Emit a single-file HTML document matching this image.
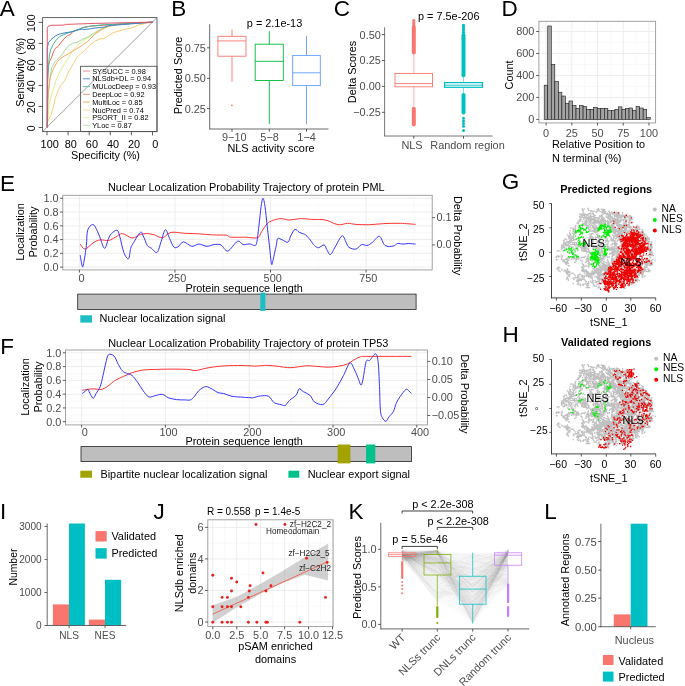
<!DOCTYPE html>
<html><head><meta charset="utf-8"><style>
html,body{margin:0;padding:0;background:#fff;overflow:hidden}
svg{display:block;will-change:transform}
text{font-family:"Liberation Sans",sans-serif}
</style></head><body>
<svg width="685" height="686" viewBox="0 0 685 686">
<rect width="685" height="686" fill="#fff"/>
<text x="-0.20" y="15.70" font-size="22.5">A</text>
<line x1="42.60" y1="131.60" x2="157.00" y2="17.60" stroke="#777" stroke-width="0.7"/>
<path d="M47.25 127.50 L47.25 122.50 L50.80 115.50 L53.40 106.80 L55.10 98.90 L56.90 93.60 L60.40 85.80 L64.80 80.50 L66.50 77.00 L68.30 71.80 L70.00 69.50 L73.50 63.40 L77.00 57.30 L80.50 53.80 L84.00 51.20 L87.50 47.60 L91.00 44.10 L94.50 41.50 L98.90 39.30 L104.20 38.20 L113.40 32.60 L122.60 29.90 L131.80 28.00 L139.20 24.80 L145.60 23.40 L153.00 22.10" fill="none" stroke="#FDCB78" stroke-width="1.0" stroke-linejoin="round"/>
<path d="M47.25 127.50 L49.00 105.00 L52.50 91.90 L56.00 80.50 L57.50 77.00 L59.50 72.60 L62.10 67.80 L66.50 60.80 L70.90 53.80 L75.30 47.60 L78.80 44.10 L83.20 40.60 L87.50 38.00 L94.50 33.60 L102.00 29.30 L108.80 26.20 L118.00 24.40 L131.80 23.40 L153.00 22.10" fill="none" stroke="#DCEE88" stroke-width="1.0" stroke-linejoin="round"/>
<path d="M47.25 127.50 L47.25 118.20 L48.10 96.30 L49.90 78.80 L51.60 67.80 L55.10 61.70 L59.50 57.30 L62.10 54.70 L64.80 50.30 L68.30 45.90 L72.60 43.30 L77.00 42.40 L81.40 39.80 L87.50 37.10 L94.50 32.80 L102.00 28.40 L108.80 26.20 L118.00 24.40 L131.80 23.40 L153.00 22.10" fill="none" stroke="#A8DAA0" stroke-width="1.0" stroke-linejoin="round"/>
<path d="M47.25 127.50 L47.60 105.00 L48.50 90.00 L49.50 82.00 L50.30 77.00 L53.40 68.70 L56.90 62.50 L59.50 59.00 L63.00 56.80 L68.30 53.80 L72.60 51.20 L77.00 48.50 L81.40 45.90 L87.50 41.50 L91.00 38.00 L94.50 34.50 L102.00 29.30 L108.80 26.20 L118.00 24.40 L131.80 23.40 L153.00 22.10" fill="none" stroke="#FBA75E" stroke-width="1.0" stroke-linejoin="round"/>
<path d="M47.25 127.50 L47.40 90.00 L48.10 66.00 L49.90 60.80 L51.60 57.30 L53.40 52.00 L55.10 48.50 L57.80 46.80 L60.40 43.30 L63.90 38.90 L67.40 35.80 L70.90 34.10 L71.80 32.30 L77.00 30.10 L83.20 27.50 L90.20 26.20 L102.00 25.30 L153.00 22.10" fill="none" stroke="#F26B45" stroke-width="1.0" stroke-linejoin="round"/>
<path d="M47.25 127.50 L47.60 80.00 L48.60 66.00 L49.40 54.70 L50.80 49.40 L53.40 44.10 L56.00 40.20 L59.50 36.70 L63.90 34.50 L70.90 31.90 L77.00 30.10 L83.20 27.50 L90.20 26.20 L102.00 24.90 L153.00 22.10" fill="none" stroke="#45B59A" stroke-width="1.0" stroke-linejoin="round"/>
<path d="M47.25 127.50 L47.25 47.60 L48.60 42.40 L50.80 39.80 L53.40 37.60 L56.00 35.60 L59.50 34.10 L63.90 33.00 L68.30 32.30 L71.80 31.90 L77.00 30.10 L81.40 29.30 L85.80 29.40 L90.20 28.80 L95.00 28.00 L104.20 27.10 L108.80 25.70 L153.00 22.10" fill="none" stroke="#3A87C8" stroke-width="1.0" stroke-linejoin="round"/>
<path d="M47.25 127.50 L47.25 28.40 L48.00 26.40 L50.80 25.30 L63.90 25.10 L65.60 24.40 L77.00 24.00 L95.00 23.40 L153.00 22.10" fill="none" stroke="#E4566C" stroke-width="1.0" stroke-linejoin="round"/>
<rect x="42.60" y="17.60" width="114.40" height="114.00" fill="none" stroke="#555" stroke-width="0.9"/>
<line x1="38.60" y1="127.50" x2="42.60" y2="127.50" stroke="#333" stroke-width="0.8"/>
<text transform="translate(30.90 128.30) rotate(-90)" x="0" y="3.79" font-size="10.6" text-anchor="middle" fill="#000">0</text>
<line x1="38.60" y1="106.48" x2="42.60" y2="106.48" stroke="#333" stroke-width="0.8"/>
<text transform="translate(30.90 107.28) rotate(-90)" x="0" y="3.79" font-size="10.6" text-anchor="middle" fill="#000">20</text>
<line x1="38.60" y1="85.46" x2="42.60" y2="85.46" stroke="#333" stroke-width="0.8"/>
<text transform="translate(30.90 86.26) rotate(-90)" x="0" y="3.79" font-size="10.6" text-anchor="middle" fill="#000">40</text>
<line x1="38.60" y1="64.44" x2="42.60" y2="64.44" stroke="#333" stroke-width="0.8"/>
<text transform="translate(30.90 65.24) rotate(-90)" x="0" y="3.79" font-size="10.6" text-anchor="middle" fill="#000">60</text>
<line x1="38.60" y1="43.42" x2="42.60" y2="43.42" stroke="#333" stroke-width="0.8"/>
<text transform="translate(30.90 44.22) rotate(-90)" x="0" y="3.79" font-size="10.6" text-anchor="middle" fill="#000">80</text>
<line x1="38.60" y1="22.40" x2="42.60" y2="22.40" stroke="#333" stroke-width="0.8"/>
<text transform="translate(30.90 23.20) rotate(-90)" x="0" y="3.79" font-size="10.6" text-anchor="middle" fill="#000">100</text>
<line x1="47.00" y1="131.60" x2="47.00" y2="135.30" stroke="#333" stroke-width="0.8"/>
<text x="49.70" y="148.10" font-size="10.9" text-anchor="middle">100</text>
<line x1="68.10" y1="131.60" x2="68.10" y2="135.30" stroke="#333" stroke-width="0.8"/>
<text x="70.80" y="148.10" font-size="10.9" text-anchor="middle">80</text>
<line x1="89.20" y1="131.60" x2="89.20" y2="135.30" stroke="#333" stroke-width="0.8"/>
<text x="91.90" y="148.10" font-size="10.9" text-anchor="middle">60</text>
<line x1="110.30" y1="131.60" x2="110.30" y2="135.30" stroke="#333" stroke-width="0.8"/>
<text x="113.00" y="148.10" font-size="10.9" text-anchor="middle">40</text>
<line x1="131.40" y1="131.60" x2="131.40" y2="135.30" stroke="#333" stroke-width="0.8"/>
<text x="134.10" y="148.10" font-size="10.9" text-anchor="middle">20</text>
<line x1="152.50" y1="131.60" x2="152.50" y2="135.30" stroke="#333" stroke-width="0.8"/>
<text x="155.20" y="148.10" font-size="10.9" text-anchor="middle">0</text>
<text x="105.50" y="159.40" font-size="10.9" text-anchor="middle">Specificity (%)</text>
<text transform="translate(19.80 72.30) rotate(-90)" x="0" y="3.90" font-size="10.9" text-anchor="middle" fill="#000">Sensitivity (%)</text>
<rect x="80.60" y="66.30" width="76.40" height="65.30" fill="none" stroke="#555" stroke-width="0.9"/>
<line x1="82.90" y1="71.00" x2="89.90" y2="71.00" stroke="#EE9AAA" stroke-width="1.2"/>
<text x="92.20" y="73.65" font-size="7.4">SYSUCC = 0.98</text>
<line x1="82.90" y1="78.77" x2="89.90" y2="78.77" stroke="#70A8D8" stroke-width="1.2"/>
<text x="92.20" y="81.42" font-size="7.4">NLSdb+DL = 0.94</text>
<line x1="82.90" y1="86.54" x2="89.90" y2="86.54" stroke="#70C8AE" stroke-width="1.2"/>
<text x="92.20" y="89.19" font-size="7.4">MULocDeep = 0.93</text>
<line x1="82.90" y1="94.31" x2="89.90" y2="94.31" stroke="#F6A898" stroke-width="1.2"/>
<text x="92.20" y="96.96" font-size="7.4">DeepLoc = 0.92</text>
<line x1="82.90" y1="102.08" x2="89.90" y2="102.08" stroke="#FDBA80" stroke-width="1.2"/>
<text x="92.20" y="104.73" font-size="7.4">MultiLoc = 0.85</text>
<line x1="82.90" y1="109.85" x2="89.90" y2="109.85" stroke="#FEE2A8" stroke-width="1.2"/>
<text x="92.20" y="112.50" font-size="7.4">NucPred = 0.74</text>
<line x1="82.90" y1="117.62" x2="89.90" y2="117.62" stroke="#EEF5B0" stroke-width="1.2"/>
<text x="92.20" y="120.27" font-size="7.4">PSORT_II = 0.82</text>
<line x1="82.90" y1="125.39" x2="89.90" y2="125.39" stroke="#C4E6C0" stroke-width="1.2"/>
<text x="92.20" y="128.04" font-size="7.4">YLoc = 0.87</text>
<text x="171.20" y="15.70" font-size="22.5">B</text>
<line x1="209.70" y1="24.30" x2="209.70" y2="129.30" stroke="#444" stroke-width="0.8"/>
<line x1="209.40" y1="129.00" x2="328.50" y2="129.00" stroke="#444" stroke-width="0.8"/>
<line x1="207.00" y1="47.80" x2="209.70" y2="47.80" stroke="#333" stroke-width="0.8"/>
<text x="205.90" y="51.70" font-size="10.9" text-anchor="end" fill="#4D4D4D">0.75</text>
<line x1="207.00" y1="78.40" x2="209.70" y2="78.40" stroke="#333" stroke-width="0.8"/>
<text x="205.90" y="82.30" font-size="10.9" text-anchor="end" fill="#4D4D4D">0.50</text>
<line x1="207.00" y1="108.60" x2="209.70" y2="108.60" stroke="#333" stroke-width="0.8"/>
<text x="205.90" y="112.50" font-size="10.9" text-anchor="end" fill="#4D4D4D">0.25</text>
<line x1="232.00" y1="129.00" x2="232.00" y2="131.70" stroke="#333" stroke-width="0.8"/>
<text x="234.30" y="141.40" font-size="10.9" text-anchor="middle" fill="#4D4D4D">9−10</text>
<line x1="269.30" y1="129.00" x2="269.30" y2="131.70" stroke="#333" stroke-width="0.8"/>
<text x="269.60" y="141.40" font-size="10.9" text-anchor="middle" fill="#4D4D4D">5−8</text>
<line x1="306.50" y1="129.00" x2="306.50" y2="131.70" stroke="#333" stroke-width="0.8"/>
<text x="306.60" y="141.40" font-size="10.9" text-anchor="middle" fill="#4D4D4D">1−4</text>
<text x="271.00" y="152.40" font-size="10.9" text-anchor="middle">NLS activity score</text>
<text transform="translate(178.30 75.40) rotate(-90)" x="0" y="3.90" font-size="10.9" text-anchor="middle" fill="#000">Predicted Score</text>
<text x="246.80" y="27.40" font-size="10.9">p = 2.1e-13</text>
<line x1="232.00" y1="36.30" x2="232.00" y2="29.40" stroke="#F8766D" stroke-width="0.9"/>
<line x1="232.00" y1="56.20" x2="232.00" y2="81.80" stroke="#F8766D" stroke-width="0.9"/>
<rect x="217.90" y="36.30" width="28.10" height="19.90" fill="none" stroke="#F8766D" stroke-width="0.9"/>
<line x1="217.90" y1="40.90" x2="246.00" y2="40.90" stroke="#F8766D" stroke-width="0.9"/>
<circle cx="231.9" cy="105.3" r="0.9" fill="#F8766D"/>
<line x1="269.30" y1="44.20" x2="269.30" y2="31.20" stroke="#00BA38" stroke-width="0.9"/>
<line x1="269.30" y1="80.50" x2="269.30" y2="123.90" stroke="#00BA38" stroke-width="0.9"/>
<rect x="255.20" y="44.20" width="28.10" height="36.30" fill="none" stroke="#00BA38" stroke-width="0.9"/>
<line x1="255.20" y1="61.30" x2="283.30" y2="61.30" stroke="#00BA38" stroke-width="0.9"/>
<line x1="306.50" y1="55.40" x2="306.50" y2="35.80" stroke="#619CFF" stroke-width="0.9"/>
<line x1="306.50" y1="85.60" x2="306.50" y2="124.40" stroke="#619CFF" stroke-width="0.9"/>
<rect x="292.70" y="55.40" width="27.60" height="30.20" fill="none" stroke="#619CFF" stroke-width="0.9"/>
<line x1="292.70" y1="72.80" x2="320.30" y2="72.80" stroke="#619CFF" stroke-width="0.9"/>
<text x="333.70" y="15.70" font-size="22.5">C</text>
<line x1="384.60" y1="27.30" x2="384.60" y2="136.30" stroke="#555" stroke-width="0.8"/>
<line x1="384.30" y1="136.00" x2="492.50" y2="136.00" stroke="#555" stroke-width="0.8"/>
<line x1="381.90" y1="34.60" x2="384.60" y2="34.60" stroke="#333" stroke-width="0.8"/>
<text x="380.80" y="38.50" font-size="10.9" text-anchor="end" fill="#4D4D4D">0.50</text>
<line x1="381.90" y1="60.50" x2="384.60" y2="60.50" stroke="#333" stroke-width="0.8"/>
<text x="380.80" y="64.40" font-size="10.9" text-anchor="end" fill="#4D4D4D">0.25</text>
<line x1="381.90" y1="86.40" x2="384.60" y2="86.40" stroke="#333" stroke-width="0.8"/>
<text x="380.80" y="90.30" font-size="10.9" text-anchor="end" fill="#4D4D4D">0.00</text>
<line x1="381.90" y1="112.30" x2="384.60" y2="112.30" stroke="#333" stroke-width="0.8"/>
<text x="380.80" y="116.20" font-size="10.9" text-anchor="end" fill="#4D4D4D">−0.25</text>
<line x1="413.80" y1="136.00" x2="413.80" y2="138.70" stroke="#333" stroke-width="0.8"/>
<line x1="463.50" y1="136.00" x2="463.50" y2="138.70" stroke="#333" stroke-width="0.8"/>
<text x="412.00" y="148.90" font-size="10.9" text-anchor="middle" fill="#4D4D4D">NLS</text>
<text x="467.50" y="148.90" font-size="10.9" text-anchor="middle" fill="#4D4D4D">Random region</text>
<text transform="translate(352.30 72.00) rotate(-90)" x="0" y="3.90" font-size="10.9" text-anchor="middle" fill="#000">Delta Scores</text>
<text x="418.00" y="20.00" font-size="10.9">p = 7.5e-206</text>
<line x1="413.80" y1="73.40" x2="413.80" y2="53.30" stroke="#FBB4AE" stroke-width="1"/>
<line x1="413.80" y1="86.80" x2="413.80" y2="106.70" stroke="#FBB4AE" stroke-width="1"/>
<rect x="395.00" y="73.40" width="37.50" height="13.40" fill="none" stroke="#F8766D" stroke-width="0.9"/>
<line x1="395.00" y1="83.60" x2="432.50" y2="83.60" stroke="#F8766D" stroke-width="0.9"/>
<circle cx="413.8" cy="20.60" r="1.6" fill="#F8766D"/>
<circle cx="413.8" cy="22.90" r="1.6" fill="#F8766D"/>
<circle cx="413.8" cy="25.20" r="1.6" fill="#F8766D"/>
<rect x="411.80" y="25.50" width="4.00" height="29.00" fill="#F8766D" rx="2"/>
<rect x="411.80" y="106.80" width="4.00" height="19.60" fill="#F8766D" rx="2"/>
<line x1="463.50" y1="82.60" x2="463.50" y2="74.40" stroke="#7FDFE1" stroke-width="1"/>
<line x1="463.50" y1="87.30" x2="463.50" y2="93.00" stroke="#7FDFE1" stroke-width="1"/>
<rect x="444.60" y="82.60" width="37.80" height="4.70" fill="none" stroke="#00BFC4" stroke-width="1.2"/>
<line x1="444.60" y1="85.20" x2="482.40" y2="85.20" stroke="#00BFC4" stroke-width="0.9"/>
<circle cx="463.5" cy="25.40" r="1.6" fill="#00BFC4"/>
<circle cx="463.5" cy="27.70" r="1.6" fill="#00BFC4"/>
<circle cx="463.5" cy="30.00" r="1.6" fill="#00BFC4"/>
<circle cx="463.5" cy="32.30" r="1.6" fill="#00BFC4"/>
<rect x="461.50" y="33.00" width="4.00" height="44.20" fill="#00BFC4" rx="2"/>
<rect x="461.50" y="93.00" width="4.00" height="21.50" fill="#00BFC4" rx="2"/>
<circle cx="463.5" cy="118.3" r="1.5" fill="#00BFC4"/>
<circle cx="463.5" cy="121.0" r="1.5" fill="#00BFC4"/>
<circle cx="463.5" cy="123.6" r="1.5" fill="#00BFC4"/>
<circle cx="463.5" cy="126.2" r="1.5" fill="#00BFC4"/>
<circle cx="463.5" cy="130.6" r="1.5" fill="#00BFC4"/>
<text x="501.50" y="15.70" font-size="22.5">D</text>
<rect x="538.90" y="21.30" width="116.70" height="101.60" fill="#fff"/>
<line x1="538.90" y1="108.41" x2="655.60" y2="108.41" stroke="#F2F2F2" stroke-width="0.5"/>
<line x1="538.90" y1="86.44" x2="655.60" y2="86.44" stroke="#F2F2F2" stroke-width="0.5"/>
<line x1="538.90" y1="64.47" x2="655.60" y2="64.47" stroke="#F2F2F2" stroke-width="0.5"/>
<line x1="538.90" y1="42.49" x2="655.60" y2="42.49" stroke="#F2F2F2" stroke-width="0.5"/>
<line x1="558.96" y1="21.30" x2="558.96" y2="122.90" stroke="#F2F2F2" stroke-width="0.5"/>
<line x1="584.67" y1="21.30" x2="584.67" y2="122.90" stroke="#F2F2F2" stroke-width="0.5"/>
<line x1="610.38" y1="21.30" x2="610.38" y2="122.90" stroke="#F2F2F2" stroke-width="0.5"/>
<line x1="636.09" y1="21.30" x2="636.09" y2="122.90" stroke="#F2F2F2" stroke-width="0.5"/>
<line x1="538.90" y1="119.40" x2="655.60" y2="119.40" stroke="#EBEBEB" stroke-width="0.9"/>
<line x1="538.90" y1="97.43" x2="655.60" y2="97.43" stroke="#EBEBEB" stroke-width="0.9"/>
<line x1="538.90" y1="75.45" x2="655.60" y2="75.45" stroke="#EBEBEB" stroke-width="0.9"/>
<line x1="538.90" y1="53.48" x2="655.60" y2="53.48" stroke="#EBEBEB" stroke-width="0.9"/>
<line x1="538.90" y1="31.50" x2="655.60" y2="31.50" stroke="#EBEBEB" stroke-width="0.9"/>
<line x1="546.10" y1="21.30" x2="546.10" y2="122.90" stroke="#EBEBEB" stroke-width="0.9"/>
<line x1="571.81" y1="21.30" x2="571.81" y2="122.90" stroke="#EBEBEB" stroke-width="0.9"/>
<line x1="597.52" y1="21.30" x2="597.52" y2="122.90" stroke="#EBEBEB" stroke-width="0.9"/>
<line x1="623.24" y1="21.30" x2="623.24" y2="122.90" stroke="#EBEBEB" stroke-width="0.9"/>
<line x1="648.95" y1="21.30" x2="648.95" y2="122.90" stroke="#EBEBEB" stroke-width="0.9"/>
<rect x="544.20" y="85.22" width="3.54" height="34.18" fill="#A3A3A3" stroke="#1a1a1a" stroke-width="0.6"/>
<rect x="547.74" y="26.01" width="3.54" height="93.39" fill="#A3A3A3" stroke="#1a1a1a" stroke-width="0.6"/>
<rect x="551.27" y="64.35" width="3.54" height="55.05" fill="#A3A3A3" stroke="#1a1a1a" stroke-width="0.6"/>
<rect x="554.81" y="81.43" width="3.54" height="37.97" fill="#A3A3A3" stroke="#1a1a1a" stroke-width="0.6"/>
<rect x="558.34" y="92.24" width="3.54" height="27.16" fill="#A3A3A3" stroke="#1a1a1a" stroke-width="0.6"/>
<rect x="561.88" y="96.04" width="3.54" height="23.36" fill="#A3A3A3" stroke="#1a1a1a" stroke-width="0.6"/>
<rect x="565.41" y="103.25" width="3.54" height="16.15" fill="#A3A3A3" stroke="#1a1a1a" stroke-width="0.6"/>
<rect x="568.95" y="100.97" width="3.54" height="18.43" fill="#A3A3A3" stroke="#1a1a1a" stroke-width="0.6"/>
<rect x="572.48" y="105.53" width="3.54" height="13.87" fill="#A3A3A3" stroke="#1a1a1a" stroke-width="0.6"/>
<rect x="576.02" y="108.38" width="3.54" height="11.02" fill="#A3A3A3" stroke="#1a1a1a" stroke-width="0.6"/>
<rect x="579.55" y="105.53" width="3.54" height="13.87" fill="#A3A3A3" stroke="#1a1a1a" stroke-width="0.6"/>
<rect x="583.09" y="106.48" width="3.54" height="12.92" fill="#A3A3A3" stroke="#1a1a1a" stroke-width="0.6"/>
<rect x="586.62" y="109.33" width="3.54" height="10.07" fill="#A3A3A3" stroke="#1a1a1a" stroke-width="0.6"/>
<rect x="590.16" y="109.33" width="3.54" height="10.07" fill="#A3A3A3" stroke="#1a1a1a" stroke-width="0.6"/>
<rect x="593.69" y="107.43" width="3.54" height="11.97" fill="#A3A3A3" stroke="#1a1a1a" stroke-width="0.6"/>
<rect x="597.23" y="108.38" width="3.54" height="11.02" fill="#A3A3A3" stroke="#1a1a1a" stroke-width="0.6"/>
<rect x="600.76" y="108.38" width="3.54" height="11.02" fill="#A3A3A3" stroke="#1a1a1a" stroke-width="0.6"/>
<rect x="604.30" y="108.38" width="3.54" height="11.02" fill="#A3A3A3" stroke="#1a1a1a" stroke-width="0.6"/>
<rect x="607.83" y="110.46" width="3.54" height="8.94" fill="#A3A3A3" stroke="#1a1a1a" stroke-width="0.6"/>
<rect x="611.37" y="110.46" width="3.54" height="8.94" fill="#A3A3A3" stroke="#1a1a1a" stroke-width="0.6"/>
<rect x="614.90" y="109.33" width="3.54" height="10.07" fill="#A3A3A3" stroke="#1a1a1a" stroke-width="0.6"/>
<rect x="618.44" y="106.86" width="3.54" height="12.54" fill="#A3A3A3" stroke="#1a1a1a" stroke-width="0.6"/>
<rect x="621.97" y="109.33" width="3.54" height="10.07" fill="#A3A3A3" stroke="#1a1a1a" stroke-width="0.6"/>
<rect x="625.51" y="108.38" width="3.54" height="11.02" fill="#A3A3A3" stroke="#1a1a1a" stroke-width="0.6"/>
<rect x="629.04" y="108.00" width="3.54" height="11.40" fill="#A3A3A3" stroke="#1a1a1a" stroke-width="0.6"/>
<rect x="632.58" y="110.27" width="3.54" height="9.13" fill="#A3A3A3" stroke="#1a1a1a" stroke-width="0.6"/>
<rect x="636.11" y="106.48" width="3.54" height="12.92" fill="#A3A3A3" stroke="#1a1a1a" stroke-width="0.6"/>
<rect x="639.65" y="108.00" width="3.54" height="11.40" fill="#A3A3A3" stroke="#1a1a1a" stroke-width="0.6"/>
<rect x="643.18" y="109.33" width="3.54" height="10.07" fill="#A3A3A3" stroke="#1a1a1a" stroke-width="0.6"/>
<rect x="646.72" y="117.49" width="3.54" height="1.91" fill="#A3A3A3" stroke="#1a1a1a" stroke-width="0.6"/>
<rect x="538.90" y="21.30" width="116.70" height="101.60" fill="none" stroke="#999" stroke-width="0.9"/>
<line x1="536.20" y1="119.40" x2="538.90" y2="119.40" stroke="#333" stroke-width="0.8"/>
<text x="534.30" y="123.30" font-size="10.9" text-anchor="end" fill="#4D4D4D">0</text>
<line x1="536.20" y1="97.43" x2="538.90" y2="97.43" stroke="#333" stroke-width="0.8"/>
<text x="534.30" y="101.33" font-size="10.9" text-anchor="end" fill="#4D4D4D">200</text>
<line x1="536.20" y1="75.45" x2="538.90" y2="75.45" stroke="#333" stroke-width="0.8"/>
<text x="534.30" y="79.35" font-size="10.9" text-anchor="end" fill="#4D4D4D">400</text>
<line x1="536.20" y1="53.48" x2="538.90" y2="53.48" stroke="#333" stroke-width="0.8"/>
<text x="534.30" y="57.38" font-size="10.9" text-anchor="end" fill="#4D4D4D">600</text>
<line x1="536.20" y1="31.50" x2="538.90" y2="31.50" stroke="#333" stroke-width="0.8"/>
<text x="534.30" y="35.41" font-size="10.9" text-anchor="end" fill="#4D4D4D">800</text>
<line x1="546.10" y1="122.90" x2="546.10" y2="125.60" stroke="#333" stroke-width="0.8"/>
<text x="546.10" y="136.50" font-size="10.9" text-anchor="middle" fill="#4D4D4D">0</text>
<line x1="571.81" y1="122.90" x2="571.81" y2="125.60" stroke="#333" stroke-width="0.8"/>
<text x="571.81" y="136.50" font-size="10.9" text-anchor="middle" fill="#4D4D4D">25</text>
<line x1="597.52" y1="122.90" x2="597.52" y2="125.60" stroke="#333" stroke-width="0.8"/>
<text x="597.52" y="136.50" font-size="10.9" text-anchor="middle" fill="#4D4D4D">50</text>
<line x1="623.24" y1="122.90" x2="623.24" y2="125.60" stroke="#333" stroke-width="0.8"/>
<text x="623.24" y="136.50" font-size="10.9" text-anchor="middle" fill="#4D4D4D">75</text>
<line x1="648.95" y1="122.90" x2="648.95" y2="125.60" stroke="#333" stroke-width="0.8"/>
<text x="648.95" y="136.50" font-size="10.9" text-anchor="middle" fill="#4D4D4D">100</text>
<text x="551.90" y="148.10" font-size="10.9">Relative Position to</text>
<text x="551.90" y="161.50" font-size="10.9">N terminal (%)</text>
<text transform="translate(509.40 74.90) rotate(-90)" x="0" y="3.90" font-size="10.9" text-anchor="middle" fill="#000">Count</text>
<text x="0.00" y="190.80" font-size="22.5">E</text>
<rect x="62.80" y="195.30" width="369.40" height="74.60" fill="#fff"/>
<line x1="62.80" y1="260.22" x2="432.20" y2="260.22" stroke="#F2F2F2" stroke-width="0.5"/>
<line x1="62.80" y1="246.46" x2="432.20" y2="246.46" stroke="#F2F2F2" stroke-width="0.5"/>
<line x1="62.80" y1="232.70" x2="432.20" y2="232.70" stroke="#F2F2F2" stroke-width="0.5"/>
<line x1="62.80" y1="218.94" x2="432.20" y2="218.94" stroke="#F2F2F2" stroke-width="0.5"/>
<line x1="62.80" y1="205.18" x2="432.20" y2="205.18" stroke="#F2F2F2" stroke-width="0.5"/>
<line x1="127.18" y1="195.30" x2="127.18" y2="269.90" stroke="#F2F2F2" stroke-width="0.5"/>
<line x1="222.72" y1="195.30" x2="222.72" y2="269.90" stroke="#F2F2F2" stroke-width="0.5"/>
<line x1="318.27" y1="195.30" x2="318.27" y2="269.90" stroke="#F2F2F2" stroke-width="0.5"/>
<line x1="413.83" y1="195.30" x2="413.83" y2="269.90" stroke="#F2F2F2" stroke-width="0.5"/>
<line x1="62.80" y1="267.10" x2="432.20" y2="267.10" stroke="#EBEBEB" stroke-width="0.9"/>
<line x1="62.80" y1="253.34" x2="432.20" y2="253.34" stroke="#EBEBEB" stroke-width="0.9"/>
<line x1="62.80" y1="239.58" x2="432.20" y2="239.58" stroke="#EBEBEB" stroke-width="0.9"/>
<line x1="62.80" y1="225.82" x2="432.20" y2="225.82" stroke="#EBEBEB" stroke-width="0.9"/>
<line x1="62.80" y1="212.06" x2="432.20" y2="212.06" stroke="#EBEBEB" stroke-width="0.9"/>
<line x1="62.80" y1="198.30" x2="432.20" y2="198.30" stroke="#EBEBEB" stroke-width="0.9"/>
<line x1="79.40" y1="195.30" x2="79.40" y2="269.90" stroke="#EBEBEB" stroke-width="0.9"/>
<line x1="174.95" y1="195.30" x2="174.95" y2="269.90" stroke="#EBEBEB" stroke-width="0.9"/>
<line x1="270.50" y1="195.30" x2="270.50" y2="269.90" stroke="#EBEBEB" stroke-width="0.9"/>
<line x1="366.05" y1="195.30" x2="366.05" y2="269.90" stroke="#EBEBEB" stroke-width="0.9"/>
<path d="M80.20 244.10 C81.00 244.93 82.82 249.33 85.00 249.10 C87.18 248.87 90.77 244.23 93.30 242.70 C95.83 241.17 97.67 240.27 100.20 239.90 C102.73 239.53 105.95 240.95 108.50 240.50 C111.05 240.05 113.18 238.35 115.50 237.20 C117.82 236.05 119.63 233.47 122.40 233.60 C125.17 233.73 129.10 237.87 132.10 238.00 C135.10 238.13 137.85 235.13 140.40 234.40 C142.95 233.67 145.08 233.52 147.40 233.60 C149.72 233.68 151.77 234.22 154.30 234.90 C156.83 235.58 159.82 238.12 162.60 237.70 C165.38 237.28 167.30 233.13 171.00 232.40 C174.70 231.67 180.18 233.07 184.80 233.30 C189.42 233.53 194.07 233.53 198.70 233.80 C203.33 234.07 207.98 234.67 212.60 234.90 C217.22 235.13 223.40 234.82 226.40 235.20 C229.40 235.58 227.50 236.87 230.60 237.20 C233.70 237.53 240.52 237.12 245.00 237.20 C249.48 237.28 254.73 238.63 257.50 237.70 C260.27 236.77 259.98 233.92 261.60 231.60 C263.22 229.28 265.35 225.65 267.20 223.80 C269.05 221.95 270.38 221.37 272.70 220.50 C275.02 219.63 278.32 218.68 281.10 218.60 C283.88 218.52 286.17 220.00 289.40 220.00 C292.63 220.00 296.80 218.70 300.50 218.60 C304.20 218.50 307.45 219.17 311.60 219.40 C315.75 219.63 321.02 219.12 325.40 220.00 C329.78 220.88 334.20 224.15 337.90 224.70 C341.60 225.25 344.58 223.35 347.60 223.30 C350.62 223.25 352.30 224.17 356.00 224.40 C359.70 224.63 365.18 224.83 369.80 224.70 C374.42 224.57 378.62 223.83 383.70 223.60 C388.78 223.37 394.98 223.17 400.30 223.30 C405.62 223.43 413.05 224.22 415.60 224.40" fill="none" stroke="#FF2A2A" stroke-width="0.95" stroke-linejoin="round"/>
<path d="M80.20 255.20 C80.53 257.05 81.63 264.92 82.20 266.30 C82.77 267.68 82.90 266.97 83.60 263.50 C84.30 260.03 85.72 251.05 86.40 245.50 C87.08 239.95 86.55 233.67 87.70 230.20 C88.85 226.73 91.45 224.00 93.30 224.70 C95.15 225.40 96.95 230.47 98.80 234.40 C100.65 238.33 102.78 247.62 104.40 248.30 C106.02 248.98 107.35 240.92 108.50 238.50 C109.65 236.08 109.90 235.18 111.30 233.80 C112.70 232.42 115.52 229.87 116.90 230.20 C118.28 230.53 118.45 232.10 119.60 235.80 C120.75 239.50 122.32 248.57 123.80 252.40 C125.28 256.23 127.35 259.48 128.50 258.80 C129.65 258.12 129.87 250.98 130.70 248.30 C131.53 245.62 131.88 245.35 133.50 242.70 C135.12 240.05 138.78 233.55 140.40 232.40 C142.02 231.25 142.03 233.62 143.20 235.80 C144.37 237.98 146.02 243.42 147.40 245.50 C148.78 247.58 149.88 247.15 151.50 248.30 C153.12 249.45 155.48 253.57 157.10 252.40 C158.72 251.23 159.82 245.08 161.20 241.30 C162.58 237.52 164.00 230.17 165.40 229.70 C166.80 229.23 168.22 235.63 169.60 238.50 C170.98 241.37 172.32 245.50 173.70 246.90 C175.08 248.30 176.28 247.73 177.90 246.90 C179.52 246.07 181.08 242.00 183.40 241.90 C185.72 241.80 189.25 245.93 191.80 246.30 C194.35 246.67 196.17 244.10 198.70 244.10 C201.23 244.10 204.45 246.22 207.00 246.30 C209.55 246.38 211.68 244.83 214.00 244.60 C216.32 244.37 218.60 243.83 220.90 244.90 C223.20 245.97 225.03 251.60 227.80 251.00 C230.57 250.40 234.95 242.37 237.50 241.30 C240.05 240.23 241.38 244.13 243.10 244.60 C244.82 245.07 246.57 244.18 247.80 244.10 C249.03 244.02 249.35 243.87 250.50 244.10 C251.65 244.33 253.67 245.73 254.70 245.50 C255.73 245.27 256.00 245.93 256.70 242.70 C257.40 239.47 258.17 232.12 258.90 226.10 C259.63 220.08 260.42 211.23 261.10 206.60 C261.78 201.97 262.35 198.30 263.00 198.30 C263.65 198.30 264.30 201.97 265.00 206.60 C265.70 211.23 266.47 219.62 267.20 226.10 C267.93 232.58 268.70 239.27 269.40 245.50 C270.10 251.73 270.85 260.82 271.40 263.50 C271.95 266.18 272.10 263.68 272.70 261.60 C273.30 259.52 274.40 253.68 275.00 251.00 C275.60 248.32 275.85 247.58 276.30 245.50 C276.75 243.42 276.68 239.43 277.70 238.50 C278.72 237.57 280.68 239.28 282.40 239.90 C284.12 240.52 286.60 242.88 288.00 242.20 C289.40 241.52 289.65 237.93 290.80 235.80 C291.95 233.67 293.52 230.00 294.90 229.40 C296.28 228.80 297.70 231.47 299.10 232.20 C300.50 232.93 302.15 233.30 303.30 233.80 C304.45 234.30 304.85 234.18 306.00 235.20 C307.15 236.22 308.80 238.18 310.20 239.90 C311.60 241.62 313.02 244.20 314.40 245.50 C315.78 246.80 316.88 247.80 318.50 247.70 C320.12 247.60 322.72 244.58 324.10 244.90 C325.48 245.22 325.75 247.98 326.80 249.60 C327.85 251.22 329.00 255.05 330.40 254.60 C331.80 254.15 333.25 250.03 335.20 246.90 C337.15 243.77 340.27 236.50 342.10 235.80 C343.93 235.10 345.05 240.77 346.20 242.70 C347.35 244.63 347.37 246.33 349.00 247.40 C350.63 248.47 353.92 249.57 356.00 249.10 C358.08 248.63 359.65 245.20 361.50 244.60 C363.35 244.00 365.25 245.90 367.10 245.50 C368.95 245.10 370.53 243.73 372.60 242.20 C374.67 240.67 377.42 235.75 379.50 236.30 C381.58 236.85 382.78 243.88 385.10 245.50 C387.42 247.12 391.32 246.33 393.40 246.00 C395.48 245.67 395.98 243.82 397.60 243.50 C399.22 243.18 401.25 244.10 403.10 244.10 C404.95 244.10 406.62 243.50 408.70 243.50 C410.78 243.50 414.45 244.00 415.60 244.10" fill="none" stroke="#2A2AFF" stroke-width="0.95" stroke-linejoin="round"/>
<rect x="62.80" y="195.30" width="369.40" height="74.60" fill="none" stroke="#999" stroke-width="0.9"/>
<line x1="60.10" y1="267.10" x2="62.80" y2="267.10" stroke="#333" stroke-width="0.8"/>
<text x="58.60" y="271.00" font-size="10.9" text-anchor="end" fill="#4D4D4D">0.0</text>
<line x1="60.10" y1="253.34" x2="62.80" y2="253.34" stroke="#333" stroke-width="0.8"/>
<text x="58.60" y="257.24" font-size="10.9" text-anchor="end" fill="#4D4D4D">0.2</text>
<line x1="60.10" y1="239.58" x2="62.80" y2="239.58" stroke="#333" stroke-width="0.8"/>
<text x="58.60" y="243.48" font-size="10.9" text-anchor="end" fill="#4D4D4D">0.4</text>
<line x1="60.10" y1="225.82" x2="62.80" y2="225.82" stroke="#333" stroke-width="0.8"/>
<text x="58.60" y="229.72" font-size="10.9" text-anchor="end" fill="#4D4D4D">0.6</text>
<line x1="60.10" y1="212.06" x2="62.80" y2="212.06" stroke="#333" stroke-width="0.8"/>
<text x="58.60" y="215.96" font-size="10.9" text-anchor="end" fill="#4D4D4D">0.8</text>
<line x1="60.10" y1="198.30" x2="62.80" y2="198.30" stroke="#333" stroke-width="0.8"/>
<text x="58.60" y="202.20" font-size="10.9" text-anchor="end" fill="#4D4D4D">1.0</text>
<line x1="79.40" y1="269.90" x2="79.40" y2="272.60" stroke="#333" stroke-width="0.8"/>
<text x="81.60" y="281.80" font-size="10.9" text-anchor="middle" fill="#4D4D4D">0</text>
<line x1="174.95" y1="269.90" x2="174.95" y2="272.60" stroke="#333" stroke-width="0.8"/>
<text x="177.15" y="281.80" font-size="10.9" text-anchor="middle" fill="#4D4D4D">250</text>
<line x1="270.50" y1="269.90" x2="270.50" y2="272.60" stroke="#333" stroke-width="0.8"/>
<text x="272.70" y="281.80" font-size="10.9" text-anchor="middle" fill="#4D4D4D">500</text>
<line x1="366.05" y1="269.90" x2="366.05" y2="272.60" stroke="#333" stroke-width="0.8"/>
<text x="368.25" y="281.80" font-size="10.9" text-anchor="middle" fill="#4D4D4D">750</text>
<line x1="432.20" y1="217.70" x2="434.90" y2="217.70" stroke="#333" stroke-width="0.8"/>
<text x="436.40" y="220.60" font-size="10.9" fill="#4D4D4D">0.1</text>
<line x1="432.20" y1="244.90" x2="434.90" y2="244.90" stroke="#333" stroke-width="0.8"/>
<text x="436.40" y="247.80" font-size="10.9" fill="#4D4D4D">0.0</text>
<text x="246.30" y="191.10" font-size="10.9" text-anchor="middle">Nuclear Localization Probability Trajectory of protein PML</text>
<text x="185.40" y="292.00" font-size="10.9">Protein sequence length</text>
<text transform="translate(20.30 232.00) rotate(-90)" x="0" y="3.90" font-size="10.9" text-anchor="middle" fill="#000">Localization</text>
<text transform="translate(33.00 232.00) rotate(-90)" x="0" y="3.90" font-size="10.9" text-anchor="middle" fill="#000">Probability</text>
<text transform="translate(457.50 235.60) rotate(90)" x="0" y="3.90" font-size="10.9" text-anchor="middle" fill="#000">Delta Probability</text>
<rect x="77.70" y="294.10" width="338.40" height="15.30" fill="#BEBEBE" stroke="#222" stroke-width="0.8"/>
<rect x="260.30" y="292.60" width="5.10" height="18.30" fill="#1CBDC5"/>
<rect x="80.30" y="315.30" width="11.70" height="7.30" fill="#1CBDC5"/>
<text x="99.60" y="321.70" font-size="10.9">Nuclear localization signal</text>
<text x="0.20" y="353.90" font-size="22.5">F</text>
<rect x="65.50" y="350.00" width="362.00" height="74.90" fill="#fff"/>
<line x1="65.50" y1="414.81" x2="427.50" y2="414.81" stroke="#F2F2F2" stroke-width="0.5"/>
<line x1="65.50" y1="401.03" x2="427.50" y2="401.03" stroke="#F2F2F2" stroke-width="0.5"/>
<line x1="65.50" y1="387.25" x2="427.50" y2="387.25" stroke="#F2F2F2" stroke-width="0.5"/>
<line x1="65.50" y1="373.47" x2="427.50" y2="373.47" stroke="#F2F2F2" stroke-width="0.5"/>
<line x1="65.50" y1="359.69" x2="427.50" y2="359.69" stroke="#F2F2F2" stroke-width="0.5"/>
<line x1="123.50" y1="350.00" x2="123.50" y2="424.90" stroke="#F2F2F2" stroke-width="0.5"/>
<line x1="207.30" y1="350.00" x2="207.30" y2="424.90" stroke="#F2F2F2" stroke-width="0.5"/>
<line x1="291.10" y1="350.00" x2="291.10" y2="424.90" stroke="#F2F2F2" stroke-width="0.5"/>
<line x1="374.90" y1="350.00" x2="374.90" y2="424.90" stroke="#F2F2F2" stroke-width="0.5"/>
<line x1="65.50" y1="421.70" x2="427.50" y2="421.70" stroke="#EBEBEB" stroke-width="0.9"/>
<line x1="65.50" y1="407.92" x2="427.50" y2="407.92" stroke="#EBEBEB" stroke-width="0.9"/>
<line x1="65.50" y1="394.14" x2="427.50" y2="394.14" stroke="#EBEBEB" stroke-width="0.9"/>
<line x1="65.50" y1="380.36" x2="427.50" y2="380.36" stroke="#EBEBEB" stroke-width="0.9"/>
<line x1="65.50" y1="366.58" x2="427.50" y2="366.58" stroke="#EBEBEB" stroke-width="0.9"/>
<line x1="65.50" y1="352.80" x2="427.50" y2="352.80" stroke="#EBEBEB" stroke-width="0.9"/>
<line x1="81.60" y1="350.00" x2="81.60" y2="424.90" stroke="#EBEBEB" stroke-width="0.9"/>
<line x1="165.40" y1="350.00" x2="165.40" y2="424.90" stroke="#EBEBEB" stroke-width="0.9"/>
<line x1="249.20" y1="350.00" x2="249.20" y2="424.90" stroke="#EBEBEB" stroke-width="0.9"/>
<line x1="333.00" y1="350.00" x2="333.00" y2="424.90" stroke="#EBEBEB" stroke-width="0.9"/>
<line x1="416.80" y1="350.00" x2="416.80" y2="424.90" stroke="#EBEBEB" stroke-width="0.9"/>
<path d="M82.20 390.20 C83.12 390.07 85.85 389.63 87.70 389.40 C89.55 389.17 91.07 388.80 93.30 388.80 C95.53 388.80 98.78 389.77 101.10 389.40 C103.42 389.03 104.80 388.13 107.20 386.60 C109.60 385.07 112.73 381.92 115.50 380.20 C118.27 378.48 121.03 377.55 123.80 376.30 C126.57 375.05 128.87 373.75 132.10 372.70 C135.33 371.65 139.03 370.55 143.20 370.00 C147.37 369.45 152.47 369.55 157.10 369.40 C161.73 369.25 165.92 369.10 171.00 369.10 C176.08 369.10 183.45 369.17 187.60 369.40 C191.75 369.63 192.67 370.73 195.90 370.50 C199.13 370.27 202.83 368.73 207.00 368.00 C211.17 367.27 215.82 366.52 220.90 366.10 C225.98 365.68 232.65 365.55 237.50 365.50 C242.35 365.45 246.90 365.70 250.00 365.80 C253.10 365.90 253.23 366.18 256.10 366.10 C258.97 366.02 263.50 365.25 267.20 365.30 C270.90 365.35 274.37 366.00 278.30 366.40 C282.23 366.80 286.18 367.80 290.80 367.70 C295.42 367.60 301.62 366.02 306.00 365.80 C310.38 365.58 313.40 366.17 317.10 366.40 C320.80 366.63 324.50 367.25 328.20 367.20 C331.90 367.15 336.07 366.65 339.30 366.10 C342.53 365.55 345.28 364.87 347.60 363.90 C349.92 362.93 351.12 361.47 353.20 360.30 C355.28 359.13 357.78 357.55 360.10 356.90 C362.42 356.25 358.55 356.48 367.10 356.40 C375.65 356.32 404.02 356.40 411.40 356.40" fill="none" stroke="#FF2A2A" stroke-width="0.95" stroke-linejoin="round"/>
<path d="M82.20 393.50 C82.67 393.18 84.08 392.28 85.00 391.60 C85.92 390.92 86.78 388.93 87.70 389.40 C88.62 389.87 89.57 392.92 90.50 394.40 C91.43 395.88 92.37 398.45 93.30 398.30 C94.23 398.15 94.95 395.45 96.10 393.50 C97.25 391.55 99.05 389.60 100.20 386.60 C101.35 383.60 102.07 379.43 103.00 375.50 C103.93 371.57 104.88 366.47 105.80 363.00 C106.72 359.53 107.12 355.85 108.50 354.70 C109.88 353.55 112.47 354.48 114.10 356.10 C115.73 357.72 116.92 361.95 118.30 364.40 C119.68 366.85 121.02 369.32 122.40 370.80 C123.78 372.28 124.98 372.52 126.60 373.30 C128.22 374.08 130.25 373.98 132.10 375.50 C133.95 377.02 135.85 379.85 137.70 382.40 C139.55 384.95 141.35 388.38 143.20 390.80 C145.05 393.22 146.72 396.12 148.80 396.90 C150.88 397.68 153.40 395.92 155.70 395.50 C158.00 395.08 160.52 394.03 162.60 394.40 C164.68 394.77 165.88 396.83 168.20 397.70 C170.52 398.57 173.73 399.23 176.50 399.60 C179.27 399.97 182.48 399.85 184.80 399.90 C187.12 399.95 188.78 400.50 190.40 399.90 C192.02 399.30 193.12 397.82 194.50 396.30 C195.88 394.78 196.85 392.42 198.70 390.80 C200.55 389.18 203.28 386.83 205.60 386.60 C207.92 386.37 210.52 388.38 212.60 389.40 C214.68 390.42 216.25 392.02 218.10 392.70 C219.95 393.38 221.38 392.90 223.70 393.50 C226.02 394.10 228.77 395.68 232.00 396.30 C235.23 396.92 240.10 396.97 243.10 397.20 C246.10 397.43 248.30 397.62 250.00 397.70 C251.70 397.78 251.58 397.98 253.30 397.70 C255.02 397.42 257.75 396.23 260.30 396.00 C262.85 395.77 266.30 395.18 268.60 396.30 C270.90 397.42 272.02 401.32 274.10 402.70 C276.18 404.08 279.25 404.13 281.10 404.60 C282.95 405.07 283.82 406.18 285.20 405.50 C286.58 404.82 287.55 402.27 289.40 400.50 C291.25 398.73 294.68 396.85 296.30 394.90 C297.92 392.95 297.93 389.35 299.10 388.80 C300.27 388.25 301.45 390.48 303.30 391.60 C305.15 392.72 308.35 393.78 310.20 395.50 C312.05 397.22 312.32 400.38 314.40 401.90 C316.48 403.42 320.40 405.07 322.70 404.60 C325.00 404.13 325.90 401.87 328.20 399.10 C330.50 396.33 333.95 391.93 336.50 388.00 C339.05 384.07 341.27 379.67 343.50 375.50 C345.73 371.33 348.05 363.92 349.90 363.00 C351.75 362.08 353.13 367.22 354.60 370.00 C356.07 372.78 357.63 377.17 358.70 379.70 C359.77 382.23 360.30 385.20 361.00 385.20 C361.70 385.20 362.03 383.63 362.90 379.70 C363.77 375.77 365.05 364.83 366.20 361.60 C367.35 358.37 368.27 361.58 369.80 360.30 C371.33 359.02 374.02 353.68 375.40 353.90 C376.78 354.12 377.42 356.15 378.10 361.60 C378.78 367.05 379.12 378.50 379.50 386.60 C379.88 394.70 379.93 405.02 380.40 410.20 C380.87 415.38 381.38 415.85 382.30 417.70 C383.22 419.55 384.75 421.48 385.90 421.30 C387.05 421.12 387.95 418.22 389.20 416.60 C390.45 414.98 392.23 413.82 393.40 411.60 C394.57 409.38 395.05 405.85 396.20 403.30 C397.35 400.75 398.68 398.62 400.30 396.30 C401.92 393.98 404.50 390.32 405.90 389.40 C407.30 388.48 407.78 390.12 408.70 390.80 C409.62 391.48 410.95 393.05 411.40 393.50" fill="none" stroke="#2A2AFF" stroke-width="0.95" stroke-linejoin="round"/>
<rect x="65.50" y="350.00" width="362.00" height="74.90" fill="none" stroke="#999" stroke-width="0.9"/>
<line x1="62.80" y1="421.70" x2="65.50" y2="421.70" stroke="#333" stroke-width="0.8"/>
<text x="61.30" y="425.60" font-size="10.9" text-anchor="end" fill="#4D4D4D">0.0</text>
<line x1="62.80" y1="407.92" x2="65.50" y2="407.92" stroke="#333" stroke-width="0.8"/>
<text x="61.30" y="411.82" font-size="10.9" text-anchor="end" fill="#4D4D4D">0.2</text>
<line x1="62.80" y1="394.14" x2="65.50" y2="394.14" stroke="#333" stroke-width="0.8"/>
<text x="61.30" y="398.04" font-size="10.9" text-anchor="end" fill="#4D4D4D">0.4</text>
<line x1="62.80" y1="380.36" x2="65.50" y2="380.36" stroke="#333" stroke-width="0.8"/>
<text x="61.30" y="384.26" font-size="10.9" text-anchor="end" fill="#4D4D4D">0.6</text>
<line x1="62.80" y1="366.58" x2="65.50" y2="366.58" stroke="#333" stroke-width="0.8"/>
<text x="61.30" y="370.48" font-size="10.9" text-anchor="end" fill="#4D4D4D">0.8</text>
<line x1="62.80" y1="352.80" x2="65.50" y2="352.80" stroke="#333" stroke-width="0.8"/>
<text x="61.30" y="356.70" font-size="10.9" text-anchor="end" fill="#4D4D4D">1.0</text>
<line x1="81.60" y1="424.90" x2="81.60" y2="427.60" stroke="#333" stroke-width="0.8"/>
<text x="84.80" y="436.10" font-size="10.9" text-anchor="middle" fill="#4D4D4D">0</text>
<line x1="165.40" y1="424.90" x2="165.40" y2="427.60" stroke="#333" stroke-width="0.8"/>
<text x="168.60" y="436.10" font-size="10.9" text-anchor="middle" fill="#4D4D4D">100</text>
<line x1="249.20" y1="424.90" x2="249.20" y2="427.60" stroke="#333" stroke-width="0.8"/>
<text x="252.40" y="436.10" font-size="10.9" text-anchor="middle" fill="#4D4D4D">200</text>
<line x1="333.00" y1="424.90" x2="333.00" y2="427.60" stroke="#333" stroke-width="0.8"/>
<text x="336.20" y="436.10" font-size="10.9" text-anchor="middle" fill="#4D4D4D">300</text>
<line x1="416.80" y1="424.90" x2="416.80" y2="427.60" stroke="#333" stroke-width="0.8"/>
<text x="420.00" y="436.10" font-size="10.9" text-anchor="middle" fill="#4D4D4D">400</text>
<line x1="427.50" y1="361.40" x2="430.20" y2="361.40" stroke="#333" stroke-width="0.8"/>
<text x="431.70" y="365.30" font-size="10.9" fill="#4D4D4D">0.10</text>
<line x1="427.50" y1="379.50" x2="430.20" y2="379.50" stroke="#333" stroke-width="0.8"/>
<text x="431.70" y="383.40" font-size="10.9" fill="#4D4D4D">0.05</text>
<line x1="427.50" y1="397.50" x2="430.20" y2="397.50" stroke="#333" stroke-width="0.8"/>
<text x="431.70" y="401.40" font-size="10.9" fill="#4D4D4D">0.00</text>
<line x1="427.50" y1="415.50" x2="430.20" y2="415.50" stroke="#333" stroke-width="0.8"/>
<text x="431.70" y="419.40" font-size="10.9" fill="#4D4D4D">−0.05</text>
<text x="248.30" y="346.50" font-size="10.9" text-anchor="middle">Nuclear Localization Probability Trajectory of protein TP53</text>
<text x="185.40" y="445.30" font-size="10.9">Protein sequence length</text>
<text transform="translate(25.50 387.00) rotate(-90)" x="0" y="3.90" font-size="10.9" text-anchor="middle" fill="#000">Localization</text>
<text transform="translate(38.20 387.00) rotate(-90)" x="0" y="3.90" font-size="10.9" text-anchor="middle" fill="#000">Probability</text>
<text transform="translate(465.00 393.90) rotate(90)" x="0" y="3.90" font-size="10.9" text-anchor="middle" fill="#000">Delta Probability</text>
<rect x="81.00" y="446.60" width="330.40" height="15.00" fill="#BEBEBE" stroke="#222" stroke-width="0.8"/>
<rect x="337.70" y="444.50" width="12.70" height="18.90" fill="#A3A300"/>
<rect x="366.10" y="444.50" width="9.20" height="18.90" fill="#00C08B"/>
<rect x="80.30" y="470.70" width="11.70" height="7.00" fill="#A3A300"/>
<text x="100.40" y="478.10" font-size="10.9">Bipartite nuclear localization signal</text>
<rect x="288.40" y="470.70" width="10.90" height="7.00" fill="#00C08B"/>
<text x="307.70" y="478.10" font-size="10.9">Nuclear export signal</text>
<path transform="translate(0 0.00)" stroke="#BFBFBF" stroke-width="1.3" stroke-linecap="square" fill="none" d="M591.8 225.0h0M591.8 224.8h0M592.2 223.2h0M593.2 223.5h0M594.0 223.1h0M595.3 222.4h0M595.5 222.6h0M597.0 221.7h0M597.9 220.4h0M597.7 220.1h0M630.2 268.8h0M631.9 268.8h0M629.4 215.7h0M629.4 215.7h0M630.6 216.0h0M630.6 216.7h0M634.3 265.4h0M644.4 236.2h0M643.0 234.2h0M643.0 233.9h0M636.8 235.1h0M637.3 236.3h0M637.0 237.7h0M636.9 243.3h0M618.7 266.8h0M565.0 261.4h0M564.2 261.0h0M564.3 259.9h0M565.7 259.3h0M566.2 258.6h0M566.2 258.6h0M567.7 259.7h0M567.2 260.2h0M568.8 260.4h0M606.4 270.9h0M606.2 271.0h0M605.9 272.5h0M608.7 271.6h0M608.9 270.0h0M608.7 268.0h0M607.1 267.7h0M606.9 266.8h0M607.5 265.5h0M608.9 265.8h0M608.4 264.5h0M608.5 263.5h0M607.2 263.0h0M608.5 261.8h0M607.8 260.8h0M607.3 260.0h0M614.6 265.8h0M610.9 266.0h0M611.7 268.6h0M611.4 269.5h0M609.5 273.4h0M596.3 260.1h0M595.3 259.5h0M599.2 257.9h0M599.9 258.0h0M600.7 257.9h0M602.0 258.5h0M602.7 259.3h0M602.0 260.3h0M600.7 260.1h0M610.9 237.2h0M611.1 237.9h0M611.6 238.8h0M612.1 239.4h0M613.7 240.0h0M614.0 240.7h0M614.8 242.1h0M615.9 242.2h0M587.7 226.0h0M588.6 225.8h0M588.6 225.7h0M589.7 224.1h0M590.1 223.5h0M590.0 222.2h0M588.3 223.2h0M587.8 221.9h0M586.7 221.3h0M586.1 221.6h0M584.9 223.3h0M585.0 224.0h0M583.4 223.3h0M584.4 223.9h0M586.1 224.1h0M618.2 258.1h0M621.1 258.2h0M618.0 256.0h0M569.2 253.4h0M573.0 253.5h0M574.1 254.7h0M573.9 255.6h0M576.7 258.1h0M611.1 270.4h0M611.1 269.0h0M612.2 269.0h0M613.5 266.9h0M615.0 265.4h0M614.9 263.5h0M614.9 263.4h0M629.2 267.0h0M631.5 266.0h0M617.8 233.1h0M618.6 232.6h0M619.1 233.1h0M620.9 231.2h0M620.8 230.4h0M620.4 229.0h0M618.9 230.0h0M617.2 230.4h0M616.2 229.6h0M614.4 228.5h0M615.3 228.0h0M614.6 227.6h0M613.1 227.3h0M611.6 227.1h0M612.1 228.6h0M612.3 229.5h0M612.2 230.4h0M611.6 231.4h0M609.1 232.9h0M607.2 277.3h0M610.0 276.9h0M610.3 278.8h0M609.2 282.6h0M607.0 283.3h0M604.9 283.1h0M604.5 282.2h0M602.4 282.4h0M601.7 281.8h0M601.9 280.5h0M601.4 278.5h0M599.9 278.0h0M600.9 278.7h0M592.6 258.0h0M592.8 260.6h0M591.9 260.9h0M589.1 259.4h0M587.8 259.6h0M587.0 258.6h0M587.4 257.5h0M587.6 256.8h0M588.2 256.0h0M588.4 254.6h0M588.2 252.1h0M626.5 238.7h0M622.8 244.6h0M620.1 245.7h0M570.7 244.3h0M572.0 244.6h0M572.9 244.4h0M574.4 243.5h0M574.6 242.5h0M576.1 242.7h0M576.4 243.1h0M577.4 244.3h0M578.6 245.5h0M578.2 245.0h0M578.2 246.9h0M582.4 267.9h0M582.5 266.6h0M583.9 266.1h0M583.3 265.3h0M583.6 264.6h0M582.7 264.1h0M582.1 263.1h0M582.2 261.1h0M581.4 260.6h0M580.6 259.9h0M581.2 258.2h0M581.9 257.3h0M583.2 257.4h0M584.6 257.5h0M584.0 257.1h0M585.4 256.1h0M607.8 218.5h0M608.8 217.6h0M608.3 216.4h0M608.3 215.3h0M608.5 214.3h0M607.7 213.9h0M609.6 212.7h0M609.0 211.0h0M609.0 211.5h0M602.2 223.6h0M601.2 223.4h0M605.0 226.5h0M606.2 225.1h0M608.5 224.1h0M608.6 223.3h0M608.7 222.1h0M608.1 221.4h0M609.1 221.3h0M610.0 222.9h0M611.3 222.2h0M611.1 221.4h0M612.9 221.7h0M613.9 221.1h0M614.3 222.7h0M613.3 223.6h0M613.2 224.5h0M613.7 225.6h0M561.8 255.5h0M559.9 256.4h0M558.6 257.2h0M558.0 256.3h0M558.4 255.8h0M556.9 256.1h0M556.4 256.6h0M556.3 257.3h0M557.1 259.6h0M556.5 259.7h0M556.5 259.9h0M616.2 263.2h0M615.8 265.7h0M613.7 263.5h0M615.1 263.0h0M615.3 262.2h0M615.8 261.8h0M616.1 260.8h0M605.4 265.9h0M606.6 266.5h0M606.8 266.8h0M606.0 267.2h0M605.2 267.5h0M604.4 268.2h0M602.7 268.0h0M601.6 268.5h0M601.4 268.1h0M600.3 267.5h0M600.8 266.7h0M601.8 266.3h0M602.2 265.8h0M602.8 264.6h0M602.4 263.3h0M602.9 264.0h0M604.1 264.0h0M605.9 262.7h0M604.6 261.7h0M603.6 261.8h0M602.7 260.6h0M601.0 261.6h0M601.7 262.9h0M634.5 270.6h0M637.0 271.0h0M637.4 272.5h0M636.7 274.2h0M636.4 273.8h0M608.7 291.5h0M598.3 257.6h0M599.0 260.7h0M600.2 262.3h0M599.4 260.7h0M595.0 261.3h0M591.5 255.4h0M590.6 253.8h0M573.3 283.7h0M644.0 246.8h0M646.3 248.6h0M649.9 249.0h0M650.2 248.0h0M650.5 247.4h0M651.2 246.4h0M651.6 244.5h0M651.6 244.2h0M621.1 261.2h0M626.0 261.5h0M570.8 246.3h0M570.2 246.4h0M569.1 247.7h0M566.7 248.5h0M564.4 249.2h0M563.2 250.3h0M563.3 250.9h0M565.3 248.8h0M593.2 274.1h0M593.2 275.0h0M590.8 274.9h0M590.6 275.6h0M590.7 277.5h0M590.5 278.1h0M592.2 278.6h0M592.3 279.6h0M593.4 280.6h0M592.3 281.1h0M592.5 282.8h0M593.4 283.1h0M593.8 284.7h0M594.2 286.1h0M594.7 285.9h0M595.0 286.1h0M596.4 286.4h0M597.8 287.8h0M598.7 287.1h0M599.1 285.9h0M599.7 287.8h0M600.3 288.6h0M606.2 276.6h0M605.7 275.9h0M606.6 273.4h0M607.5 274.0h0M606.2 272.8h0M604.8 273.9h0M604.8 274.3h0M603.8 275.2h0M602.5 275.0h0M602.1 275.0h0M600.3 274.1h0M599.8 273.6h0M599.7 272.6h0M599.0 272.0h0M597.8 271.1h0M597.3 270.4h0M596.8 269.1h0M596.5 268.8h0M596.4 268.4h0M595.8 267.6h0M590.4 210.6h0M588.8 210.7h0M588.3 209.3h0M587.8 208.4h0M602.3 223.6h0M601.7 224.0h0M600.3 223.8h0M600.0 222.5h0M601.4 221.9h0M601.4 221.7h0M603.3 222.0h0M603.5 222.4h0M604.5 223.5h0M604.5 225.7h0M638.5 234.0h0M639.8 232.8h0M638.9 232.3h0M641.1 231.8h0M640.9 233.0h0M642.7 233.7h0M643.4 234.1h0M643.5 233.3h0M630.3 229.8h0M631.1 230.7h0M629.5 232.2h0M629.3 230.8h0M627.9 230.4h0M627.7 232.9h0M626.7 232.1h0M625.3 232.4h0M623.5 232.3h0M624.7 231.5h0M623.3 230.7h0M624.6 229.5h0M623.8 227.6h0M633.7 282.7h0M633.1 283.7h0M641.8 229.6h0M642.9 230.7h0M643.3 232.5h0M644.7 234.1h0M624.1 215.9h0M622.6 217.1h0M624.1 218.7h0M624.4 219.2h0M625.5 217.8h0M626.0 215.7h0M626.7 216.4h0M627.3 216.7h0M627.8 217.6h0M630.4 218.2h0M629.6 217.1h0M582.7 221.3h0M583.8 219.7h0M583.4 218.2h0M583.1 217.4h0M581.3 217.3h0M581.1 215.9h0M581.5 215.6h0M581.2 214.3h0M581.8 214.8h0M591.2 239.5h0M592.6 238.3h0M593.3 238.0h0M591.5 237.2h0M590.2 236.4h0M590.2 235.8h0M589.6 234.1h0M591.1 234.3h0M591.3 233.6h0M592.8 233.4h0M592.6 233.3h0M593.0 230.5h0M594.3 230.9h0M593.7 229.4h0M619.3 248.9h0M618.8 249.3h0M617.9 249.0h0M617.2 248.4h0M615.7 247.9h0M616.9 249.2h0M615.4 251.1h0M614.1 250.7h0M614.4 251.8h0M613.4 253.6h0M615.2 253.5h0M614.5 254.9h0M616.2 255.8h0M577.9 281.7h0M578.5 282.2h0M578.6 280.5h0M578.6 280.3h0M578.6 280.2h0M579.4 279.2h0M580.6 280.1h0M581.4 280.3h0M582.1 278.9h0M582.5 278.8h0M584.0 278.5h0M584.2 276.8h0M584.5 276.0h0M586.2 275.9h0M586.7 276.3h0M631.9 282.3h0M632.9 278.7h0M631.0 283.4h0M631.2 282.8h0M632.8 283.4h0M631.4 282.4h0M630.0 282.5h0M629.7 284.6h0M617.0 251.8h0M617.2 252.5h0M617.9 251.7h0M619.1 251.9h0M621.4 251.7h0M624.3 255.7h0M630.1 256.4h0M630.8 255.8h0M613.3 264.8h0M613.1 262.8h0M613.7 260.0h0M611.6 259.2h0M612.3 259.4h0M611.7 259.0h0M639.4 240.7h0M644.5 239.5h0M644.7 240.6h0M646.9 239.7h0M647.2 241.6h0M648.8 242.0h0M649.4 241.7h0M648.5 245.1h0M648.3 246.2h0M646.4 247.1h0M643.1 246.2h0M626.7 247.7h0M630.1 247.5h0M631.9 240.8h0M603.9 245.7h0M603.4 245.0h0M603.5 246.8h0M600.6 247.2h0M601.1 247.0h0M600.7 246.4h0M600.0 247.7h0M599.1 248.6h0M598.6 249.1h0M598.2 250.0h0M597.5 250.4h0M595.1 251.7h0M599.2 254.6h0M601.6 217.2h0M601.8 218.7h0M602.8 218.9h0M602.3 219.6h0M604.5 220.6h0M603.4 219.4h0M603.8 217.8h0M603.1 217.7h0M602.1 214.9h0M601.5 215.6h0M601.4 215.6h0M567.5 269.0h0M567.3 270.2h0M566.3 270.5h0M565.8 270.3h0M564.6 270.1h0M564.1 271.0h0M562.3 269.9h0M561.8 269.4h0M559.8 268.2h0M619.7 225.0h0M621.2 224.9h0M621.7 225.9h0M622.1 225.6h0M624.0 224.7h0M622.9 227.1h0M622.4 226.2h0M621.9 227.8h0M620.6 228.7h0M619.9 227.9h0M617.7 228.6h0M624.7 232.2h0M622.2 232.0h0M622.5 231.1h0M621.6 229.9h0M620.8 228.3h0M618.9 227.7h0M619.4 228.2h0M619.0 227.9h0M617.8 226.7h0M617.0 225.1h0M637.8 251.8h0M585.4 262.2h0M586.1 262.1h0M587.0 261.1h0M585.9 260.2h0M587.7 260.6h0M589.1 259.9h0M588.3 258.1h0M593.1 259.7h0M591.9 256.1h0M592.6 254.6h0M637.6 263.8h0M640.0 268.1h0M640.8 269.8h0M640.2 271.6h0M638.8 269.5h0M640.8 269.1h0M640.8 268.0h0M642.7 268.3h0M642.0 270.3h0M573.1 252.5h0M574.8 250.3h0M575.6 249.6h0M575.6 248.3h0M577.3 248.9h0M599.1 210.2h0M598.8 209.1h0M607.4 284.2h0M605.0 277.7h0M605.3 275.9h0M605.5 275.5h0M604.0 273.1h0M604.7 272.2h0M602.8 268.3h0M605.0 268.0h0M605.2 266.3h0M604.5 265.5h0M603.9 265.9h0M602.3 265.2h0M602.2 266.3h0M603.1 265.7h0M604.5 267.0h0M605.6 268.4h0M606.3 268.8h0M607.5 269.8h0M608.0 270.8h0M608.0 271.2h0M608.9 270.4h0M598.9 227.4h0M599.6 225.6h0M600.6 224.7h0M601.1 223.3h0M601.7 223.4h0M602.4 221.5h0M602.9 221.0h0M601.5 221.2h0M601.7 220.0h0M600.4 219.9h0M598.7 219.9h0M599.1 218.5h0M598.4 265.5h0M600.3 264.4h0M600.0 262.4h0M600.3 261.6h0M602.3 259.4h0M600.3 259.3h0M600.9 259.0h0M600.4 257.9h0M600.3 256.5h0M601.0 257.5h0M601.9 258.1h0M603.6 257.4h0M603.1 258.5h0M604.9 258.2h0M603.9 259.2h0M603.0 258.2h0M583.7 228.7h0M588.7 229.2h0M588.3 228.1h0M588.3 227.4h0M590.1 227.3h0M590.8 227.4h0M591.2 228.8h0M590.2 229.5h0M589.9 230.0h0M589.3 230.9h0M648.6 250.3h0M649.4 250.5h0M650.0 252.6h0M650.7 252.4h0M650.4 254.1h0M651.6 254.5h0M651.8 255.5h0M653.5 255.7h0M599.6 277.1h0M599.8 279.0h0M598.9 278.6h0M597.9 278.8h0M597.2 278.3h0M597.5 278.2h0M598.3 278.6h0M597.7 276.2h0M597.9 276.4h0M596.2 276.1h0M594.7 277.0h0M597.4 277.2h0M597.1 277.7h0M599.0 276.2h0M599.1 276.1h0M599.8 276.7h0M601.5 275.0h0M601.9 274.9h0M603.4 275.6h0M603.6 276.4h0M621.9 240.2h0M620.7 242.1h0M620.5 242.5h0M620.4 241.0h0M620.4 238.7h0M620.3 237.7h0M618.5 236.4h0M617.5 237.6h0M616.9 237.0h0M615.2 236.5h0M635.1 254.2h0M635.9 253.4h0M637.0 250.4h0M638.3 250.8h0M616.1 274.3h0M627.8 264.1h0M628.6 266.6h0M628.6 267.4h0M629.2 268.5h0M628.5 270.2h0M583.7 230.7h0M578.9 231.8h0M577.4 231.0h0M577.2 231.1h0M575.4 230.3h0M604.7 254.8h0M604.0 255.7h0M579.1 225.6h0M580.5 230.3h0M577.7 232.1h0M575.5 230.3h0M574.6 231.7h0M573.3 230.8h0M574.0 229.2h0M575.3 229.6h0M575.6 228.1h0M612.1 229.8h0M638.1 229.1h0M638.7 227.6h0M639.3 227.2h0M620.2 263.8h0M620.7 265.5h0M620.4 266.1h0M597.1 226.8h0M595.9 227.9h0M597.2 228.3h0M597.7 228.1h0M599.3 228.5h0M600.4 228.2h0M596.7 228.7h0M595.8 228.7h0M595.6 228.2h0M594.2 227.3h0M594.5 226.9h0M593.1 226.2h0M592.0 242.4h0M593.1 242.2h0M592.9 241.0h0M593.0 238.4h0M595.5 238.5h0M595.6 237.2h0M595.6 237.8h0M596.8 237.3h0M598.6 237.2h0M598.8 237.0h0M600.3 238.0h0M600.5 240.7h0M599.9 240.6h0M599.0 241.4h0M597.5 241.0h0M597.3 241.1h0M596.8 241.8h0M616.5 229.4h0M615.3 228.2h0M613.6 227.2h0M613.4 227.1h0M612.0 227.6h0M611.3 227.7h0M611.2 229.5h0M596.8 272.4h0M595.3 272.3h0M594.2 272.5h0M593.3 272.2h0M594.7 271.4h0M595.2 271.9h0M594.8 270.3h0M596.3 270.3h0M589.7 245.6h0M587.4 245.5h0M587.6 245.8h0M586.2 245.9h0M584.8 245.6h0M584.2 246.9h0M585.3 248.1h0M584.0 248.3h0M583.3 248.2h0M582.3 247.4h0M581.6 249.1h0M580.3 247.5h0M621.5 235.2h0M622.6 235.2h0M625.6 237.0h0M626.7 240.3h0M627.3 240.4h0M629.0 243.0h0M630.5 243.0h0M603.2 220.0h0M604.6 219.2h0M605.5 220.8h0M606.5 221.5h0M607.6 220.6h0M608.4 218.5h0M609.4 219.3h0M608.6 217.1h0M608.4 216.5h0M607.4 217.1h0M606.7 217.3h0M605.8 216.1h0M606.4 214.7h0M607.1 213.7h0M608.0 214.5h0M610.3 214.6h0M610.4 215.4h0M611.6 216.9h0M610.4 216.8h0M618.8 232.2h0M618.5 231.0h0M618.2 231.1h0M618.9 230.0h0M617.3 228.3h0M616.2 230.2h0M615.5 229.9h0M615.1 230.1h0M613.7 231.4h0M612.9 231.1h0M611.3 230.6h0M611.8 226.6h0M611.5 225.0h0M610.9 225.9h0M610.2 225.9h0M607.0 244.4h0M606.3 244.3h0M604.4 246.2h0M604.1 246.3h0M602.9 247.1h0M601.6 248.2h0M604.6 248.2h0M604.2 250.2h0M602.1 251.2h0M602.1 250.8h0M601.5 250.8h0M601.2 249.9h0M601.1 247.7h0M600.5 247.6h0M607.0 288.5h0M607.3 288.3h0M608.1 285.5h0M616.3 276.4h0M616.0 267.1h0M613.3 265.0h0M612.9 261.2h0M612.8 261.3h0M614.2 260.1h0M615.3 260.9h0M615.7 259.7h0M617.1 258.3h0M607.4 224.1h0M607.7 223.4h0M607.9 222.8h0M607.5 222.4h0M605.3 220.4h0M605.4 220.6h0M604.4 220.0h0M603.9 219.7h0M602.5 219.5h0M602.0 219.0h0M601.3 218.8h0M600.7 220.6h0M600.3 221.0h0M599.9 221.4h0M599.6 222.8h0M599.1 225.2h0M638.4 232.0h0M637.3 233.6h0M635.1 233.8h0M633.6 232.6h0M633.4 233.7h0M629.3 234.6h0M617.2 241.0h0M617.9 240.2h0M618.7 239.6h0M619.1 239.3h0M619.6 240.7h0M620.6 240.7h0M622.6 242.2h0M647.6 259.7h0M645.9 260.6h0M645.8 262.9h0M645.3 262.8h0M644.8 263.5h0M644.9 264.2h0M641.7 265.1h0M642.3 264.5h0M641.8 264.6h0M640.4 266.5h0M640.1 266.9h0M640.0 268.4h0M611.8 217.9h0M613.5 219.1h0M614.1 218.6h0M615.3 218.7h0M615.9 219.4h0M616.6 219.9h0M618.0 217.6h0M618.8 217.2h0M620.6 218.1h0M621.3 217.8h0M622.6 216.2h0M622.1 215.1h0M622.5 214.2h0M622.6 212.7h0M620.9 276.7h0M620.3 281.2h0M620.7 283.9h0M623.5 285.5h0M649.5 251.1h0M648.9 249.6h0M649.1 249.2h0M646.1 249.2h0M644.9 248.5h0M642.5 248.6h0M640.4 250.2h0M641.7 264.2h0M642.1 262.7h0M639.7 265.9h0M637.6 265.9h0M634.3 266.6h0M633.9 266.7h0M597.4 269.8h0M597.8 268.9h0M597.0 268.5h0M589.8 264.4h0M589.4 263.8h0M589.9 263.3h0M589.0 263.1h0M588.8 261.7h0M588.4 260.1h0M589.0 259.1h0M589.0 258.6h0M592.0 257.8h0M593.1 257.2h0M633.7 232.6h0M633.8 233.6h0M637.3 232.7h0M636.7 232.1h0M637.2 229.9h0M637.5 228.7h0M636.6 228.4h0M636.1 228.7h0M635.0 228.6h0M587.6 248.9h0M586.3 247.8h0M586.5 247.5h0M585.4 247.0h0M584.1 247.4h0M584.4 248.1h0M582.1 248.3h0M581.7 248.1h0M581.9 246.6h0M582.2 246.6h0M582.8 243.6h0M579.4 243.6h0M560.1 271.5h0M558.9 270.9h0M558.5 270.2h0M558.4 269.1h0M558.4 269.1h0M558.8 267.2h0M557.7 267.7h0M556.9 268.9h0M594.4 251.2h0M593.0 248.7h0M593.9 247.4h0M595.4 247.6h0M595.6 247.2h0M597.5 246.6h0M597.4 245.5h0M598.5 245.1h0M598.3 245.1h0M598.6 243.9h0M598.4 244.0h0M597.2 242.1h0M598.0 242.3h0M598.6 241.4h0M598.5 240.3h0M599.2 238.1h0M597.8 237.8h0M597.8 236.3h0M597.6 236.0h0M596.9 234.7h0M613.0 268.0h0M610.8 268.6h0M609.9 269.4h0M609.2 269.0h0M608.4 268.9h0M606.8 269.6h0M607.3 270.5h0M606.7 272.2h0M605.0 272.2h0M604.6 272.1h0M605.6 270.8h0M604.8 269.9h0M603.2 269.3h0M604.4 269.2h0M605.4 268.0h0M604.4 266.4h0M605.9 265.8h0M606.7 264.9h0M607.8 265.5h0M616.6 222.9h0M615.7 222.9h0M614.6 224.0h0M613.2 224.4h0M612.9 224.2h0M611.7 224.3h0M612.4 223.9h0M610.6 222.4h0M601.7 279.3h0M602.6 279.4h0M603.5 279.8h0M603.2 282.2h0M599.8 282.4h0M599.2 282.0h0M598.1 281.6h0M597.5 281.3h0M596.1 281.6h0M595.2 280.3h0M595.1 282.1h0M596.1 282.1h0M629.0 264.9h0M595.1 217.6h0M594.2 219.1h0M593.0 219.3h0M592.4 219.5h0M591.5 220.0h0M590.7 219.9h0M589.9 221.6h0M588.6 220.5h0M588.7 219.9h0M589.1 219.2h0M590.8 219.5h0M591.1 219.0h0M591.2 218.2h0M590.9 216.8h0M592.0 216.5h0M590.5 215.9h0M590.3 217.7h0M591.7 218.6h0M592.6 219.1h0M591.9 220.5h0M575.0 230.1h0M574.9 231.8h0M574.9 233.0h0M574.4 234.4h0M573.6 235.9h0M652.3 255.3h0M651.2 255.1h0M649.9 254.5h0M651.7 253.3h0M651.8 251.1h0M650.6 251.5h0M650.8 249.9h0M650.8 248.8h0M651.1 247.8h0M652.1 247.6h0M652.3 246.7h0M651.8 244.8h0M649.9 244.3h0M650.6 264.4h0M651.1 263.1h0M652.1 263.1h0M652.6 264.6h0M624.9 248.5h0M631.0 254.4h0M584.5 215.1h0M584.7 216.0h0M583.3 215.4h0M582.8 217.1h0M584.4 217.3h0M584.7 218.2h0M584.9 217.8h0M586.1 218.9h0M587.5 219.0h0M586.3 220.3h0M587.3 221.4h0M586.4 220.8h0M585.6 222.1h0M585.3 223.5h0M586.0 223.9h0M586.4 223.1h0M586.4 223.8h0M586.7 224.8h0M588.0 225.3h0M589.1 225.3h0M590.8 225.3h0M588.9 225.9h0M590.1 227.0h0M623.0 255.2h0M622.6 256.2h0M619.5 257.8h0M617.5 261.2h0M616.9 263.6h0M617.1 262.5h0M616.6 261.6h0M615.4 260.5h0M561.7 246.8h0M561.6 247.4h0M561.5 249.1h0M562.6 247.8h0M562.9 247.6h0M563.4 245.1h0M563.9 245.1h0M563.5 244.8h0M564.5 243.3h0M565.0 242.8h0M566.4 245.1h0M566.7 244.8h0M567.9 245.1h0M568.8 244.1h0M569.6 243.2h0M570.5 242.3h0M569.2 241.6h0M568.6 242.5h0M568.3 242.8h0M566.2 242.2h0M565.4 243.3h0M565.8 245.4h0M567.5 245.0h0M619.2 215.3h0M619.1 214.8h0M618.4 213.8h0M617.5 214.3h0M616.7 214.5h0M617.0 213.2h0M615.7 213.8h0M615.5 215.8h0M615.7 215.3h0M616.5 216.3h0M617.7 215.9h0M583.2 223.6h0M584.2 224.5h0M582.6 225.8h0M581.6 225.6h0M580.7 225.8h0M580.6 227.2h0M582.8 225.3h0M582.7 227.0h0M581.0 228.3h0M581.0 231.4h0M618.6 214.3h0M619.6 214.3h0M621.1 215.6h0M620.5 216.0h0M622.0 216.4h0M623.8 216.5h0M624.9 216.7h0M626.1 217.4h0M627.0 214.1h0M604.5 245.1h0M606.6 246.1h0M607.7 246.9h0M607.4 247.5h0M608.7 248.3h0M610.1 249.0h0M610.0 248.4h0M612.2 248.2h0M612.3 248.2h0M613.5 249.0h0M613.8 250.4h0M613.7 251.9h0M613.6 252.5h0M615.6 253.0h0M616.2 253.6h0M619.9 245.9h0M619.9 246.5h0M617.4 247.0h0M616.2 245.8h0M615.2 245.4h0M614.6 245.9h0M615.1 244.3h0M614.7 244.2h0M616.1 243.5h0M617.1 244.0h0M616.3 244.7h0M615.3 244.5h0M614.9 243.7h0M614.1 243.5h0M612.2 244.5h0M627.8 285.3h0M629.0 286.1h0M596.3 270.1h0M596.5 269.8h0M597.9 270.9h0M598.9 270.0h0M599.1 270.1h0M600.8 270.0h0M602.2 269.8h0M602.6 269.4h0M602.3 267.8h0M601.7 268.3h0M600.6 267.9h0M599.6 268.0h0M598.5 268.2h0M625.6 246.5h0M570.9 256.4h0M573.4 258.1h0M573.6 258.8h0M571.8 259.3h0M571.4 259.4h0M569.4 258.5h0M568.9 258.1h0M567.4 262.9h0M568.2 263.3h0M567.7 262.3h0M567.1 262.3h0M566.5 262.1h0M565.1 262.3h0M564.3 261.6h0M563.3 261.6h0M563.1 261.0h0M562.7 259.8h0M561.5 259.4h0M561.4 258.1h0M562.2 257.0h0M562.2 256.2h0M626.5 220.0h0M626.0 222.0h0M625.6 223.0h0M625.9 222.9h0M624.3 224.5h0M624.6 225.0h0M623.6 226.4h0M625.5 227.3h0M607.5 278.6h0M638.6 267.2h0M638.9 270.7h0M577.3 280.0h0M577.0 281.3h0M576.8 281.0h0M578.7 281.7h0M578.4 282.4h0M577.9 284.1h0M561.5 247.6h0M562.0 248.5h0M563.4 247.3h0M563.6 246.2h0M564.1 244.3h0M565.7 245.6h0M564.7 247.1h0M563.1 247.3h0M562.5 247.6h0M562.1 247.9h0M615.1 250.6h0M614.2 250.0h0M613.1 251.7h0M612.6 253.5h0M613.3 253.3h0M613.2 255.2h0M612.5 256.1h0M611.8 256.7h0M612.9 258.4h0M611.5 258.3h0M612.3 260.0h0M611.6 260.7h0M612.4 261.6h0M611.0 262.1h0M612.2 263.2h0M612.4 264.8h0M612.3 265.8h0M611.3 266.0h0M610.0 266.3h0M608.7 267.4h0M608.3 266.1h0M623.5 250.3h0M623.0 251.2h0M619.4 251.4h0M619.9 251.6h0M618.6 250.4h0M620.4 257.7h0M618.6 258.5h0M618.2 258.6h0M619.0 262.2h0M647.4 262.2h0M648.9 262.5h0M649.4 263.3h0M650.0 265.3h0M650.7 265.6h0M650.8 265.6h0M651.8 264.7h0M649.7 262.6h0M648.7 262.2h0M649.3 261.5h0M648.3 261.0h0M647.5 261.1h0M646.2 262.5h0M645.0 261.9h0M645.9 263.8h0M647.0 264.3h0M647.4 263.9h0M648.8 262.6h0M649.8 263.4h0M649.4 264.9h0M571.0 237.8h0M570.0 237.5h0M569.3 236.9h0M570.1 234.6h0M570.9 235.5h0M570.5 233.9h0M572.4 233.2h0M573.3 233.1h0M573.6 231.4h0M574.4 231.6h0M575.2 231.1h0M574.0 229.6h0M573.3 230.3h0M573.1 230.0h0M572.1 228.0h0M570.5 228.1h0M638.6 270.1h0M638.8 272.4h0M639.3 272.5h0M642.6 272.9h0M642.6 272.9h0M643.3 272.0h0M643.4 270.4h0M644.6 269.8h0M644.9 267.9h0M644.9 267.5h0M645.8 267.2h0M646.9 266.3h0M646.9 267.3h0M648.0 265.1h0M647.7 264.4h0M646.5 263.6h0M647.2 261.9h0M645.9 261.6h0M646.4 259.5h0M648.9 260.6h0M558.9 251.0h0M558.6 250.7h0M557.1 251.2h0M635.5 281.5h0M637.0 282.0h0M637.1 280.0h0M635.6 278.7h0M637.0 278.4h0M638.1 279.5h0M639.2 280.7h0M636.9 225.1h0M637.9 225.9h0M582.5 268.9h0M581.7 267.4h0M582.8 267.8h0M584.0 266.8h0M584.6 266.8h0M585.9 265.9h0M586.5 265.6h0M588.2 266.3h0M588.8 265.7h0M588.7 266.8h0M588.1 266.7h0M608.4 275.3h0M607.7 273.1h0M604.8 271.5h0M605.4 270.7h0M605.9 268.9h0M606.5 268.7h0M607.1 267.9h0M608.8 268.6h0M608.9 268.6h0M610.0 269.1h0M611.1 273.8h0M610.8 275.7h0M627.1 267.5h0M623.3 267.3h0M619.0 270.3h0M604.8 272.9h0M604.1 274.3h0M604.1 274.6h0M602.4 273.7h0M600.9 273.8h0M600.9 272.8h0M598.6 273.0h0M599.8 274.4h0M600.1 275.4h0M600.5 275.7h0M601.7 276.2h0M602.8 278.2h0M601.4 278.2h0M600.4 278.9h0M599.9 280.1h0M598.3 279.7h0M597.8 278.6h0M597.8 278.0h0M599.6 277.3h0M599.3 275.3h0M598.3 276.3h0M597.5 274.3h0M635.3 240.8h0M636.3 247.6h0M620.5 230.1h0M621.4 229.2h0M622.5 231.4h0M622.8 231.1h0M624.0 231.9h0M624.9 231.3h0M624.6 230.5h0M625.2 229.2h0M625.0 227.8h0M623.8 227.0h0M623.4 227.7h0M622.7 227.5h0M620.9 227.6h0M620.2 226.4h0M621.9 227.3h0M621.6 228.2h0M620.6 229.4h0M621.5 229.5h0M620.0 231.3h0M619.6 231.6h0M619.4 232.4h0M618.2 232.9h0M614.2 213.0h0M616.5 212.2h0M617.0 212.2h0M596.3 260.3h0M593.3 257.9h0M598.4 209.6h0M598.0 210.1h0M597.1 210.0h0M597.0 210.5h0M596.8 212.0h0M596.0 212.2h0M594.2 211.3h0M593.2 211.6h0M591.8 211.0h0M652.7 254.0h0M651.9 252.6h0M650.7 252.1h0M650.0 252.1h0M649.4 251.8h0M649.8 250.1h0M650.7 250.3h0M650.7 248.4h0M651.6 249.1h0M651.2 248.2h0M650.2 248.0h0M648.7 247.1h0M650.0 247.1h0M650.5 245.7h0M650.4 243.6h0M650.8 243.6h0M651.2 242.3h0M651.7 241.8h0M593.4 225.3h0M593.3 227.5h0M595.2 227.4h0M594.9 228.4h0M596.1 229.0h0M596.5 228.9h0M597.0 230.8h0M595.8 232.5h0M594.7 231.7h0M593.9 231.6h0M594.2 231.2h0M594.5 231.6h0M596.3 231.2h0M596.4 230.9h0M598.0 230.6h0M593.0 265.7h0M598.1 258.2h0M597.5 257.3h0M595.5 257.1h0M594.7 256.5h0M604.5 245.0h0M603.3 244.1h0M602.1 243.2h0M601.7 244.4h0M601.1 244.6h0M600.0 245.0h0M600.6 246.8h0M601.1 247.7h0M602.3 253.3h0M602.3 252.2h0M600.4 252.8h0M599.5 253.3h0M595.9 253.6h0M596.2 253.3h0M596.8 248.4h0M597.6 247.6h0M596.9 246.8h0M597.8 245.4h0M592.3 237.0h0M592.1 237.4h0M590.5 236.6h0M589.1 237.9h0M589.8 238.8h0M590.9 238.4h0M592.3 238.1h0M593.0 237.7h0M593.6 237.9h0M592.0 214.2h0M592.4 213.4h0M591.5 211.3h0M593.3 211.4h0M593.2 211.8h0M593.3 213.7h0M593.8 214.6h0M594.1 215.6h0M594.2 216.4h0M594.1 216.5h0M594.4 218.7h0M594.2 219.7h0M617.5 216.6h0M619.1 215.5h0M620.0 217.1h0M620.3 216.7h0M622.4 215.9h0M622.5 215.3h0M623.6 215.5h0M624.4 215.6h0M625.5 215.0h0M609.5 263.4h0M609.8 265.6h0M608.2 265.3h0M608.2 266.6h0M607.2 267.4h0M608.1 269.0h0M609.7 268.4h0M612.6 267.4h0M612.2 271.0h0M616.2 273.9h0M598.7 274.7h0M598.5 274.7h0M598.8 276.5h0M597.3 277.6h0M598.6 277.5h0M600.0 279.0h0M599.2 280.0h0M598.7 281.5h0M598.8 280.8h0M596.9 282.6h0M596.9 284.5h0M597.2 284.4h0M598.6 283.9h0M599.4 283.3h0M612.3 217.6h0M613.6 218.5h0M612.6 219.7h0M613.1 220.4h0M613.2 221.5h0M614.3 223.4h0M615.7 222.8h0M616.4 223.5h0M617.8 224.3h0M617.8 224.3h0M620.0 224.4h0M618.7 226.0h0M620.1 227.8h0M619.7 228.6h0M620.4 229.2h0M621.2 230.4h0M622.2 229.7h0M583.2 244.8h0M583.0 241.1h0M583.3 246.3h0M582.4 247.6h0M582.7 247.4h0M582.0 248.8h0M581.7 250.5h0M582.4 250.3h0M583.4 251.1h0M584.6 249.7h0M585.4 250.8h0M586.4 251.4h0M587.7 251.8h0M586.6 252.8h0M617.2 255.1h0M616.9 253.9h0M617.6 252.2h0M617.2 251.7h0M616.5 250.8h0M614.4 251.3h0M613.8 250.4h0M612.6 249.7h0M611.7 249.3h0M610.9 249.9h0M610.3 249.8h0M609.7 248.4h0M609.0 246.8h0M607.8 247.4h0M574.1 257.7h0M576.5 257.5h0M576.8 257.2h0M578.7 257.3h0M578.3 257.2h0M578.6 258.5h0M576.9 257.5h0M576.4 258.8h0M576.1 260.0h0M576.0 261.7h0M574.8 262.5h0M607.4 268.4h0M605.7 267.9h0M605.3 268.2h0M603.5 267.4h0M602.8 267.6h0M601.8 268.4h0M600.3 267.5h0M600.5 266.9h0M599.5 266.4h0M599.5 265.7h0M600.4 264.6h0M597.8 260.6h0M596.1 255.5h0M619.4 281.3h0M615.7 281.5h0M593.1 268.9h0M594.1 269.1h0M594.1 270.1h0M594.3 270.1h0M594.0 268.6h0M594.6 267.8h0M596.0 267.5h0M602.8 213.2h0M603.6 214.0h0M605.5 212.4h0M603.8 212.1h0M602.4 211.5h0M602.6 211.1h0M603.6 210.7h0M604.0 210.8h0M602.2 212.0h0M601.7 212.3h0M600.3 211.6h0M598.9 210.8h0M598.7 209.8h0M598.1 208.6h0M608.0 289.3h0M608.2 291.5h0M565.8 272.0h0M566.9 273.8h0M568.3 272.0h0M569.0 272.4h0M570.2 272.2h0M569.0 272.1h0M568.8 271.1h0M568.4 271.0h0M566.7 272.0h0M566.7 273.1h0M567.9 274.2h0M569.5 274.7h0M569.7 276.2h0M569.3 274.9h0M568.0 274.9h0M567.4 273.6h0M567.8 273.0h0M567.2 271.7h0M573.3 234.8h0M573.4 236.8h0M574.0 237.4h0M573.4 237.7h0M573.4 238.7h0M572.4 240.6h0M571.9 240.0h0M571.1 239.7h0M570.3 239.1h0M569.0 238.9h0M568.5 237.2h0M568.6 236.6h0M569.0 235.9h0M570.4 235.6h0M572.1 236.7h0M572.3 238.2h0M571.2 238.7h0M586.3 214.5h0M585.8 214.7h0M587.0 215.6h0M588.7 217.0h0M588.3 217.7h0M589.4 218.4h0M589.7 219.3h0M591.7 219.7h0M590.2 220.5h0M588.6 220.3h0M588.0 219.4h0M587.0 218.4h0M586.1 219.9h0M651.2 263.3h0M652.6 262.5h0M651.5 260.3h0M651.5 260.3h0M652.9 259.6h0M655.1 260.5h0M637.1 262.9h0M607.5 257.6h0M607.8 257.0h0M609.4 257.0h0M606.5 255.8h0M606.1 255.5h0M602.7 255.8h0M602.0 255.2h0M600.4 255.6h0M647.6 259.3h0M647.0 260.0h0M646.9 257.9h0M646.1 259.3h0M645.6 259.7h0M646.7 262.3h0M646.9 262.6h0M646.1 264.2h0M646.9 265.3h0M646.4 266.1h0M646.5 267.0h0M577.5 245.0h0M576.0 244.7h0M574.8 244.8h0M574.0 244.6h0M572.7 242.7h0M573.0 242.8h0M571.3 242.2h0M570.8 241.8h0M570.9 240.9h0M571.3 239.4h0M570.4 238.3h0M569.3 237.9h0M569.4 236.2h0M569.1 236.0h0M570.0 234.7h0M569.6 233.0h0M567.3 234.8h0M567.6 234.9h0M626.8 271.7h0M642.3 237.6h0M642.6 236.1h0M643.4 236.2h0M644.4 236.6h0M644.7 236.7h0M645.6 237.8h0M646.3 237.8h0M647.7 239.0h0M648.9 238.0h0M587.5 285.2h0M588.3 285.7h0M588.9 287.7h0M589.5 287.4h0M589.4 287.7h0M588.4 287.4h0M587.3 287.5h0M605.7 242.1h0M603.3 241.5h0M602.9 242.5h0M601.6 243.0h0M601.2 242.5h0M598.8 242.3h0M598.5 243.5h0M598.6 244.0h0M598.1 245.3h0M598.0 246.1h0M596.8 245.6h0M595.1 245.5h0M593.6 245.7h0M593.6 245.5h0M592.4 245.3h0M592.0 244.1h0M591.3 245.7h0M590.4 245.9h0M632.7 280.6h0M630.6 283.5h0M631.5 284.7h0M632.3 282.1h0M597.8 249.3h0M598.4 248.2h0M597.5 246.4h0M596.7 246.5h0M597.0 247.7h0M597.7 248.9h0M598.5 249.4h0M599.4 249.6h0M599.8 250.9h0M641.3 236.6h0M637.3 234.8h0M633.0 233.4h0M633.2 232.1h0M631.4 231.7h0M632.8 229.6h0M632.2 228.5h0M631.0 227.4h0M629.7 227.7h0M628.9 227.9h0M627.8 226.6h0M628.3 225.1h0M640.9 260.4h0M642.9 262.0h0M645.9 262.7h0M647.0 263.4h0M646.5 264.1h0M646.1 262.8h0M646.4 261.7h0M646.8 260.8h0M647.1 259.8h0M647.7 259.5h0M649.2 259.4h0M592.5 282.4h0M591.3 282.3h0M590.3 281.2h0M588.5 281.9h0M588.4 282.4h0M587.5 284.0h0M586.0 282.8h0M585.7 283.8h0M584.2 284.0h0M582.9 284.4h0M583.1 285.3h0M604.9 209.8h0M602.7 209.4h0M602.8 209.7h0M601.6 209.1h0M585.9 249.7h0M586.1 250.2h0M586.6 250.7h0M584.6 250.3h0M585.7 249.3h0M586.0 247.9h0M586.9 248.0h0M588.0 248.4h0M588.5 249.3h0M589.0 249.9h0M588.8 250.8h0M588.6 252.2h0M589.2 252.0h0M592.1 253.9h0M593.3 254.6h0M595.7 254.8h0M596.7 257.6h0M598.9 253.4h0M600.4 254.5h0M600.2 255.2h0M600.8 255.8h0M601.2 258.0h0M603.3 257.1h0M603.4 256.0h0M604.7 256.3h0M605.7 254.0h0M574.0 279.6h0M573.3 278.5h0M574.5 277.9h0M575.8 278.0h0M577.0 277.7h0M577.6 277.6h0M577.8 276.6h0M577.8 275.2h0M575.6 275.8h0M574.2 274.5h0M574.4 274.6h0M573.0 273.1h0M572.3 273.2h0M571.8 273.4h0M570.1 274.1h0M569.4 275.3h0M568.7 275.2h0M568.8 276.7h0M567.3 277.0h0M566.9 277.8h0M566.8 279.2h0M568.1 278.9h0M568.4 280.4h0M614.5 240.6h0M615.0 241.0h0M615.4 242.3h0M614.4 242.5h0M612.8 243.6h0M612.5 243.6h0M612.3 244.4h0M611.0 244.8h0M611.3 246.9h0M611.7 248.2h0M613.0 247.0h0M614.0 247.1h0M614.9 245.9h0M614.9 248.4h0M616.0 248.9h0M617.2 248.6h0M618.5 248.7h0M619.0 247.1h0M617.3 246.9h0M585.1 270.2h0M583.4 268.9h0M583.3 270.3h0M582.9 271.6h0M581.9 270.9h0M582.1 269.8h0M581.7 270.3h0M583.2 269.2h0M584.4 270.2h0M584.7 271.0h0M586.3 271.7h0M607.4 288.6h0M608.3 286.3h0M609.7 285.1h0M613.2 286.0h0M613.1 286.8h0M578.8 276.5h0M579.5 274.7h0M579.1 274.7h0M579.8 274.2h0M580.6 274.1h0M581.4 275.7h0M581.5 276.5h0M582.7 275.3h0M582.9 276.2h0M585.2 273.8h0M586.3 275.6h0M586.3 275.8h0M588.0 275.2h0M588.6 275.9h0M590.0 275.0h0M589.9 276.7h0M592.2 277.3h0M591.9 276.4h0M591.4 273.7h0M592.1 273.6h0M612.8 285.2h0M619.9 230.9h0M618.3 231.7h0M618.5 232.3h0M620.1 233.6h0M618.9 234.1h0M620.1 235.4h0M621.5 236.6h0M621.6 237.4h0M620.7 237.5h0M619.1 238.2h0M617.8 236.6h0M616.4 235.5h0M616.3 236.0h0M616.0 234.3h0M630.9 247.0h0M631.3 244.5h0M632.5 245.0h0M632.8 246.5h0M639.2 252.1h0M633.5 250.5h0M632.3 248.3h0M634.3 247.3h0M633.9 251.3h0M634.3 254.0h0M602.3 250.1h0M601.0 249.7h0M601.7 248.5h0M602.8 248.4h0M608.4 248.5h0M579.2 239.2h0M578.0 241.5h0M580.5 243.5h0M579.5 246.3h0M577.3 245.6h0M599.5 228.0h0M602.1 227.9h0M602.0 226.6h0M598.6 227.4h0M597.9 230.7h0M597.0 232.4h0M596.0 231.8h0M596.7 230.8h0M595.6 228.4h0M596.6 228.2h0M597.7 229.5h0M626.3 232.8h0M624.0 232.6h0M624.5 234.5h0M625.5 239.5h0M625.5 241.5h0M628.7 244.0h0M608.7 249.5h0M609.7 250.0h0M610.7 250.0h0M611.1 249.9h0M611.4 250.0h0M612.7 249.6h0M611.0 247.7h0M611.0 247.6h0M611.3 247.3h0M648.6 269.1h0M648.4 270.1h0M650.1 270.5h0M647.9 269.1h0M648.7 271.6h0M648.0 271.7h0M649.3 271.7h0M570.1 230.7h0M624.0 222.6h0M623.0 220.5h0M622.2 220.0h0M623.7 220.8h0M623.7 219.9h0M625.8 220.1h0M626.9 220.0h0M615.0 227.1h0M615.1 228.2h0M614.8 229.1h0M614.5 230.1h0M614.3 231.2h0M613.3 231.1h0M612.7 231.0h0M611.3 229.8h0M607.5 231.4h0M607.4 230.5h0M605.9 230.4h0M605.9 232.0h0M606.4 231.7h0M625.1 288.4h0M609.8 265.0h0M609.1 264.4h0M607.6 265.6h0M607.1 266.2h0M606.9 268.1h0M606.7 268.2h0M607.9 268.3h0M608.6 269.5h0M608.9 270.3h0M609.6 269.1h0M609.6 267.4h0M611.2 267.7h0M608.9 265.1h0M608.8 268.1h0M644.7 248.1h0M643.2 251.0h0M634.0 250.9h0M633.0 252.2h0M585.0 221.2h0M585.1 222.0h0M585.3 222.8h0M585.1 223.3h0M584.4 224.0h0M585.5 225.0h0M586.3 225.5h0M586.9 226.2h0M622.1 248.7h0M624.0 249.9h0M628.8 253.8h0M632.6 251.3h0M629.5 253.2h0M630.3 254.1h0M635.1 255.5h0M634.1 255.8h0M632.4 257.9h0M631.7 257.0h0M612.2 256.3h0M613.7 255.3h0M612.4 255.0h0M611.8 253.8h0M609.6 254.3h0M609.7 254.2h0M610.2 253.1h0M611.0 252.6h0M612.5 252.5h0M612.6 249.4h0M612.8 249.5h0M614.4 249.6h0M614.0 247.6h0M614.5 248.9h0M614.4 250.2h0M612.0 249.5h0M612.1 250.6h0M612.4 251.9h0M612.8 253.6h0M618.4 270.9h0M639.3 273.0h0M641.0 271.9h0M641.7 271.7h0M642.7 271.3h0M644.1 270.2h0M642.9 270.0h0M641.9 269.3h0M640.8 269.3h0M640.5 270.8h0M639.8 271.4h0M641.8 273.0h0M641.9 272.9h0M643.2 272.1h0M642.2 270.9h0M579.0 258.6h0M578.0 259.3h0M577.8 258.9h0M575.0 258.5h0M574.0 256.3h0M575.3 255.6h0M596.3 273.2h0M598.2 273.2h0M597.9 273.7h0M596.9 272.9h0M596.4 271.8h0M594.9 271.7h0M594.8 272.3h0M592.3 270.9h0M591.9 271.0h0M592.5 271.9h0M593.0 272.8h0M593.4 274.2h0M594.5 274.0h0M594.4 273.2h0M595.5 272.7h0M596.2 271.2h0M595.7 271.4h0M595.0 270.0h0M615.8 286.4h0M589.1 230.9h0M590.7 230.9h0M591.4 231.1h0M592.8 230.9h0M593.3 231.3h0M592.9 233.5h0M591.9 233.7h0M591.1 235.0h0M590.7 235.9h0M590.1 237.5h0M590.9 236.8h0M592.0 238.1h0M591.8 240.1h0M590.9 239.7h0M593.1 272.1h0M592.2 274.2h0M591.2 274.8h0M590.5 274.7h0M590.1 275.0h0M588.9 277.2h0M588.7 277.2h0M587.6 275.7h0M586.7 275.1h0M587.2 274.4h0M586.9 273.7h0M586.1 272.1h0M586.1 271.2h0M584.1 271.3h0M586.3 270.1h0M586.3 270.5h0M587.5 271.4h0M587.4 271.8h0M588.3 273.3h0M588.8 273.5h0M588.3 274.9h0M589.7 275.6h0M590.9 275.4h0M587.7 283.3h0M588.8 283.7h0M588.1 284.1h0M586.5 285.1h0M587.4 286.8h0M586.3 287.5h0M595.7 229.2h0M595.2 230.5h0M595.1 232.3h0M595.9 232.1h0M598.0 233.9h0M597.5 234.8h0M597.6 235.1h0M599.3 235.7h0M594.2 220.2h0M592.4 219.7h0M591.6 220.4h0M590.9 220.4h0M589.6 221.3h0M590.2 222.9h0M590.7 221.5h0M591.6 222.9h0M593.2 222.2h0M593.4 221.9h0M594.2 223.1h0M595.5 222.6h0M596.7 222.6h0M598.3 223.0h0M619.3 279.4h0M620.4 283.7h0M590.1 213.6h0M590.4 212.8h0M589.6 214.1h0M589.0 213.7h0M588.1 215.0h0M587.2 214.4h0M586.2 214.6h0M586.2 214.8h0M586.1 217.0h0M586.8 217.3h0M587.6 217.5h0M589.1 218.9h0M589.1 219.1h0M590.5 219.9h0M592.7 227.5h0M594.6 227.8h0M594.8 227.9h0M594.6 229.7h0M596.5 229.1h0M597.2 229.1h0M598.0 229.3h0M596.5 228.3h0M595.9 227.6h0M595.3 227.6h0M594.0 228.6h0M593.3 228.0h0M592.6 226.2h0M593.5 225.5h0M592.8 225.6h0M594.8 224.7h0M594.3 223.7h0M595.2 222.8h0M595.6 221.2h0M594.8 219.8h0M607.1 271.7h0M607.3 270.7h0M606.8 270.1h0M604.6 270.2h0M604.4 270.0h0M603.9 270.3h0M602.1 270.1h0M600.6 270.6h0M599.4 269.6h0M571.1 241.2h0M569.7 240.7h0M571.6 240.4h0M571.6 240.4h0M573.3 240.1h0M573.7 238.9h0M574.7 239.8h0M575.5 239.5h0M578.4 237.2h0M583.0 238.1h0M584.9 238.7h0M612.2 281.7h0M614.4 280.8h0M617.5 276.9h0M617.6 278.4h0M645.4 267.3h0M644.3 268.0h0M644.9 268.9h0M645.5 270.0h0M645.0 271.4h0M646.6 271.4h0M647.9 271.3h0M647.9 271.3h0M649.4 270.6h0M592.9 248.4h0M593.7 248.5h0M596.0 248.2h0M600.2 252.5h0M601.7 252.3h0M627.0 225.5h0M627.6 224.9h0M626.7 224.3h0M628.0 224.9h0M628.8 226.0h0M628.9 225.9h0M629.2 224.3h0M629.4 224.4h0M628.8 222.9h0M629.5 222.3h0M629.2 220.2h0M630.7 220.5h0M587.5 257.4h0M586.6 258.5h0M587.9 259.4h0M588.5 259.2h0M588.8 260.8h0M588.7 261.5h0M589.0 262.6h0M588.4 263.9h0M588.5 264.2h0M589.0 265.9h0M617.3 218.5h0M617.4 218.8h0M615.5 218.7h0M614.6 218.2h0M614.5 219.2h0M615.2 220.2h0M615.6 220.7h0M617.1 220.2h0M618.7 221.5h0M619.0 220.6h0M619.9 220.1h0M621.1 219.4h0M619.9 217.9h0M618.5 218.8h0M617.7 220.5h0M618.2 220.3h0M617.6 222.3h0M619.4 221.5h0M620.5 221.2h0M620.7 220.7h0M620.7 221.9h0M591.8 272.8h0M591.1 273.1h0M589.0 273.8h0M589.9 273.4h0M588.5 272.2h0M588.1 273.1h0M587.3 273.9h0M587.0 272.8h0M584.4 272.8h0M584.9 271.1h0M582.9 217.1h0M582.1 216.4h0M582.8 214.8h0M581.9 215.1h0M580.7 214.2h0M579.7 214.1h0M579.5 216.4h0M579.7 216.9h0M580.2 218.1h0M581.3 219.4h0M568.5 242.5h0M567.9 241.6h0M567.0 242.4h0M566.6 239.9h0M566.1 239.1h0M565.0 239.2h0M564.0 240.2h0M563.7 240.7h0M564.2 241.2h0M563.6 243.0h0M564.1 244.0h0M565.2 244.1h0M566.6 244.1h0M567.0 244.3h0M567.0 246.1h0M569.0 245.7h0M568.9 246.5h0M569.7 247.1h0M571.6 247.3h0M573.1 247.0h0M574.7 245.6h0M576.0 246.8h0M586.3 281.4h0M585.6 281.3h0M585.0 280.2h0M583.9 279.5h0M583.9 278.0h0M582.4 277.4h0M582.3 279.4h0M581.4 279.6h0M581.2 280.5h0M580.0 280.3h0M579.0 278.0h0M579.1 280.2h0M577.6 279.3h0M577.9 281.1h0M578.5 281.6h0M579.3 280.0h0M579.5 279.7h0M580.6 279.0h0M607.1 267.2h0M606.0 267.9h0M604.8 267.6h0M606.0 269.3h0M604.1 269.3h0M602.2 270.0h0M600.8 269.9h0M600.7 269.3h0M599.5 270.8h0M598.7 271.0h0M598.2 272.1h0M640.0 265.7h0M636.7 263.5h0M634.8 265.6h0M569.3 266.0h0M568.1 265.3h0M566.3 264.5h0M566.8 263.7h0M565.4 263.5h0M566.0 262.2h0M567.5 261.1h0M567.9 260.0h0M566.8 259.5h0M567.2 258.3h0M568.3 257.6h0M568.4 257.3h0M572.1 257.9h0M595.1 215.5h0M593.9 215.2h0M592.8 216.6h0M591.8 216.7h0M591.1 216.5h0M590.3 215.5h0M590.0 216.5h0M589.6 218.7h0M612.7 241.0h0M612.4 241.1h0M611.9 239.8h0M611.2 238.8h0M613.7 238.4h0M612.7 239.6h0M611.6 240.7h0M611.0 240.2h0M609.1 241.1h0M607.9 241.0h0M607.1 241.1h0M606.4 241.0h0M607.2 240.0h0M607.1 238.7h0M623.3 258.9h0M583.9 250.0h0M585.1 251.1h0M584.0 251.3h0M583.9 249.4h0M585.1 249.2h0M583.7 248.3h0M584.2 247.0h0M585.2 247.1h0M586.2 247.7h0M638.5 260.3h0M639.4 257.7h0M566.1 248.5h0M564.9 249.1h0M564.3 247.3h0M563.5 246.3h0M562.6 247.3h0M562.7 246.9h0M561.8 245.6h0M562.0 245.0h0M609.0 230.8h0M610.4 229.8h0M613.5 231.5h0M613.4 232.2h0M613.8 233.1h0M615.1 232.8h0M615.6 232.2h0M616.5 231.6h0M618.5 231.3h0M618.0 232.8h0M620.0 232.3h0M620.6 231.9h0M621.6 231.6h0M623.0 232.5h0M622.4 234.4h0M621.8 234.5h0M620.9 235.0h0M619.7 234.9h0M612.0 213.1h0M612.5 213.4h0M610.3 213.2h0M610.4 214.6h0M609.8 213.7h0M607.6 213.2h0M607.8 213.9h0M605.6 213.3h0M606.6 214.2h0M604.8 213.4h0M605.4 211.9h0M605.8 213.3h0M606.7 214.0h0M579.0 219.8h0M579.6 221.5h0M580.1 220.8h0M580.6 220.7h0M580.0 219.7h0M579.8 221.0h0M579.1 221.7h0M578.0 222.0h0M578.5 223.5h0M577.2 223.4h0M575.7 225.3h0M575.8 225.7h0M575.1 226.6h0M575.0 226.9h0M573.6 228.5h0M646.9 263.5h0M646.0 264.5h0M646.1 264.4h0M644.9 266.2h0M644.6 267.4h0M644.5 268.5h0M645.0 268.9h0M644.9 270.6h0M644.8 271.5h0M643.5 271.5h0M642.4 271.0h0M641.2 271.9h0M640.4 271.1h0M639.0 272.0h0M636.0 269.2h0M584.4 214.0h0M583.3 213.7h0M582.8 213.4h0M582.8 210.9h0M583.6 211.8h0M583.1 209.8h0M584.4 208.8h0M582.8 209.3h0M582.2 209.0h0M604.2 225.5h0M604.0 223.7h0M605.7 223.9h0M605.3 222.6h0M605.4 222.1h0M604.8 220.9h0M603.9 220.8h0M601.7 221.3h0M601.0 222.2h0M600.7 223.3h0M599.6 223.8h0M599.2 223.4h0M598.3 221.6h0M602.9 221.6h0M603.4 221.7h0M602.7 220.5h0M603.8 219.0h0M604.1 218.8h0M603.0 217.8h0M602.5 216.7h0M602.2 215.9h0M601.4 214.9h0M599.8 215.7h0M600.4 216.9h0M599.2 217.2h0M598.3 218.1h0M597.2 218.3h0M596.2 217.6h0M595.2 219.5h0M594.1 217.5h0M593.1 218.7h0M593.5 219.9h0M619.4 275.2h0M618.6 273.3h0M648.8 254.9h0M650.1 256.1h0M650.3 257.9h0M649.9 257.2h0M648.4 255.3h0M648.1 255.5h0M646.0 255.3h0M646.4 254.8h0M635.2 228.2h0M635.0 228.9h0M632.1 230.6h0M631.1 229.4h0M631.7 231.6h0M642.8 255.2h0M639.8 262.8h0M638.5 263.0h0M623.2 285.4h0M577.4 283.6h0M578.5 284.5h0M579.9 283.8h0M580.7 285.0h0M580.4 285.7h0M638.0 270.9h0M640.0 273.0h0M640.2 273.7h0M641.2 272.8h0M642.9 272.7h0M641.8 274.9h0M643.2 274.0h0M643.1 274.7h0M645.0 275.8h0M644.4 276.6h0M607.8 283.8h0M640.7 240.0h0M641.1 237.3h0M635.8 242.7h0M636.2 244.1h0M636.2 243.0h0M621.5 284.1h0M628.1 269.2h0M605.3 286.8h0M605.3 282.9h0M607.3 282.5h0M607.9 282.8h0M608.8 283.8h0M628.2 239.8h0M631.0 240.8h0M626.0 271.3h0M635.2 273.4h0M635.6 274.0h0M634.3 269.6h0M633.3 245.2h0M626.1 243.0h0M608.5 272.9h0M606.8 272.8h0M607.0 274.4h0M608.3 272.0h0M608.4 271.6h0M607.0 269.4h0M606.5 269.9h0M605.9 267.7h0M604.9 268.8h0M603.9 268.5h0M602.7 269.1h0M601.7 270.0h0M601.0 269.9h0M600.6 271.9h0M601.0 272.9h0M600.7 272.3h0M601.8 271.4h0M615.3 263.8h0M612.8 267.5h0M612.6 267.4h0M611.1 267.4h0M609.8 267.5h0M609.0 266.6h0M607.8 267.2h0M607.3 266.9h0M606.7 265.6h0M605.4 264.8h0M605.1 264.7h0M603.4 264.1h0M603.7 263.5h0M625.9 267.5h0M645.7 260.5h0M646.5 261.3h0M646.7 261.1h0M648.8 261.6h0M647.8 263.3h0M647.2 262.4h0M647.3 261.5h0M649.0 261.7h0M649.8 260.7h0M650.9 261.1h0M651.1 261.9h0M610.7 284.4h0M611.5 283.9h0M616.4 261.9h0M615.7 262.8h0M614.3 262.9h0M614.0 262.7h0M615.5 261.2h0M615.5 260.3h0M615.5 259.6h0M614.8 258.2h0M616.1 257.1h0M616.4 256.9h0M618.8 257.4h0M622.5 257.0h0M642.9 236.4h0M642.9 234.6h0M643.4 233.8h0M644.9 234.5h0M645.9 235.1h0M622.1 287.3h0M622.4 287.3h0M621.5 238.5h0M620.4 237.9h0M620.4 237.1h0M619.0 236.8h0M618.7 235.9h0M617.8 234.0h0M618.6 233.1h0M617.7 231.7h0M617.3 230.8h0M616.2 231.7h0M615.6 231.0h0M615.2 232.4h0M613.5 232.1h0M613.3 231.6h0M613.1 230.6h0M612.7 229.6h0M612.7 227.6h0M611.6 228.0h0M623.5 274.1h0M620.3 272.1h0M629.7 278.2h0M631.3 278.2h0M631.7 278.6h0M633.2 279.5h0M635.2 280.0h0M635.9 279.8h0M636.7 280.4h0M635.2 247.1h0M644.9 239.9h0M646.7 239.5h0M646.7 240.0h0M647.8 239.4h0M648.4 239.0h0M618.8 273.9h0M622.6 276.8h0M617.3 278.4h0M617.9 280.5h0M623.9 247.2h0M633.2 276.6h0M638.0 275.1h0M639.5 275.1h0M638.4 274.2h0M639.9 273.4h0M641.7 272.7h0M640.3 272.1h0M642.2 271.2h0M643.4 272.4h0M642.1 273.7h0M642.0 274.9h0M642.4 275.5h0M642.0 277.2h0M642.7 277.3h0M643.7 244.4h0M644.8 244.8h0M628.6 238.7h0M637.9 237.7h0M638.7 237.9h0M637.7 240.5h0M638.9 243.3h0M632.8 244.2h0M631.7 244.2h0M626.4 245.8h0M632.9 255.9h0M635.0 255.4h0M635.3 255.1h0M622.3 240.5h0M623.7 239.4h0M624.8 237.9h0M631.7 273.3h0M634.5 277.3h0M634.5 274.1h0M635.5 272.9h0M633.1 273.1h0M615.8 260.4h0M617.8 260.1h0M620.4 256.9h0M617.8 254.3h0M622.3 264.6h0M620.2 264.2h0M617.2 262.9h0M646.2 251.2h0M646.1 251.5h0M641.7 245.8h0M639.7 244.7h0M635.0 240.1h0M631.5 244.1h0M619.5 261.8h0M637.2 243.1h0M638.8 234.3h0M639.3 234.8h0M640.7 238.0h0M640.6 239.3h0M642.0 238.8h0M638.0 253.5h0M636.7 254.3h0M629.1 255.2h0M635.6 246.9h0M646.6 248.9h0M647.0 250.1h0M645.4 251.1h0M625.7 235.4h0M625.9 237.1h0M630.7 237.2h0M635.3 234.0h0M634.6 232.9h0M627.7 250.0h0M628.7 251.5h0M626.1 251.8h0M626.3 239.2h0M608.8 277.3h0M608.6 281.9h0M604.8 280.0h0M604.9 279.5h0M604.2 277.7h0M606.5 276.5h0M615.6 278.8h0M612.6 278.0h0M617.0 276.7h0M632.9 256.0h0M635.1 253.4h0M634.2 249.7h0M634.6 246.5h0M635.7 246.6h0M636.5 246.1h0M637.4 246.5h0M640.4 246.5h0M647.4 243.3h0M648.5 242.4h0M648.2 244.6h0M646.9 243.8h0M643.7 243.2h0M644.5 242.1h0M646.5 240.0h0M647.5 240.9h0M648.8 241.2h0M649.4 239.3h0M625.4 272.9h0M610.8 268.5h0M607.7 267.1h0M606.1 267.9h0M605.8 269.1h0M604.6 269.0h0M603.9 268.4h0M603.4 267.8h0M604.6 265.7h0M603.8 265.9h0M603.3 266.7h0M638.9 273.7h0M639.1 275.7h0M636.9 274.9h0M634.5 232.1h0M636.3 230.6h0M635.6 230.0h0M636.9 229.4h0M638.2 227.3h0M638.1 227.0h0M639.2 229.4h0M640.0 228.7h0M639.8 252.5h0M638.6 251.0h0M636.7 249.4h0M642.1 239.5h0M642.2 240.8h0M641.3 245.1h0M638.0 232.8h0M638.3 231.2h0M636.4 231.3h0M637.2 232.7h0M636.3 233.4h0M634.8 234.4h0M630.0 271.5h0M628.1 272.8h0M629.6 258.0h0M628.8 257.6h0M624.2 250.0h0M622.6 250.1h0M620.8 248.9h0M619.4 248.7h0M619.0 248.8h0M617.6 248.4h0M617.2 248.4h0M617.6 250.2h0M644.9 239.9h0M646.6 238.0h0M645.5 237.5h0M647.2 236.5h0M647.7 237.6h0M647.4 238.0h0M646.2 239.2h0M639.3 245.2h0M636.2 240.5h0M634.6 240.0h0M625.8 268.3h0M627.6 271.9h0M626.5 274.4h0M637.9 234.4h0M639.8 234.9h0M640.2 235.3h0M640.9 237.5h0M642.0 235.6h0M625.6 272.1h0M621.3 275.2h0M622.8 240.4h0M622.1 238.1h0M622.3 237.3h0M621.7 234.2h0M621.3 233.3h0M620.4 233.3h0M619.7 233.8h0M619.3 232.7h0M619.8 231.0h0M619.1 229.4h0M617.0 231.1h0M631.0 226.4h0M630.3 227.2h0M629.4 226.2h0M628.8 227.1h0M627.0 227.7h0M626.2 227.8h0M624.2 226.7h0M624.1 226.7h0M622.8 225.9h0M621.6 226.6h0M623.6 225.3h0M622.2 225.8h0M633.5 226.3h0M635.1 227.7h0M636.5 227.0h0M636.5 227.6h0M637.4 227.9h0M636.3 229.8h0M637.7 232.0h0M638.1 231.2h0M639.4 232.3h0M639.9 232.5h0M636.4 236.4h0M638.5 236.9h0M626.1 230.6h0M626.4 229.1h0M626.4 227.9h0M626.1 226.6h0M625.5 226.4h0M627.4 226.3h0M628.8 225.7h0M629.0 227.4h0M629.9 228.0h0M630.4 229.1h0M630.3 229.6h0M631.0 230.8h0M630.8 231.7h0M629.3 231.8h0M627.9 231.8h0M628.9 231.9h0M617.6 235.3h0M618.0 236.8h0M619.1 234.7h0M617.4 234.3h0M617.6 234.8h0M615.8 233.7h0M615.4 233.2h0M615.7 231.7h0M614.3 230.6h0M615.2 229.9h0M613.5 229.3h0M613.2 228.5h0M613.1 228.0h0M614.1 227.2h0M613.2 226.1h0M612.1 225.7h0M612.3 226.2h0M612.5 224.1h0M613.0 223.4h0M611.1 222.4h0M612.3 220.7h0M610.8 220.1h0M610.6 219.4h0M611.6 218.1h0M611.3 217.6h0M612.1 216.1h0M612.3 218.2h0M613.1 218.7h0M613.4 220.5h0M612.9 220.4h0M631.8 222.9h0M630.4 223.0h0M629.5 221.5h0M628.3 222.1h0M629.3 220.2h0M629.0 218.9h0M630.0 218.7h0M631.5 218.9h0M640.3 235.2h0M640.9 235.2h0M642.1 234.2h0M642.7 233.5h0M643.4 233.3h0M643.0 231.8h0M622.3 233.5h0M621.3 234.2h0M621.4 234.9h0M619.9 234.8h0M619.6 235.7h0M619.8 236.8h0M620.3 237.6h0M621.5 237.5h0M621.2 238.7h0M621.1 240.3h0M622.4 240.8h0M624.4 238.6h0M608.0 243.0h0M607.8 244.6h0M607.8 245.3h0M607.6 246.7h0M608.5 246.9h0M616.5 216.8h0M615.6 216.2h0M615.2 216.0h0M614.3 214.9h0M615.0 213.1h0M616.8 213.1h0M617.4 213.8h0M617.8 212.6h0M618.8 214.1h0M618.9 214.4h0M619.2 215.7h0M618.1 215.2h0M616.7 214.8h0M616.3 215.7h0M615.0 216.3h0M611.5 212.2h0M612.3 213.6h0M613.1 213.0h0M613.2 212.6h0M613.6 213.1h0M612.4 214.0h0M613.1 212.6h0M613.9 213.6h0M614.2 214.5h0M614.4 215.3h0M614.5 216.6h0M634.0 231.8h0M632.6 230.4h0M632.1 231.4h0M634.6 233.6h0M636.5 231.6h0M636.6 230.3h0M636.6 229.4h0M636.8 228.1h0M636.2 227.8h0M637.8 226.1h0M606.1 232.8h0M603.8 234.9h0M604.2 236.1h0M605.1 231.8h0M617.2 219.7h0M615.8 220.8h0M617.1 221.1h0M617.1 222.5h0M616.9 222.9h0M617.4 223.3h0M618.2 225.1h0M619.6 226.2h0M620.5 227.1h0M620.0 226.0h0M618.8 225.5h0M617.0 224.9h0M616.7 225.2h0M618.2 223.0h0M617.7 224.2h0M618.3 224.3h0M619.8 222.4h0M606.0 227.8h0M608.6 230.2h0M608.0 233.1h0M609.6 236.4h0M614.4 233.0h0M613.9 233.6h0M612.6 235.1h0M613.7 235.5h0M613.8 237.0h0M613.9 238.0h0M615.7 238.7h0M616.8 238.0h0M615.9 236.7h0M615.8 236.1h0M615.8 235.1h0M614.5 233.8h0M614.3 232.2h0M613.7 231.7h0M612.3 231.9h0M610.5 230.4h0M610.4 231.6h0M609.9 232.1h0M619.6 230.0h0M619.5 228.2h0M620.1 228.3h0M621.4 228.9h0M621.5 227.1h0M623.4 226.6h0M623.1 226.1h0M624.4 226.3h0M624.1 228.2h0M624.6 228.3h0M624.9 230.3h0M625.3 230.3h0M622.7 231.3h0M624.9 232.4h0M624.3 230.9h0M625.7 229.8h0M626.5 229.6h0M600.7 229.5h0M598.1 228.1h0M597.1 228.0h0M596.7 228.6h0M595.2 227.9h0M596.0 226.0h0M596.2 225.7h0M594.7 224.2h0M594.4 222.8h0M594.6 222.4h0M594.1 221.2h0M595.8 220.0h0M595.8 220.3h0M597.4 220.5h0M597.6 219.8h0M597.0 218.0h0M629.8 217.2h0M628.4 216.7h0M628.5 216.4h0M627.7 216.4h0M626.4 216.0h0M626.2 215.4h0M625.4 216.3h0M625.7 218.2h0M625.2 218.3h0M625.8 219.9h0M625.5 221.5h0M625.5 223.2h0M615.9 221.8h0M614.9 222.2h0M612.5 220.6h0M612.5 220.4h0M611.7 220.8h0M610.5 220.9h0M609.4 219.5h0M609.7 218.3h0M610.5 217.7h0M610.3 216.4h0M609.6 215.2h0M608.7 214.6h0M608.2 215.8h0M609.3 216.0h0M608.4 217.1h0M609.0 218.1h0M609.4 218.9h0M621.3 243.7h0M622.3 243.7h0M623.4 246.0h0M624.0 245.2h0M627.4 245.8h0M628.3 246.0h0M628.0 250.6h0M629.8 250.1h0M599.6 223.8h0M599.0 223.4h0M598.2 223.1h0M596.4 223.2h0M595.1 222.9h0M595.0 221.3h0M595.0 221.6h0M595.8 220.5h0M596.8 220.3h0M598.1 220.7h0M597.9 220.8h0M598.2 222.1h0M598.9 221.7h0M598.4 222.6h0M597.4 222.4h0M595.8 222.1h0M595.0 222.3h0M632.5 229.7h0M634.4 231.1h0M633.8 232.1h0M633.3 233.4h0M635.3 237.0h0M637.0 237.2h0M637.6 234.3h0M601.2 209.4h0M620.4 226.2h0M619.4 226.7h0M619.3 227.3h0M619.9 228.2h0M619.5 230.0h0M619.1 229.7h0M618.2 228.5h0M618.6 228.5h0M618.0 226.4h0M618.9 225.1h0M618.7 224.2h0M618.0 225.2h0M617.2 226.0h0M632.1 219.4h0M630.2 219.1h0M630.2 218.2h0M631.4 216.7h0M626.6 224.5h0M624.9 223.8h0M624.3 224.9h0M623.0 223.9h0M621.0 224.8h0M621.7 226.0h0M623.2 227.0h0M623.6 225.1h0M625.7 225.0h0M627.5 225.1h0M627.4 224.6h0M604.6 211.5h0M603.8 211.3h0M602.8 210.5h0M602.7 209.4h0M609.3 224.4h0M609.0 225.1h0M610.5 227.7h0M609.2 228.6h0M608.3 229.8h0M605.3 238.5h0M605.6 240.3h0M606.8 240.8h0M602.9 211.2h0M604.3 212.1h0M604.3 211.3h0M603.7 209.3h0"/>
<path transform="translate(0 0.00)" stroke="#00EE00" stroke-width="1.3" stroke-linecap="square" fill="none" d="M594.5 259.4h0M595.0 258.3h0M595.7 257.6h0M596.4 257.8h0M597.9 257.6h0M599.3 259.8h0M598.2 259.2h0M597.8 260.5h0M597.4 259.9h0M595.4 259.4h0M567.6 252.0h0M568.0 252.1h0M569.6 253.2h0M571.6 252.8h0M572.0 252.9h0M575.6 254.8h0M576.4 256.0h0M577.0 256.5h0M609.6 231.6h0M609.0 231.1h0M608.3 233.5h0M594.8 252.4h0M593.9 253.0h0M593.1 254.6h0M592.3 255.5h0M592.0 256.4h0M591.5 257.0h0M593.0 258.1h0M591.0 259.5h0M590.6 259.9h0M590.1 252.9h0M578.8 244.1h0M577.4 248.1h0M577.9 250.2h0M601.7 225.0h0M603.8 225.4h0M604.4 227.0h0M605.5 224.9h0M597.6 259.1h0M598.3 260.8h0M598.3 262.4h0M597.3 262.9h0M597.1 261.7h0M596.1 260.9h0M594.7 260.2h0M594.1 259.9h0M594.0 258.6h0M593.1 256.9h0M591.2 256.9h0M592.1 254.9h0M592.6 254.2h0M592.0 252.4h0M594.2 253.2h0M594.7 254.2h0M569.9 248.7h0M568.5 248.1h0M566.9 249.4h0M564.1 250.7h0M564.8 250.4h0M604.5 224.2h0M603.5 226.4h0M595.6 252.3h0M595.8 252.1h0M596.0 254.5h0M595.5 255.7h0M596.7 255.6h0M597.7 254.6h0M590.2 257.4h0M591.3 257.7h0M592.5 258.0h0M592.5 258.9h0M591.1 258.3h0M591.6 257.7h0M591.1 256.6h0M592.9 253.8h0M592.7 252.9h0M593.2 252.4h0M594.8 252.2h0M572.7 254.4h0M573.2 253.9h0M572.8 253.6h0M575.0 251.8h0M572.1 252.4h0M571.4 251.8h0M571.7 251.3h0M568.8 250.2h0M570.3 250.1h0M571.2 249.1h0M572.2 250.4h0M573.9 249.2h0M576.8 248.3h0M600.1 229.0h0M601.1 228.8h0M599.5 229.8h0M599.8 229.1h0M598.4 228.9h0M599.6 226.7h0M598.3 264.2h0M599.0 263.1h0M583.9 229.5h0M584.9 229.6h0M585.7 230.3h0M586.2 228.6h0M586.7 228.3h0M588.7 231.9h0M587.3 232.3h0M586.4 232.3h0M586.4 231.7h0M582.6 228.6h0M583.8 229.8h0M582.5 232.3h0M582.4 233.6h0M580.8 232.4h0M580.1 231.8h0M577.3 230.4h0M578.4 230.8h0M578.6 229.8h0M578.7 227.9h0M606.7 253.6h0M606.4 254.2h0M605.4 254.8h0M605.7 255.7h0M605.9 255.4h0M606.6 253.6h0M605.4 253.0h0M605.2 253.3h0M604.4 252.8h0M579.9 226.9h0M579.7 227.2h0M580.9 228.2h0M580.9 229.6h0M579.3 231.2h0M577.9 231.6h0M575.9 232.9h0M575.5 232.5h0M575.6 231.1h0M611.0 232.0h0M609.6 230.8h0M609.0 232.1h0M607.7 232.1h0M606.8 232.3h0M605.6 232.7h0M604.8 231.9h0M604.4 232.9h0M603.2 232.5h0M601.1 227.9h0M600.1 227.3h0M600.4 228.7h0M598.9 229.7h0M598.2 229.2h0M610.5 228.1h0M611.0 231.0h0M609.6 231.8h0M609.3 232.2h0M608.8 233.8h0M585.4 244.3h0M610.3 229.6h0M610.0 230.3h0M610.3 227.8h0M610.0 227.4h0M610.1 227.2h0M610.0 227.9h0M605.3 246.5h0M604.5 249.6h0M604.7 250.0h0M604.1 251.7h0M607.0 227.1h0M607.8 226.3h0M607.8 225.6h0M594.8 266.9h0M595.0 267.4h0M594.2 266.3h0M593.4 265.1h0M593.4 264.2h0M591.2 264.5h0M590.9 257.9h0M592.4 257.5h0M594.2 257.6h0M594.5 257.0h0M582.8 245.6h0M581.1 244.5h0M581.7 243.4h0M580.0 241.3h0M579.8 242.5h0M579.0 244.7h0M580.5 245.1h0M580.3 245.6h0M596.9 251.4h0M593.5 249.6h0M576.3 231.8h0M576.1 232.7h0M575.6 236.1h0M582.6 224.4h0M582.6 224.5h0M579.5 225.7h0M581.4 225.1h0M582.6 225.4h0M582.0 228.4h0M580.4 229.1h0M579.9 230.5h0M581.0 232.6h0M580.7 233.8h0M579.7 234.9h0M604.8 246.8h0M572.5 257.4h0M572.9 256.5h0M568.6 256.7h0M596.8 259.4h0M596.1 258.1h0M594.6 257.2h0M594.5 257.1h0M593.5 258.8h0M593.1 259.3h0M598.5 230.4h0M592.5 266.6h0M592.0 264.0h0M593.6 263.2h0M594.0 262.9h0M595.3 262.1h0M597.1 263.0h0M597.0 262.4h0M597.3 260.5h0M597.3 259.6h0M598.1 259.0h0M596.2 257.6h0M594.9 255.6h0M596.2 254.1h0M596.3 255.1h0M605.0 252.6h0M604.3 252.7h0M598.6 253.0h0M598.2 252.7h0M597.4 254.2h0M596.4 255.0h0M594.9 254.9h0M596.7 251.7h0M596.0 251.9h0M595.7 249.2h0M582.8 243.8h0M582.8 243.1h0M584.3 242.5h0M585.1 242.5h0M585.6 243.4h0M585.0 244.0h0M584.6 244.6h0M576.8 255.8h0M578.2 256.5h0M598.6 264.1h0M598.6 262.2h0M597.3 262.8h0M597.5 259.8h0M598.0 258.6h0M598.5 257.3h0M597.4 256.9h0M596.7 254.9h0M594.6 255.3h0M594.1 255.5h0M596.2 266.0h0M596.6 264.5h0M604.3 254.5h0M604.2 254.0h0M603.7 254.4h0M599.8 255.3h0M591.4 254.0h0M591.8 253.6h0M593.9 254.0h0M595.0 253.6h0M596.4 255.8h0M596.2 256.3h0M597.6 253.0h0M598.1 254.1h0M605.1 254.7h0M606.9 253.1h0M603.6 248.4h0M604.1 248.4h0M604.5 249.9h0M606.0 250.9h0M607.5 249.7h0M607.7 250.1h0M579.8 238.1h0M578.9 240.3h0M579.0 242.7h0M579.4 243.3h0M579.6 244.7h0M600.4 228.0h0M600.7 226.1h0M601.6 226.4h0M602.1 225.2h0M603.2 225.4h0M603.0 225.9h0M604.5 227.3h0M601.2 227.1h0M600.0 228.0h0M599.1 229.8h0M597.9 231.0h0M609.4 230.2h0M608.1 230.6h0M606.9 232.9h0M607.9 231.9h0M608.9 231.0h0M610.2 231.5h0M610.8 232.4h0M586.9 227.3h0M577.0 257.0h0M574.0 257.1h0M588.4 231.3h0M599.3 236.1h0M601.8 236.3h0M601.7 237.6h0M576.3 239.0h0M578.0 238.6h0M578.5 237.7h0M580.7 237.4h0M580.8 237.4h0M581.6 237.0h0M583.5 237.3h0M595.2 249.4h0M595.7 250.1h0M596.1 251.0h0M597.9 251.1h0M598.4 251.4h0M571.7 247.8h0M569.7 257.1h0M571.0 256.7h0M566.6 249.8h0M609.9 230.2h0M611.3 231.2h0M604.4 230.6h0M604.4 228.9h0M603.3 228.2h0M603.6 225.8h0M605.2 224.4h0M607.5 249.1h0M606.0 248.8h0M605.6 249.8h0M605.0 251.0h0M605.2 251.7h0M605.0 253.0h0M605.1 234.2h0M603.1 235.3h0M603.8 236.2h0M604.7 236.7h0M606.4 236.8h0M607.0 235.3h0M608.5 235.1h0M608.9 235.4h0M608.6 233.2h0M608.0 232.4h0M606.7 233.0h0M606.8 232.8h0M605.2 230.6h0M604.7 230.1h0M605.5 226.6h0M606.3 228.5h0M606.3 229.2h0M607.4 230.3h0M609.6 231.5h0M609.4 232.1h0M608.5 231.6h0M607.5 234.4h0M609.2 235.7h0M601.9 229.2h0M599.5 229.4h0M598.8 228.2h0M600.9 226.0h0M600.7 225.4h0M608.8 226.5h0M609.7 230.4h0M608.0 231.8h0M607.2 232.0h0M607.0 233.9h0M607.1 233.7h0M606.7 234.6h0M606.2 236.7h0M605.3 237.1h0M605.6 237.3h0"/>
<path transform="translate(0 0.00)" stroke="#EE0000" stroke-width="1.3" stroke-linecap="square" fill="none" d="M630.7 271.4h0M629.4 270.2h0M628.8 269.8h0M630.7 268.8h0M631.5 267.6h0M632.8 267.9h0M632.6 257.9h0M632.5 257.7h0M632.7 258.4h0M633.4 260.6h0M633.2 261.1h0M633.0 262.8h0M633.4 263.3h0M633.6 266.4h0M643.4 237.5h0M642.6 235.4h0M640.3 234.4h0M640.3 234.6h0M638.8 234.8h0M637.6 235.2h0M635.3 237.4h0M635.8 239.9h0M635.7 240.8h0M637.8 242.1h0M637.0 243.7h0M636.5 244.1h0M635.2 244.3h0M619.5 259.5h0M618.2 260.4h0M619.4 260.9h0M619.3 262.2h0M620.2 264.2h0M620.4 263.6h0M619.2 264.9h0M619.2 265.9h0M618.8 267.1h0M618.8 267.5h0M617.1 268.7h0M616.4 268.3h0M615.5 268.0h0M615.2 267.4h0M615.9 267.3h0M617.7 267.5h0M608.5 272.0h0M615.4 266.8h0M613.3 265.8h0M611.5 267.7h0M610.7 270.1h0M610.0 271.0h0M609.8 272.0h0M611.0 272.9h0M610.8 274.1h0M619.2 257.0h0M618.6 258.1h0M619.9 258.0h0M622.3 258.0h0M623.6 257.4h0M624.6 257.2h0M623.6 256.9h0M623.4 255.8h0M622.3 256.2h0M619.8 256.1h0M619.9 256.8h0M619.3 255.7h0M612.2 268.8h0M613.8 266.2h0M614.9 263.3h0M616.9 264.0h0M616.9 264.1h0M618.9 263.3h0M619.3 265.1h0M618.5 265.6h0M618.1 266.9h0M617.3 267.1h0M630.7 269.7h0M629.5 269.7h0M629.8 267.7h0M630.8 266.2h0M631.7 264.8h0M632.2 265.1h0M632.4 262.5h0M605.4 278.8h0M607.0 278.3h0M608.2 277.7h0M608.8 277.0h0M611.3 277.4h0M611.0 281.3h0M609.7 281.6h0M608.0 282.2h0M605.7 283.8h0M602.4 279.8h0M627.3 254.1h0M626.4 252.6h0M625.2 252.4h0M626.6 250.7h0M627.7 250.8h0M628.6 252.4h0M629.4 252.1h0M630.2 250.9h0M630.1 250.5h0M631.2 251.1h0M630.8 252.7h0M630.1 252.1h0M630.1 252.4h0M628.3 253.8h0M628.5 254.3h0M628.7 256.6h0M628.0 257.1h0M628.0 257.6h0M627.6 239.4h0M627.9 240.3h0M626.9 240.4h0M625.5 241.5h0M624.8 241.6h0M623.8 242.5h0M623.6 243.5h0M624.0 244.7h0M622.0 245.0h0M624.6 262.6h0M624.5 263.0h0M623.4 263.9h0M622.7 264.3h0M622.2 264.4h0M620.1 265.4h0M619.3 263.7h0M619.1 263.0h0M618.0 262.8h0M615.8 264.6h0M614.0 264.5h0M614.3 263.0h0M617.6 260.5h0M634.0 269.4h0M635.0 270.1h0M637.5 272.4h0M643.6 249.5h0M643.9 250.0h0M643.5 249.0h0M645.6 246.8h0M647.7 248.0h0M648.1 249.0h0M622.1 262.9h0M621.3 260.0h0M622.6 259.6h0M623.8 259.8h0M624.3 260.6h0M626.3 260.7h0M625.9 262.0h0M625.7 264.6h0M627.1 264.0h0M627.3 264.1h0M629.3 264.1h0M630.7 265.1h0M600.6 289.4h0M607.5 274.3h0M635.6 234.5h0M637.2 233.6h0M630.5 232.9h0M642.4 232.2h0M632.9 281.0h0M630.9 280.2h0M632.1 279.4h0M631.7 277.2h0M632.2 277.1h0M631.3 277.8h0M631.1 278.4h0M630.2 279.8h0M629.7 281.3h0M630.0 281.5h0M633.9 282.6h0M632.8 281.7h0M629.3 283.5h0M629.0 285.0h0M620.5 252.0h0M622.0 252.0h0M622.3 253.6h0M622.5 254.3h0M623.1 254.5h0M624.6 256.3h0M625.1 257.2h0M625.1 258.3h0M626.7 258.5h0M627.7 257.9h0M628.8 258.1h0M630.1 257.9h0M630.0 256.3h0M631.5 254.6h0M631.7 253.9h0M612.7 266.8h0M613.5 266.5h0M613.7 265.9h0M612.8 263.8h0M615.1 261.6h0M614.0 261.4h0M640.7 240.9h0M641.8 242.6h0M643.6 241.2h0M642.8 240.9h0M645.7 240.1h0M648.0 243.6h0M647.5 247.1h0M646.9 248.0h0M645.1 247.4h0M643.1 246.4h0M644.4 245.0h0M642.7 244.6h0M626.8 249.9h0M626.9 249.5h0M626.2 246.5h0M627.2 245.6h0M627.6 244.8h0M627.6 244.4h0M629.6 245.4h0M630.0 246.1h0M630.7 246.3h0M631.7 244.6h0M631.2 244.2h0M633.0 243.4h0M633.0 242.6h0M633.4 241.4h0M635.1 242.1h0M634.5 240.6h0M634.7 238.9h0M634.1 239.9h0M633.0 240.3h0M631.5 240.7h0M619.3 228.6h0M633.4 247.2h0M633.6 248.3h0M634.4 249.1h0M634.6 250.2h0M635.5 251.6h0M635.6 252.8h0M637.4 251.6h0M635.8 252.0h0M636.3 252.7h0M636.5 253.9h0M637.9 254.1h0M638.6 254.1h0M640.0 254.5h0M640.0 256.3h0M635.3 263.4h0M635.9 263.7h0M637.0 264.0h0M639.6 264.3h0M639.7 264.9h0M639.9 265.8h0M639.9 267.3h0M639.7 269.5h0M639.9 270.4h0M640.9 267.9h0M642.9 269.3h0M642.0 269.7h0M607.6 283.8h0M606.5 281.7h0M604.7 281.7h0M605.8 280.3h0M605.4 278.9h0M605.6 277.0h0M604.4 274.4h0M605.2 273.1h0M609.4 270.9h0M610.5 270.5h0M650.4 250.0h0M604.6 277.9h0M604.5 278.3h0M622.2 241.2h0M621.2 241.3h0M620.2 239.5h0M619.3 236.4h0M635.1 254.5h0M634.5 251.5h0M636.0 251.0h0M637.1 250.3h0M639.2 248.8h0M639.0 248.3h0M638.9 249.6h0M638.4 250.9h0M639.4 251.2h0M638.9 253.1h0M641.2 251.9h0M641.9 251.3h0M640.7 250.7h0M642.2 249.4h0M643.0 250.1h0M644.6 249.4h0M644.6 251.0h0M620.4 281.8h0M621.1 279.4h0M621.4 279.8h0M622.1 277.9h0M621.4 278.0h0M621.2 276.2h0M620.7 275.7h0M619.5 275.6h0M617.7 274.8h0M617.7 274.4h0M625.9 265.0h0M627.3 262.6h0M628.2 263.9h0M628.1 265.4h0M627.2 266.3h0M627.6 267.0h0M627.2 268.3h0M626.9 270.4h0M627.5 268.5h0M627.9 267.7h0M628.8 267.8h0M629.8 270.3h0M630.4 271.6h0M628.9 270.8h0M627.5 270.8h0M626.4 270.1h0M617.1 263.8h0M618.0 261.8h0M617.6 261.4h0M619.2 261.6h0M620.4 262.6h0M621.7 264.2h0M620.4 266.5h0M621.7 268.2h0M615.1 227.4h0M622.9 235.7h0M625.4 236.9h0M624.9 238.2h0M626.5 239.8h0M626.8 240.6h0M628.9 240.8h0M629.3 241.6h0M629.8 241.0h0M629.6 244.4h0M630.6 245.5h0M631.5 246.6h0M605.4 288.0h0M608.3 287.1h0M607.8 284.4h0M607.4 282.6h0M607.6 283.1h0M617.5 274.4h0M617.0 273.8h0M617.7 273.0h0M617.0 271.8h0M617.4 271.1h0M618.0 269.0h0M616.9 269.5h0M616.7 267.8h0M615.9 267.7h0M615.2 265.6h0M613.6 265.9h0M613.1 264.3h0M612.4 263.3h0M638.6 233.2h0M637.0 233.3h0M634.4 233.5h0M632.7 234.6h0M633.3 236.0h0M633.5 236.6h0M632.8 236.9h0M630.7 236.6h0M629.4 237.3h0M629.3 237.1h0M628.6 237.2h0M629.1 233.6h0M621.5 241.7h0M623.7 243.0h0M646.7 258.9h0M640.9 266.8h0M621.4 275.2h0M620.4 275.4h0M620.4 276.1h0M620.6 278.6h0M621.1 279.4h0M619.6 280.5h0M621.0 282.7h0M621.9 284.1h0M622.9 285.1h0M622.4 286.0h0M623.0 286.7h0M624.8 286.2h0M625.4 285.0h0M624.4 283.9h0M624.0 283.1h0M646.9 249.5h0M645.1 248.4h0M642.7 248.3h0M641.3 249.1h0M639.4 249.4h0M640.1 247.9h0M642.6 263.7h0M640.4 264.0h0M639.8 263.8h0M639.5 265.8h0M637.2 265.7h0M635.1 265.9h0M633.6 264.0h0M634.2 233.6h0M635.8 233.2h0M605.6 273.2h0M603.6 280.5h0M604.7 281.2h0M603.6 281.4h0M600.9 283.6h0M600.0 283.5h0M628.6 265.2h0M627.2 265.3h0M627.4 265.2h0M627.9 264.1h0M628.9 263.7h0M628.7 262.8h0M628.6 260.8h0M628.7 261.4h0M628.8 259.5h0M627.8 258.7h0M629.6 257.7h0M629.6 258.9h0M649.9 254.3h0M650.9 244.8h0M621.7 246.8h0M622.8 247.0h0M623.2 248.0h0M624.0 248.7h0M625.8 248.5h0M626.7 250.0h0M627.3 249.0h0M628.4 250.2h0M629.2 251.4h0M630.6 251.4h0M630.4 252.4h0M630.9 253.6h0M631.7 255.8h0M631.8 257.1h0M632.1 257.7h0M631.9 257.7h0M630.0 258.5h0M629.7 256.7h0M629.0 256.7h0M628.6 256.9h0M628.6 258.5h0M623.9 255.0h0M621.1 257.6h0M618.6 258.3h0M619.2 258.7h0M618.5 260.3h0M617.6 262.5h0M616.8 264.2h0M617.5 263.2h0M618.7 212.8h0M624.7 217.1h0M626.4 215.4h0M618.3 247.1h0M626.7 283.3h0M628.9 284.9h0M628.8 284.9h0M627.2 248.6h0M626.9 245.6h0M626.5 246.9h0M623.6 246.4h0M623.7 245.1h0M625.2 244.4h0M626.6 243.8h0M627.0 243.2h0M606.6 278.4h0M608.2 280.7h0M607.8 281.7h0M607.2 282.5h0M605.4 282.9h0M604.6 283.4h0M604.0 283.0h0M603.9 282.3h0M604.1 281.2h0M605.7 280.7h0M629.2 259.6h0M628.2 262.4h0M629.3 263.2h0M630.0 263.3h0M631.5 264.0h0M630.1 264.9h0M631.2 265.7h0M632.1 265.8h0M633.7 266.7h0M634.0 265.4h0M634.9 265.4h0M636.7 267.3h0M637.3 267.2h0M638.9 267.7h0M638.3 268.5h0M621.1 250.1h0M621.4 248.7h0M623.8 250.4h0M620.5 252.4h0M621.3 252.5h0M620.9 255.3h0M620.3 256.4h0M619.0 260.4h0M618.4 260.9h0M618.1 262.2h0M617.8 264.4h0M617.5 263.0h0M616.8 262.2h0M616.7 260.4h0M616.6 259.2h0M618.1 259.3h0M648.7 260.9h0M651.2 263.6h0M637.9 270.7h0M638.5 271.3h0M640.7 272.9h0M635.8 280.3h0M634.5 277.7h0M635.5 277.1h0M635.5 274.5h0M634.3 275.3h0M634.2 273.7h0M633.3 272.8h0M632.5 271.3h0M631.8 271.3h0M630.4 270.5h0M630.1 271.6h0M629.0 273.1h0M629.5 274.0h0M630.0 275.0h0M628.7 275.7h0M630.1 276.0h0M631.0 274.3h0M630.9 274.3h0M631.1 272.6h0M632.1 273.1h0M631.9 271.5h0M632.7 270.3h0M633.2 270.5h0M610.1 276.0h0M609.4 275.8h0M607.8 273.9h0M607.2 273.3h0M606.0 272.4h0M610.7 270.7h0M610.5 271.4h0M610.4 272.7h0M611.6 274.6h0M609.4 276.3h0M609.6 274.9h0M629.7 268.3h0M629.0 268.1h0M628.6 266.7h0M626.1 267.4h0M624.4 266.5h0M624.7 268.0h0M622.7 269.2h0M622.4 269.8h0M621.6 269.9h0M620.4 268.9h0M618.8 269.3h0M617.9 269.9h0M616.4 270.0h0M615.5 271.4h0M604.0 273.9h0M636.1 237.7h0M635.0 238.7h0M634.9 239.4h0M635.7 242.5h0M635.4 243.3h0M635.0 243.1h0M634.9 245.1h0M634.0 244.8h0M634.7 246.6h0M636.6 248.3h0M638.6 247.8h0M638.0 248.5h0M639.9 248.9h0M640.2 250.0h0M641.3 249.7h0M642.8 250.6h0M641.5 251.0h0M622.9 227.7h0M614.5 212.4h0M611.8 279.5h0M611.2 279.0h0M612.5 278.3h0M612.5 277.8h0M614.8 277.5h0M614.9 276.8h0M615.9 276.4h0M615.5 274.9h0M613.6 274.5h0M612.9 273.8h0M608.8 267.6h0M611.1 267.8h0M611.2 267.3h0M614.0 268.1h0M613.7 269.6h0M612.4 269.7h0M612.9 272.5h0M612.4 272.8h0M614.3 273.6h0M615.0 273.1h0M616.8 274.1h0M613.6 223.4h0M619.3 282.3h0M619.1 281.0h0M617.3 280.6h0M616.0 279.9h0M615.9 280.1h0M614.7 279.7h0M615.4 278.4h0M617.0 278.8h0M616.7 279.3h0M616.1 280.5h0M615.4 283.1h0M615.2 283.9h0M616.6 284.9h0M615.6 285.4h0M616.0 286.9h0M615.4 287.4h0M616.4 289.3h0M609.4 287.7h0M608.0 288.5h0M607.8 289.3h0M607.2 289.6h0M608.8 290.5h0M608.7 291.9h0M651.4 263.3h0M636.6 260.0h0M637.8 259.4h0M638.5 260.8h0M639.5 260.6h0M638.7 260.7h0M636.9 262.7h0M636.3 264.2h0M647.4 258.6h0M647.0 261.4h0M629.0 270.7h0M627.9 269.7h0M626.0 269.4h0M626.1 270.7h0M625.3 273.0h0M626.1 274.2h0M627.4 275.2h0M627.8 276.2h0M627.2 275.7h0M629.1 276.7h0M630.7 276.3h0M643.3 239.8h0M642.2 237.8h0M636.7 255.0h0M636.5 255.0h0M636.0 257.1h0M634.6 258.2h0M634.2 258.1h0M633.1 258.7h0M631.9 259.2h0M631.8 259.4h0M630.9 260.2h0M632.6 278.7h0M632.1 279.3h0M630.9 279.1h0M629.3 279.5h0M628.8 280.2h0M628.8 281.0h0M629.9 281.4h0M629.8 281.9h0M632.0 282.7h0M632.8 281.3h0M633.3 280.1h0M641.9 235.0h0M640.0 236.3h0M638.9 236.2h0M638.4 235.2h0M636.5 233.8h0M636.4 233.5h0M634.8 233.8h0M631.7 233.5h0M631.0 231.6h0M631.7 230.1h0M641.7 261.2h0M644.4 261.7h0M645.0 262.3h0M619.1 248.3h0M608.1 290.1h0M608.8 287.9h0M609.5 288.1h0M609.1 286.6h0M609.1 286.0h0M611.8 284.9h0M612.0 284.3h0M613.4 285.3h0M613.5 287.5h0M614.0 287.5h0M615.1 286.9h0M615.2 286.6h0M616.7 285.6h0M607.6 284.1h0M608.8 283.2h0M609.2 283.0h0M610.0 284.2h0M612.0 284.3h0M612.1 286.3h0M610.5 287.0h0M621.5 235.5h0M630.7 246.0h0M633.1 245.6h0M633.5 246.7h0M633.9 247.4h0M635.5 249.0h0M635.3 249.9h0M636.4 249.5h0M636.5 250.1h0M638.1 250.8h0M639.5 251.0h0M640.7 253.4h0M633.1 251.2h0M632.1 249.2h0M632.2 247.2h0M633.0 247.9h0M634.0 247.3h0M634.0 249.0h0M634.8 249.9h0M633.4 251.9h0M634.1 252.7h0M634.2 254.6h0M627.1 234.6h0M626.6 233.8h0M624.5 232.6h0M626.5 235.3h0M626.6 235.5h0M625.8 237.8h0M627.0 236.9h0M625.8 237.6h0M625.8 238.8h0M626.2 240.7h0M624.9 243.2h0M628.2 243.2h0M627.2 244.2h0M628.9 245.9h0M630.5 245.9h0M630.8 245.1h0M626.2 221.2h0M617.4 287.6h0M620.1 287.6h0M620.9 287.4h0M621.6 287.6h0M622.9 286.7h0M623.2 287.0h0M610.3 268.1h0M611.8 269.2h0M611.6 269.9h0M611.0 270.0h0M610.2 269.5h0M610.5 267.5h0M610.0 266.6h0M640.9 246.8h0M642.1 245.5h0M643.1 245.2h0M643.4 246.4h0M643.8 246.9h0M644.7 248.5h0M645.1 250.5h0M643.2 249.5h0M641.9 252.5h0M640.4 251.7h0M640.0 251.4h0M638.9 253.4h0M638.5 253.9h0M637.7 252.8h0M637.5 252.1h0M636.4 252.6h0M635.5 252.0h0M634.7 251.2h0M622.8 245.5h0M622.6 245.9h0M622.6 247.0h0M621.7 249.1h0M623.5 249.3h0M624.4 248.8h0M625.7 248.7h0M628.0 249.1h0M627.8 249.3h0M629.2 249.6h0M629.3 250.2h0M628.7 251.5h0M629.1 253.0h0M627.5 254.7h0M631.6 249.8h0M632.5 249.8h0M631.1 251.2h0M630.2 251.9h0M629.1 252.3h0M629.1 253.0h0M632.2 255.1h0M632.6 254.6h0M633.0 257.1h0M630.7 257.7h0M624.1 272.6h0M623.5 271.8h0M622.2 272.1h0M621.6 272.0h0M620.9 271.4h0M619.5 270.5h0M617.7 268.8h0M616.4 269.0h0M616.0 268.9h0M615.0 269.6h0M614.2 269.6h0M614.9 270.8h0M613.9 271.7h0M614.1 272.4h0M640.6 268.4h0M613.9 288.5h0M614.6 288.2h0M613.8 289.2h0M618.9 280.3h0M617.2 280.4h0M616.0 280.8h0M616.9 281.3h0M616.6 283.0h0M618.5 284.1h0M619.1 284.0h0M621.5 284.8h0M623.1 284.9h0M609.1 270.8h0M612.8 282.0h0M612.5 279.3h0M612.9 278.1h0M614.6 277.5h0M616.0 278.0h0M616.3 277.5h0M617.1 279.5h0M641.6 268.0h0M638.5 266.5h0M639.0 266.7h0M639.7 266.3h0M638.7 264.6h0M638.2 266.0h0M636.6 264.6h0M636.1 263.3h0M634.8 263.8h0M634.5 264.5h0M619.2 255.8h0M619.4 256.5h0M621.2 256.9h0M622.1 257.9h0M622.8 257.8h0M624.7 257.4h0M624.9 258.6h0M626.0 257.6h0M623.8 256.2h0M626.0 256.2h0M627.7 256.7h0M628.2 256.1h0M628.8 255.2h0M628.2 253.6h0M628.6 253.4h0M626.5 253.9h0M625.6 252.9h0M623.8 253.2h0M632.4 254.0h0M631.7 255.1h0M632.5 256.6h0M632.2 256.5h0M633.2 257.4h0M635.2 257.9h0M635.7 258.1h0M636.7 258.9h0M637.1 259.5h0M638.2 259.5h0M638.3 260.4h0M638.6 259.7h0M640.0 260.0h0M639.1 261.2h0M639.2 259.2h0M639.5 258.7h0M640.3 256.1h0M638.8 271.6h0M637.4 271.4h0M637.2 271.9h0M634.7 271.8h0M635.2 270.9h0M634.7 269.6h0M620.6 274.9h0M619.8 275.7h0M619.4 273.6h0M621.7 273.4h0M621.0 275.0h0M619.8 274.9h0M619.3 275.8h0M620.1 277.0h0M646.5 253.7h0M636.3 227.2h0M633.7 229.9h0M631.4 232.6h0M633.2 232.9h0M634.1 233.7h0M633.9 234.8h0M643.8 252.8h0M643.6 255.2h0M641.7 256.1h0M642.2 257.1h0M642.0 259.0h0M643.5 259.9h0M643.4 259.8h0M642.1 261.9h0M642.2 262.0h0M640.7 263.0h0M637.7 262.4h0M637.4 261.8h0M637.2 260.7h0M622.1 286.1h0M622.8 286.5h0M623.8 287.6h0M629.5 270.3h0M630.8 271.3h0M631.8 272.1h0M632.8 271.4h0M633.3 271.5h0M634.3 271.2h0M635.9 270.1h0M637.4 271.6h0M638.3 269.8h0M638.9 270.9h0M640.8 270.9h0M608.7 282.4h0M607.6 282.2h0M607.0 283.5h0M607.7 285.2h0M606.7 286.9h0M606.5 284.6h0M606.0 284.5h0M606.5 281.8h0M607.1 283.2h0M637.6 241.8h0M638.8 241.1h0M639.7 240.7h0M641.0 238.5h0M639.5 237.2h0M638.9 237.6h0M637.4 237.2h0M637.0 237.6h0M637.6 238.4h0M630.2 237.7h0M630.8 238.7h0M631.4 238.9h0M630.8 241.2h0M632.1 241.3h0M631.4 240.0h0M631.9 238.7h0M633.3 240.2h0M634.3 239.8h0M634.8 241.5h0M634.6 242.3h0M637.5 243.6h0M626.5 277.8h0M624.8 278.6h0M625.6 279.6h0M623.5 279.1h0M624.1 281.3h0M623.9 282.0h0M624.0 283.0h0M622.8 283.1h0M622.5 283.6h0M620.4 285.5h0M621.7 285.6h0M621.9 284.5h0M633.1 272.5h0M631.3 274.3h0M632.1 271.8h0M633.0 270.9h0M631.5 270.3h0M631.9 270.9h0M629.5 269.5h0M629.0 269.6h0M629.2 268.0h0M630.4 268.6h0M608.0 288.9h0M607.5 288.9h0M606.2 289.7h0M607.0 290.6h0M605.4 290.2h0M604.7 289.4h0M604.0 288.7h0M605.8 287.9h0M605.2 286.2h0M604.6 284.3h0M604.0 283.0h0M609.2 284.7h0M610.6 283.2h0M611.4 283.6h0M612.9 283.2h0M612.7 284.1h0M612.0 284.4h0M629.3 240.5h0M630.6 240.6h0M632.1 241.2h0M632.6 240.6h0M632.3 238.9h0M631.9 238.1h0M631.6 236.5h0M630.3 236.2h0M630.9 238.2h0M631.9 239.4h0M631.0 240.9h0M631.4 242.3h0M632.7 243.1h0M632.8 241.2h0M634.8 241.7h0M635.4 241.4h0M636.7 241.4h0M637.3 242.5h0M625.5 272.3h0M626.8 270.6h0M629.0 272.2h0M627.8 272.7h0M630.0 272.9h0M630.1 272.0h0M632.2 271.8h0M631.9 271.1h0M633.0 270.3h0M633.2 271.4h0M634.2 271.8h0M634.3 274.6h0M633.8 275.2h0M634.2 273.6h0M634.9 272.4h0M634.6 271.2h0M635.0 269.2h0M635.2 269.4h0M637.0 244.7h0M635.2 245.0h0M634.1 245.3h0M632.0 245.8h0M632.0 246.5h0M631.3 246.2h0M628.9 245.9h0M628.9 245.8h0M627.3 245.9h0M627.0 244.4h0M628.1 244.0h0M627.7 241.5h0M628.0 240.8h0M628.5 240.3h0M629.1 239.0h0M630.6 239.5h0M608.0 274.4h0M607.6 273.8h0M606.7 274.2h0M607.8 273.5h0M609.1 273.6h0M608.1 269.8h0M615.1 263.3h0M614.0 265.4h0M616.0 266.4h0M616.2 266.9h0M614.5 268.3h0M630.1 269.9h0M630.8 268.7h0M629.5 266.6h0M628.3 265.7h0M629.5 265.9h0M627.1 265.7h0M627.5 265.7h0M625.6 265.4h0M624.9 265.8h0M623.5 265.8h0M644.7 258.5h0M649.2 261.4h0M646.6 262.4h0M613.1 277.6h0M614.2 277.5h0M613.7 278.5h0M613.5 279.6h0M613.9 280.7h0M613.8 283.7h0M614.0 281.9h0M612.7 283.1h0M611.4 284.7h0M612.1 285.0h0M611.8 283.4h0M610.2 283.2h0M611.2 282.5h0M611.0 282.5h0M612.5 283.5h0M617.7 260.3h0M617.5 261.0h0M617.4 257.2h0M620.0 257.2h0M620.8 258.1h0M621.0 258.8h0M622.4 257.8h0M623.7 257.0h0M621.2 284.7h0M621.5 285.3h0M621.2 286.6h0M623.2 238.5h0M623.0 239.0h0M621.7 274.7h0M623.8 273.3h0M624.0 272.0h0M622.9 272.6h0M621.9 272.1h0M621.0 269.7h0M621.4 269.1h0M623.8 269.7h0M623.9 270.0h0M624.7 271.2h0M625.1 270.7h0M630.5 279.9h0M630.1 279.7h0M633.4 279.9h0M632.4 237.5h0M632.4 238.7h0M633.8 239.0h0M635.1 238.9h0M634.7 240.2h0M635.0 240.4h0M636.3 242.4h0M636.3 242.6h0M635.8 243.5h0M637.1 244.5h0M636.8 246.2h0M635.2 246.5h0M635.9 247.6h0M636.3 248.5h0M636.4 250.5h0M635.0 250.8h0M642.5 239.3h0M642.7 238.1h0M643.2 238.4h0M620.2 274.4h0M621.1 274.1h0M621.8 274.6h0M623.4 275.2h0M624.5 276.7h0M623.0 277.4h0M622.1 276.3h0M622.1 276.9h0M621.0 276.3h0M620.9 275.7h0M619.8 274.4h0M618.8 276.4h0M618.2 276.2h0M618.7 277.8h0M617.8 280.8h0M619.8 280.7h0M620.6 281.7h0M621.0 282.0h0M623.0 281.1h0M629.7 237.8h0M628.6 237.7h0M627.4 239.5h0M627.0 239.4h0M625.9 239.8h0M625.8 240.3h0M626.0 241.8h0M625.7 242.0h0M625.6 243.1h0M625.3 243.8h0M625.0 245.6h0M625.6 246.2h0M624.8 247.3h0M631.8 271.4h0M631.9 273.4h0M631.5 274.1h0M631.6 274.0h0M631.0 275.9h0M632.4 276.4h0M634.7 276.1h0M635.4 276.7h0M636.0 276.2h0M636.3 275.8h0M637.1 239.5h0M637.7 241.0h0M638.3 241.2h0M637.9 242.4h0M638.4 243.1h0M639.6 244.0h0M640.0 244.7h0M640.2 245.9h0M640.0 246.7h0M641.1 248.0h0M641.5 247.5h0M642.9 247.4h0M641.9 245.4h0M643.5 244.4h0M645.1 243.0h0M626.5 242.0h0M626.6 240.8h0M627.8 241.0h0M627.2 239.4h0M627.8 238.5h0M630.4 238.4h0M632.1 236.9h0M631.5 236.8h0M632.4 236.2h0M633.8 236.7h0M633.0 237.1h0M635.5 238.4h0M636.6 238.2h0M637.2 238.1h0M638.1 240.1h0M636.0 240.6h0M637.7 242.3h0M637.6 242.6h0M640.1 243.5h0M638.2 242.9h0M637.2 244.2h0M635.7 245.0h0M634.7 245.5h0M633.7 245.6h0M632.7 243.5h0M632.0 242.3h0M630.3 244.8h0M629.3 245.1h0M628.2 246.0h0M627.3 246.4h0M632.6 257.3h0M634.3 257.6h0M634.6 258.6h0M634.9 259.2h0M635.0 258.5h0M634.9 256.9h0M635.4 256.9h0M634.3 253.6h0M634.0 251.8h0M634.9 252.2h0M636.1 251.4h0M637.3 252.4h0M623.3 240.7h0M625.0 239.1h0M625.4 240.0h0M625.3 241.6h0M626.3 241.4h0M626.4 241.0h0M627.1 239.7h0M626.8 239.4h0M625.3 238.1h0M631.1 271.3h0M630.4 271.9h0M631.4 273.9h0M631.3 274.9h0M632.2 275.2h0M632.9 276.2h0M634.6 275.7h0M619.7 279.7h0M621.5 278.4h0M622.9 278.2h0M623.8 278.0h0M623.6 279.4h0M624.3 280.3h0M626.8 279.6h0M627.4 279.3h0M627.1 281.3h0M628.6 280.7h0M629.0 279.2h0M616.1 261.4h0M617.2 260.3h0M619.0 259.4h0M619.3 259.5h0M620.1 258.0h0M620.8 255.7h0M620.0 255.4h0M619.0 254.0h0M631.9 266.1h0M631.3 264.2h0M630.3 263.9h0M628.6 263.5h0M628.1 263.8h0M627.1 264.4h0M626.2 263.9h0M624.3 263.8h0M623.4 263.1h0M623.2 263.1h0M621.3 264.3h0M619.5 264.2h0M617.6 263.7h0M616.5 263.5h0M616.2 264.0h0M616.8 264.7h0M647.0 248.6h0M646.5 249.3h0M646.4 251.1h0M644.3 250.9h0M642.5 252.1h0M642.1 251.3h0M641.3 250.8h0M641.9 249.9h0M643.4 249.4h0M644.9 249.2h0M644.8 247.5h0M643.9 246.2h0M643.6 246.4h0M642.3 246.7h0M640.8 245.3h0M628.4 239.4h0M630.0 239.2h0M630.2 238.2h0M631.4 238.3h0M633.2 239.3h0M633.6 239.9h0M633.8 240.8h0M635.3 241.6h0M634.6 242.7h0M633.3 243.1h0M634.6 244.9h0M633.2 245.1h0M632.5 244.8h0M621.1 263.5h0M620.9 262.8h0M622.2 262.7h0M622.0 261.3h0M621.1 261.5h0M619.9 262.2h0M619.7 263.6h0M619.8 264.6h0M619.5 265.8h0M619.5 266.4h0M621.1 266.3h0M637.2 241.7h0M636.6 240.6h0M636.0 239.6h0M635.7 239.1h0M636.2 238.3h0M636.4 237.8h0M637.8 237.0h0M636.9 235.4h0M637.5 235.1h0M640.3 235.1h0M640.8 236.2h0M641.2 238.7h0M639.1 253.3h0M636.0 254.2h0M635.2 254.9h0M634.8 256.3h0M634.2 258.2h0M633.7 256.9h0M633.3 259.1h0M631.4 258.9h0M631.1 259.8h0M629.5 259.3h0M628.6 258.9h0M629.3 258.7h0M629.5 257.5h0M628.7 257.0h0M634.2 246.8h0M635.9 247.6h0M637.2 248.4h0M638.8 248.4h0M638.4 248.7h0M638.9 249.7h0M638.6 250.1h0M639.7 251.2h0M640.4 250.6h0M641.6 249.7h0M642.9 249.1h0M645.0 248.7h0M645.1 248.0h0M645.5 251.4h0M644.3 250.4h0M626.7 235.6h0M627.9 237.0h0M627.9 237.0h0M627.8 237.4h0M630.1 238.3h0M631.2 237.0h0M630.4 235.5h0M631.0 234.4h0M632.7 234.7h0M633.1 234.6h0M634.2 234.7h0M628.6 248.8h0M628.3 250.2h0M629.1 252.2h0M626.9 252.2h0M625.4 251.2h0M626.3 249.9h0M626.6 248.7h0M626.9 248.2h0M628.1 247.0h0M625.4 245.8h0M625.8 246.3h0M625.0 245.5h0M623.1 244.1h0M624.9 242.5h0M624.8 241.9h0M625.8 241.7h0M626.8 240.1h0M626.2 238.5h0M625.7 238.0h0M612.9 275.8h0M612.4 275.2h0M610.7 275.5h0M611.1 274.7h0M609.2 276.2h0M608.5 277.1h0M608.1 279.3h0M608.2 280.0h0M607.9 281.8h0M607.6 281.8h0M605.9 281.6h0M605.2 280.4h0M605.9 276.1h0M615.6 282.1h0M616.0 279.5h0M615.8 278.2h0M614.7 278.1h0M614.6 275.2h0M612.4 276.5h0M612.0 278.2h0M612.0 279.4h0M610.2 280.1h0M609.1 279.5h0M610.4 277.9h0M609.9 277.9h0M610.4 276.9h0M612.2 276.2h0M612.3 276.2h0M613.6 275.9h0M614.8 275.3h0M615.4 275.8h0M616.7 276.6h0M631.7 256.5h0M632.7 256.3h0M634.2 255.0h0M634.5 252.9h0M634.7 251.3h0M633.2 251.0h0M633.7 250.8h0M633.0 248.5h0M633.9 246.9h0M638.4 246.8h0M638.6 247.3h0M639.9 246.9h0M641.2 246.8h0M644.1 243.8h0M645.1 244.2h0M646.8 243.3h0M645.9 244.0h0M645.0 243.9h0M644.9 242.8h0M644.7 241.6h0M645.1 241.7h0M627.4 283.5h0M627.2 282.0h0M628.9 281.7h0M627.9 279.2h0M626.9 279.5h0M625.1 279.1h0M625.4 277.8h0M624.8 276.9h0M624.9 276.1h0M623.8 275.5h0M624.8 274.5h0M625.6 272.5h0M626.6 271.7h0M626.4 271.5h0M613.8 275.1h0M612.3 274.3h0M612.9 273.7h0M610.7 273.5h0M610.7 272.1h0M611.0 271.9h0M610.7 270.3h0M611.2 269.9h0M608.7 268.1h0M608.8 268.9h0M637.8 277.2h0M637.3 276.1h0M636.1 277.1h0M636.1 273.8h0M636.1 273.8h0M635.3 272.9h0M632.9 271.7h0M632.9 272.0h0M632.0 272.8h0M634.9 233.1h0M634.4 232.5h0M631.7 256.4h0M632.0 256.2h0M632.5 255.6h0M634.1 256.4h0M635.2 257.2h0M635.8 256.6h0M636.4 255.7h0M636.7 254.2h0M637.2 254.0h0M637.7 253.3h0M640.0 252.2h0M640.6 251.3h0M641.7 251.4h0M643.1 251.6h0M641.4 252.2h0M641.7 252.1h0M639.8 252.5h0M639.2 252.4h0M638.0 252.6h0M638.0 249.4h0M642.6 239.6h0M642.8 242.8h0M641.7 243.5h0M640.8 243.7h0M641.1 246.4h0M642.9 244.5h0M643.2 247.1h0M634.1 235.4h0M633.9 235.2h0M634.4 238.1h0M634.5 237.7h0M633.0 238.5h0M632.5 238.8h0M630.5 239.5h0M630.2 240.1h0M629.3 241.1h0M629.2 242.6h0M629.9 243.1h0M632.1 266.2h0M632.7 267.1h0M633.2 270.1h0M633.5 270.8h0M632.1 270.2h0M632.0 271.1h0M632.8 272.0h0M631.2 271.8h0M629.5 272.4h0M629.0 272.7h0M629.9 272.4h0M630.6 273.9h0M627.7 259.4h0M629.2 257.6h0M629.3 255.5h0M627.2 254.5h0M627.1 254.8h0M626.2 253.9h0M625.8 253.1h0M625.2 251.9h0M624.5 251.7h0M621.4 249.2h0M645.0 242.4h0M644.9 241.8h0M645.5 238.3h0M625.5 251.9h0M625.8 254.0h0M625.8 252.4h0M628.4 252.5h0M628.4 252.1h0M629.6 252.5h0M630.5 251.0h0M628.5 249.8h0M627.5 250.9h0M627.6 251.7h0M627.3 252.8h0M628.8 254.5h0M628.0 254.4h0M627.6 255.8h0M628.6 257.7h0M628.1 258.9h0M627.7 258.8h0M629.8 260.3h0M628.5 260.8h0M628.5 277.4h0M628.3 278.5h0M626.8 280.2h0M628.6 280.0h0M628.6 281.2h0M627.7 280.2h0M628.1 279.4h0M628.1 278.3h0M627.2 277.6h0M626.9 276.3h0M628.3 275.4h0M627.5 275.5h0M625.7 274.9h0M625.4 276.3h0M639.8 245.6h0M638.4 243.8h0M638.4 244.5h0M637.8 242.6h0M636.6 242.5h0M634.9 240.5h0M634.2 240.1h0M632.5 240.0h0M631.3 241.2h0M628.1 267.5h0M626.8 267.5h0M626.0 269.7h0M627.0 268.9h0M627.1 270.6h0M627.6 271.6h0M627.0 272.5h0M626.9 275.4h0M624.9 275.2h0M625.6 274.8h0M638.0 241.4h0M638.0 240.9h0M638.2 239.2h0M637.7 237.6h0M638.6 237.5h0M638.4 236.6h0M626.8 273.7h0M627.5 274.9h0M628.0 273.8h0M626.5 273.1h0M626.3 272.5h0M624.4 273.2h0M623.7 273.5h0M623.2 274.4h0M621.8 275.0h0M620.9 276.9h0M621.9 277.4h0M623.1 278.4h0M623.0 240.3h0M623.6 239.1h0M622.2 235.9h0M633.8 227.1h0M637.4 230.6h0M638.8 232.2h0M638.4 234.6h0M636.7 234.0h0M637.0 236.7h0M638.8 237.6h0M631.8 222.5h0M631.5 217.8h0M640.6 236.0h0M623.8 240.2h0M624.0 240.3h0M624.3 237.7h0M624.7 237.3h0M623.2 236.4h0M623.2 237.2h0M622.9 238.3h0M622.5 239.2h0M621.4 239.5h0M631.9 232.6h0M631.8 233.5h0M632.5 234.4h0M633.7 234.7h0M634.6 235.4h0M635.9 234.8h0M636.1 234.3h0M634.4 233.7h0M636.8 231.3h0M613.9 221.2h0M623.3 245.8h0M623.8 245.9h0M626.3 245.8h0M628.1 247.1h0M627.2 248.4h0M628.7 249.5h0M628.5 249.8h0M628.1 251.3h0M629.5 251.3h0M632.1 250.5h0M632.4 251.0h0M633.3 251.2h0M634.0 230.9h0M633.1 234.0h0M631.9 235.2h0M631.9 236.3h0M633.0 236.5h0M633.6 238.0h0M635.1 237.8h0M636.7 235.4h0M637.8 233.8h0M638.7 234.8h0M624.3 225.7h0M626.4 225.3h0"/>
<text x="501.80" y="189.30" font-size="22.5">G</text>
<text x="606.20" y="192.80" font-size="10.9" text-anchor="middle" font-weight="bold">Predicted regions</text>
<line x1="551.50" y1="203.30" x2="551.50" y2="298.30" stroke="#333" stroke-width="0.9"/>
<line x1="551.10" y1="297.90" x2="655.80" y2="297.90" stroke="#333" stroke-width="0.9"/>
<line x1="549.30" y1="203.50" x2="551.50" y2="203.50" stroke="#333" stroke-width="0.8"/>
<text x="544.40" y="208.95" font-size="10.2" text-anchor="end">50</text>
<line x1="549.30" y1="227.80" x2="551.50" y2="227.80" stroke="#333" stroke-width="0.8"/>
<text x="544.40" y="233.15" font-size="10.2" text-anchor="end">25</text>
<line x1="549.30" y1="252.30" x2="551.50" y2="252.30" stroke="#333" stroke-width="0.8"/>
<text x="544.40" y="257.25" font-size="10.2" text-anchor="end">0</text>
<line x1="549.30" y1="276.50" x2="551.50" y2="276.50" stroke="#333" stroke-width="0.8"/>
<text x="544.40" y="281.65" font-size="10.2" text-anchor="end">−25</text>
<line x1="556.40" y1="297.90" x2="556.40" y2="300.60" stroke="#333" stroke-width="0.8"/>
<text x="558.10" y="311.96" font-size="10.5" text-anchor="middle">−60</text>
<line x1="581.30" y1="297.90" x2="581.30" y2="300.60" stroke="#333" stroke-width="0.8"/>
<text x="583.00" y="311.96" font-size="10.5" text-anchor="middle">−30</text>
<line x1="606.30" y1="297.90" x2="606.30" y2="300.60" stroke="#333" stroke-width="0.8"/>
<text x="604.50" y="311.96" font-size="10.5" text-anchor="middle">0</text>
<line x1="630.80" y1="297.90" x2="630.80" y2="300.60" stroke="#333" stroke-width="0.8"/>
<text x="630.40" y="311.96" font-size="10.5" text-anchor="middle">30</text>
<line x1="655.70" y1="297.90" x2="655.70" y2="300.60" stroke="#333" stroke-width="0.8"/>
<text x="655.50" y="311.96" font-size="10.5" text-anchor="middle">60</text>
<text x="608.70" y="325.90" font-size="10.9" text-anchor="middle">tSNE_1</text>
<text transform="translate(522.90 242.20) rotate(-90)" x="0" y="3.90" font-size="10.9" text-anchor="middle" fill="#000">tSNE_2</text>
<circle cx="654.80" cy="209.50" r="2.0" fill="#C0C0C0"/>
<text x="661.60" y="211.69" font-size="10.3">NA</text>
<circle cx="654.80" cy="220.00" r="2.0" fill="#00EE00"/>
<text x="661.60" y="222.19" font-size="10.3">NES</text>
<circle cx="654.80" cy="230.50" r="2.0" fill="#EE0000"/>
<text x="661.60" y="232.69" font-size="10.3">NLS</text>
<text x="593.70" y="247.20" font-size="10.9" text-anchor="middle">NES</text>
<text x="631.10" y="266.10" font-size="10.9" text-anchor="middle">NLS</text>
<path transform="translate(0 156.00)" stroke="#BFBFBF" stroke-width="1.3" stroke-linecap="square" fill="none" d="M591.8 225.0h0M591.8 224.8h0M592.2 223.2h0M593.2 223.5h0M594.0 223.1h0M595.3 222.4h0M595.5 222.6h0M597.0 221.7h0M597.9 220.4h0M597.7 220.1h0M630.7 271.4h0M629.4 270.2h0M628.8 269.8h0M630.2 268.8h0M630.7 268.8h0M631.5 267.6h0M632.8 267.9h0M631.9 268.8h0M629.4 215.7h0M629.4 215.7h0M630.6 216.0h0M630.6 216.7h0M632.6 257.9h0M632.5 257.7h0M632.7 258.4h0M633.4 260.6h0M633.2 261.1h0M633.0 262.8h0M633.4 263.3h0M634.3 265.4h0M633.6 266.4h0M643.4 237.5h0M644.4 236.2h0M642.6 235.4h0M643.0 234.2h0M643.0 233.9h0M640.3 234.4h0M640.3 234.6h0M638.8 234.8h0M637.6 235.2h0M636.8 235.1h0M637.3 236.3h0M637.0 237.7h0M635.3 237.4h0M635.8 239.9h0M635.7 240.8h0M637.8 242.1h0M636.9 243.3h0M637.0 243.7h0M636.5 244.1h0M635.2 244.3h0M619.5 259.5h0M618.2 260.4h0M619.4 260.9h0M619.3 262.2h0M620.2 264.2h0M620.4 263.6h0M619.2 264.9h0M619.2 265.9h0M618.8 267.1h0M618.8 267.5h0M617.1 268.7h0M616.4 268.3h0M615.5 268.0h0M615.2 267.4h0M615.9 267.3h0M617.7 267.5h0M618.7 266.8h0M565.0 261.4h0M564.2 261.0h0M564.3 259.9h0M565.7 259.3h0M566.2 258.6h0M566.2 258.6h0M567.7 259.7h0M567.2 260.2h0M568.8 260.4h0M606.4 270.9h0M606.2 271.0h0M605.9 272.5h0M608.5 272.0h0M608.7 271.6h0M608.9 270.0h0M608.7 268.0h0M607.1 267.7h0M606.9 266.8h0M607.5 265.5h0M608.9 265.8h0M608.4 264.5h0M608.5 263.5h0M607.2 263.0h0M608.5 261.8h0M607.8 260.8h0M607.3 260.0h0M615.4 266.8h0M614.6 265.8h0M613.3 265.8h0M610.9 266.0h0M611.5 267.7h0M611.7 268.6h0M611.4 269.5h0M610.7 270.1h0M610.0 271.0h0M609.8 272.0h0M611.0 272.9h0M610.8 274.1h0M609.5 273.4h0M596.3 260.1h0M595.3 259.5h0M594.5 259.4h0M595.0 258.3h0M595.7 257.6h0M596.4 257.8h0M597.9 257.6h0M599.2 257.9h0M599.9 258.0h0M600.7 257.9h0M602.0 258.5h0M602.7 259.3h0M602.0 260.3h0M600.7 260.1h0M599.3 259.8h0M598.2 259.2h0M597.8 260.5h0M597.4 259.9h0M595.4 259.4h0M610.9 237.2h0M611.1 237.9h0M611.6 238.8h0M612.1 239.4h0M613.7 240.0h0M614.0 240.7h0M614.8 242.1h0M615.9 242.2h0M587.7 226.0h0M588.6 225.8h0M588.6 225.7h0M589.7 224.1h0M590.1 223.5h0M590.0 222.2h0M588.3 223.2h0M587.8 221.9h0M586.7 221.3h0M586.1 221.6h0M584.9 223.3h0M585.0 224.0h0M583.4 223.3h0M584.4 223.9h0M586.1 224.1h0M619.2 257.0h0M618.2 258.1h0M618.6 258.1h0M619.9 258.0h0M621.1 258.2h0M622.3 258.0h0M623.6 257.4h0M624.6 257.2h0M623.6 256.9h0M623.4 255.8h0M622.3 256.2h0M619.8 256.1h0M619.9 256.8h0M619.3 255.7h0M618.0 256.0h0M567.6 252.0h0M568.0 252.1h0M569.2 253.4h0M569.6 253.2h0M571.6 252.8h0M572.0 252.9h0M573.0 253.5h0M574.1 254.7h0M573.9 255.6h0M575.6 254.8h0M576.4 256.0h0M577.0 256.5h0M576.7 258.1h0M611.1 270.4h0M611.1 269.0h0M612.2 269.0h0M612.2 268.8h0M613.5 266.9h0M613.8 266.2h0M615.0 265.4h0M614.9 263.5h0M614.9 263.3h0M614.9 263.4h0M616.9 264.0h0M616.9 264.1h0M618.9 263.3h0M619.3 265.1h0M618.5 265.6h0M618.1 266.9h0M617.3 267.1h0M630.7 269.7h0M629.5 269.7h0M629.8 267.7h0M629.2 267.0h0M630.8 266.2h0M631.5 266.0h0M631.7 264.8h0M632.2 265.1h0M632.4 262.5h0M617.8 233.1h0M618.6 232.6h0M619.1 233.1h0M620.9 231.2h0M620.8 230.4h0M620.4 229.0h0M618.9 230.0h0M617.2 230.4h0M616.2 229.6h0M614.4 228.5h0M615.3 228.0h0M614.6 227.6h0M613.1 227.3h0M611.6 227.1h0M612.1 228.6h0M612.3 229.5h0M612.2 230.4h0M611.6 231.4h0M609.6 231.6h0M609.0 231.1h0M609.1 232.9h0M608.3 233.5h0M605.4 278.8h0M607.2 277.3h0M607.0 278.3h0M608.2 277.7h0M608.8 277.0h0M610.0 276.9h0M611.3 277.4h0M610.3 278.8h0M611.0 281.3h0M609.7 281.6h0M609.2 282.6h0M608.0 282.2h0M607.0 283.3h0M604.9 283.1h0M605.7 283.8h0M604.5 282.2h0M602.4 282.4h0M601.7 281.8h0M601.9 280.5h0M602.4 279.8h0M601.4 278.5h0M599.9 278.0h0M600.9 278.7h0M594.8 252.4h0M593.9 253.0h0M593.1 254.6h0M592.3 255.5h0M592.0 256.4h0M591.5 257.0h0M593.0 258.1h0M592.6 258.0h0M592.8 260.6h0M591.9 260.9h0M591.0 259.5h0M590.6 259.9h0M589.1 259.4h0M587.8 259.6h0M587.0 258.6h0M587.4 257.5h0M587.6 256.8h0M588.2 256.0h0M588.4 254.6h0M588.2 252.1h0M590.1 252.9h0M627.3 254.1h0M626.4 252.6h0M625.2 252.4h0M626.6 250.7h0M627.7 250.8h0M628.6 252.4h0M629.4 252.1h0M630.2 250.9h0M630.1 250.5h0M631.2 251.1h0M630.8 252.7h0M630.1 252.1h0M630.1 252.4h0M628.3 253.8h0M628.5 254.3h0M628.7 256.6h0M628.0 257.1h0M628.0 257.6h0M627.6 239.4h0M627.9 240.3h0M626.9 240.4h0M626.5 238.7h0M625.5 241.5h0M624.8 241.6h0M623.8 242.5h0M623.6 243.5h0M624.0 244.7h0M622.8 244.6h0M622.0 245.0h0M620.1 245.7h0M570.7 244.3h0M572.0 244.6h0M572.9 244.4h0M574.4 243.5h0M574.6 242.5h0M576.1 242.7h0M576.4 243.1h0M577.4 244.3h0M578.8 244.1h0M578.6 245.5h0M578.2 245.0h0M578.2 246.9h0M577.4 248.1h0M577.9 250.2h0M582.4 267.9h0M582.5 266.6h0M583.9 266.1h0M583.3 265.3h0M583.6 264.6h0M582.7 264.1h0M582.1 263.1h0M582.2 261.1h0M581.4 260.6h0M580.6 259.9h0M581.2 258.2h0M581.9 257.3h0M583.2 257.4h0M584.6 257.5h0M584.0 257.1h0M585.4 256.1h0M607.8 218.5h0M608.8 217.6h0M608.3 216.4h0M608.3 215.3h0M608.5 214.3h0M607.7 213.9h0M609.6 212.7h0M609.0 211.0h0M609.0 211.5h0M602.2 223.6h0M601.2 223.4h0M601.7 225.0h0M603.8 225.4h0M604.4 227.0h0M605.0 226.5h0M605.5 224.9h0M606.2 225.1h0M608.5 224.1h0M608.6 223.3h0M608.7 222.1h0M608.1 221.4h0M609.1 221.3h0M610.0 222.9h0M611.3 222.2h0M611.1 221.4h0M612.9 221.7h0M613.9 221.1h0M614.3 222.7h0M613.3 223.6h0M613.2 224.5h0M613.7 225.6h0M561.8 255.5h0M559.9 256.4h0M558.6 257.2h0M558.0 256.3h0M558.4 255.8h0M556.9 256.1h0M556.4 256.6h0M556.3 257.3h0M557.1 259.6h0M556.5 259.7h0M556.5 259.9h0M624.6 262.6h0M624.5 263.0h0M623.4 263.9h0M622.7 264.3h0M622.2 264.4h0M620.1 265.4h0M619.3 263.7h0M619.1 263.0h0M618.0 262.8h0M616.2 263.2h0M615.8 264.6h0M615.8 265.7h0M614.0 264.5h0M614.3 263.0h0M613.7 263.5h0M615.1 263.0h0M615.3 262.2h0M615.8 261.8h0M616.1 260.8h0M617.6 260.5h0M605.4 265.9h0M606.6 266.5h0M606.8 266.8h0M606.0 267.2h0M605.2 267.5h0M604.4 268.2h0M602.7 268.0h0M601.6 268.5h0M601.4 268.1h0M600.3 267.5h0M600.8 266.7h0M601.8 266.3h0M602.2 265.8h0M602.8 264.6h0M602.4 263.3h0M602.9 264.0h0M604.1 264.0h0M605.9 262.7h0M604.6 261.7h0M603.6 261.8h0M602.7 260.6h0M601.0 261.6h0M601.7 262.9h0M634.0 269.4h0M634.5 270.6h0M635.0 270.1h0M637.0 271.0h0M637.4 272.5h0M637.5 272.4h0M636.7 274.2h0M636.4 273.8h0M608.7 291.5h0M598.3 257.6h0M597.6 259.1h0M598.3 260.8h0M599.0 260.7h0M600.2 262.3h0M599.4 260.7h0M598.3 262.4h0M597.3 262.9h0M597.1 261.7h0M596.1 260.9h0M595.0 261.3h0M594.7 260.2h0M594.1 259.9h0M594.0 258.6h0M593.1 256.9h0M591.2 256.9h0M591.5 255.4h0M592.1 254.9h0M592.6 254.2h0M590.6 253.8h0M592.0 252.4h0M594.2 253.2h0M594.7 254.2h0M573.3 283.7h0M643.6 249.5h0M643.9 250.0h0M643.5 249.0h0M644.0 246.8h0M645.6 246.8h0M646.3 248.6h0M647.7 248.0h0M648.1 249.0h0M649.9 249.0h0M650.2 248.0h0M650.5 247.4h0M651.2 246.4h0M651.6 244.5h0M651.6 244.2h0M622.1 262.9h0M621.1 261.2h0M621.3 260.0h0M622.6 259.6h0M623.8 259.8h0M624.3 260.6h0M626.3 260.7h0M626.0 261.5h0M625.9 262.0h0M625.7 264.6h0M627.1 264.0h0M627.3 264.1h0M629.3 264.1h0M630.7 265.1h0M570.8 246.3h0M570.2 246.4h0M569.9 248.7h0M569.1 247.7h0M568.5 248.1h0M566.9 249.4h0M566.7 248.5h0M564.4 249.2h0M564.1 250.7h0M563.2 250.3h0M563.3 250.9h0M564.8 250.4h0M565.3 248.8h0M593.2 274.1h0M593.2 275.0h0M590.8 274.9h0M590.6 275.6h0M590.7 277.5h0M590.5 278.1h0M592.2 278.6h0M592.3 279.6h0M593.4 280.6h0M592.3 281.1h0M592.5 282.8h0M593.4 283.1h0M593.8 284.7h0M594.2 286.1h0M594.7 285.9h0M595.0 286.1h0M596.4 286.4h0M597.8 287.8h0M598.7 287.1h0M599.1 285.9h0M599.7 287.8h0M600.3 288.6h0M600.6 289.4h0M606.2 276.6h0M605.7 275.9h0M606.6 273.4h0M607.5 274.3h0M607.5 274.0h0M606.2 272.8h0M604.8 273.9h0M604.8 274.3h0M603.8 275.2h0M602.5 275.0h0M602.1 275.0h0M600.3 274.1h0M599.8 273.6h0M599.7 272.6h0M599.0 272.0h0M597.8 271.1h0M597.3 270.4h0M596.8 269.1h0M596.5 268.8h0M596.4 268.4h0M595.8 267.6h0M590.4 210.6h0M588.8 210.7h0M588.3 209.3h0M587.8 208.4h0M602.3 223.6h0M601.7 224.0h0M600.3 223.8h0M600.0 222.5h0M601.4 221.9h0M601.4 221.7h0M603.3 222.0h0M603.5 222.4h0M604.5 223.5h0M604.5 224.2h0M604.5 225.7h0M603.5 226.4h0M635.6 234.5h0M637.2 233.6h0M638.5 234.0h0M639.8 232.8h0M638.9 232.3h0M641.1 231.8h0M640.9 233.0h0M642.7 233.7h0M643.4 234.1h0M643.5 233.3h0M630.3 229.8h0M631.1 230.7h0M630.5 232.9h0M629.5 232.2h0M629.3 230.8h0M627.9 230.4h0M627.7 232.9h0M626.7 232.1h0M625.3 232.4h0M623.5 232.3h0M624.7 231.5h0M623.3 230.7h0M624.6 229.5h0M623.8 227.6h0M633.7 282.7h0M633.1 283.7h0M641.8 229.6h0M642.9 230.7h0M642.4 232.2h0M643.3 232.5h0M644.7 234.1h0M624.1 215.9h0M622.6 217.1h0M624.1 218.7h0M624.4 219.2h0M625.5 217.8h0M626.0 215.7h0M626.7 216.4h0M627.3 216.7h0M627.8 217.6h0M630.4 218.2h0M629.6 217.1h0M582.7 221.3h0M583.8 219.7h0M583.4 218.2h0M583.1 217.4h0M581.3 217.3h0M581.1 215.9h0M581.5 215.6h0M581.2 214.3h0M581.8 214.8h0M591.2 239.5h0M592.6 238.3h0M593.3 238.0h0M591.5 237.2h0M590.2 236.4h0M590.2 235.8h0M589.6 234.1h0M591.1 234.3h0M591.3 233.6h0M592.8 233.4h0M592.6 233.3h0M593.0 230.5h0M594.3 230.9h0M593.7 229.4h0M619.3 248.9h0M618.8 249.3h0M617.9 249.0h0M617.2 248.4h0M615.7 247.9h0M616.9 249.2h0M615.4 251.1h0M614.1 250.7h0M614.4 251.8h0M613.4 253.6h0M615.2 253.5h0M614.5 254.9h0M616.2 255.8h0M577.9 281.7h0M578.5 282.2h0M578.6 280.5h0M578.6 280.3h0M578.6 280.2h0M579.4 279.2h0M580.6 280.1h0M581.4 280.3h0M582.1 278.9h0M582.5 278.8h0M584.0 278.5h0M584.2 276.8h0M584.5 276.0h0M586.2 275.9h0M586.7 276.3h0M631.9 282.3h0M632.9 281.0h0M630.9 280.2h0M632.1 279.4h0M632.9 278.7h0M631.7 277.2h0M632.2 277.1h0M631.3 277.8h0M631.1 278.4h0M630.2 279.8h0M629.7 281.3h0M630.0 281.5h0M631.0 283.4h0M631.2 282.8h0M632.8 283.4h0M633.9 282.6h0M632.8 281.7h0M631.4 282.4h0M630.0 282.5h0M629.3 283.5h0M629.7 284.6h0M629.0 285.0h0M617.0 251.8h0M617.2 252.5h0M617.9 251.7h0M619.1 251.9h0M620.5 252.0h0M621.4 251.7h0M622.0 252.0h0M622.3 253.6h0M622.5 254.3h0M623.1 254.5h0M624.3 255.7h0M624.6 256.3h0M625.1 257.2h0M625.1 258.3h0M626.7 258.5h0M627.7 257.9h0M628.8 258.1h0M630.1 257.9h0M630.0 256.3h0M630.1 256.4h0M630.8 255.8h0M631.5 254.6h0M631.7 253.9h0M612.7 266.8h0M613.5 266.5h0M613.7 265.9h0M613.3 264.8h0M612.8 263.8h0M613.1 262.8h0M615.1 261.6h0M614.0 261.4h0M613.7 260.0h0M611.6 259.2h0M612.3 259.4h0M611.7 259.0h0M639.4 240.7h0M640.7 240.9h0M641.8 242.6h0M643.6 241.2h0M642.8 240.9h0M644.5 239.5h0M644.7 240.6h0M645.7 240.1h0M646.9 239.7h0M647.2 241.6h0M648.8 242.0h0M649.4 241.7h0M648.0 243.6h0M648.5 245.1h0M648.3 246.2h0M647.5 247.1h0M646.4 247.1h0M646.9 248.0h0M645.1 247.4h0M643.1 246.4h0M643.1 246.2h0M644.4 245.0h0M642.7 244.6h0M626.8 249.9h0M626.9 249.5h0M626.7 247.7h0M626.2 246.5h0M627.2 245.6h0M627.6 244.8h0M627.6 244.4h0M629.6 245.4h0M630.0 246.1h0M630.1 247.5h0M630.7 246.3h0M631.7 244.6h0M631.2 244.2h0M633.0 243.4h0M633.0 242.6h0M633.4 241.4h0M635.1 242.1h0M634.5 240.6h0M634.7 238.9h0M634.1 239.9h0M633.0 240.3h0M631.9 240.8h0M631.5 240.7h0M603.9 245.7h0M603.4 245.0h0M603.5 246.8h0M600.6 247.2h0M601.1 247.0h0M600.7 246.4h0M600.0 247.7h0M599.1 248.6h0M598.6 249.1h0M598.2 250.0h0M597.5 250.4h0M595.1 251.7h0M595.6 252.3h0M595.8 252.1h0M596.0 254.5h0M595.5 255.7h0M596.7 255.6h0M597.7 254.6h0M599.2 254.6h0M601.6 217.2h0M601.8 218.7h0M602.8 218.9h0M602.3 219.6h0M604.5 220.6h0M603.4 219.4h0M603.8 217.8h0M603.1 217.7h0M602.1 214.9h0M601.5 215.6h0M601.4 215.6h0M567.5 269.0h0M567.3 270.2h0M566.3 270.5h0M565.8 270.3h0M564.6 270.1h0M564.1 271.0h0M562.3 269.9h0M561.8 269.4h0M559.8 268.2h0M619.7 225.0h0M621.2 224.9h0M621.7 225.9h0M622.1 225.6h0M624.0 224.7h0M622.9 227.1h0M622.4 226.2h0M621.9 227.8h0M620.6 228.7h0M619.9 227.9h0M619.3 228.6h0M617.7 228.6h0M624.7 232.2h0M622.2 232.0h0M622.5 231.1h0M621.6 229.9h0M620.8 228.3h0M618.9 227.7h0M619.4 228.2h0M619.0 227.9h0M617.8 226.7h0M617.0 225.1h0M633.4 247.2h0M633.6 248.3h0M634.4 249.1h0M634.6 250.2h0M635.5 251.6h0M635.6 252.8h0M637.8 251.8h0M637.4 251.6h0M635.8 252.0h0M636.3 252.7h0M636.5 253.9h0M637.9 254.1h0M638.6 254.1h0M640.0 254.5h0M640.0 256.3h0M585.4 262.2h0M586.1 262.1h0M587.0 261.1h0M585.9 260.2h0M587.7 260.6h0M589.1 259.9h0M588.3 258.1h0M590.2 257.4h0M591.3 257.7h0M592.5 258.0h0M592.5 258.9h0M593.1 259.7h0M591.1 258.3h0M591.6 257.7h0M591.1 256.6h0M591.9 256.1h0M592.6 254.6h0M592.9 253.8h0M592.7 252.9h0M593.2 252.4h0M594.8 252.2h0M635.3 263.4h0M635.9 263.7h0M637.0 264.0h0M637.6 263.8h0M639.6 264.3h0M639.7 264.9h0M639.9 265.8h0M639.9 267.3h0M640.0 268.1h0M639.7 269.5h0M640.8 269.8h0M640.2 271.6h0M639.9 270.4h0M638.8 269.5h0M640.8 269.1h0M640.8 268.0h0M640.9 267.9h0M642.7 268.3h0M642.9 269.3h0M642.0 269.7h0M642.0 270.3h0M572.7 254.4h0M573.2 253.9h0M572.8 253.6h0M575.0 251.8h0M573.1 252.5h0M572.1 252.4h0M571.4 251.8h0M571.7 251.3h0M568.8 250.2h0M570.3 250.1h0M571.2 249.1h0M572.2 250.4h0M573.9 249.2h0M574.8 250.3h0M575.6 249.6h0M575.6 248.3h0M576.8 248.3h0M577.3 248.9h0M599.1 210.2h0M598.8 209.1h0M607.4 284.2h0M607.6 283.8h0M606.5 281.7h0M604.7 281.7h0M605.8 280.3h0M605.4 278.9h0M605.0 277.7h0M605.6 277.0h0M605.3 275.9h0M605.5 275.5h0M604.4 274.4h0M605.2 273.1h0M604.0 273.1h0M604.7 272.2h0M602.8 268.3h0M605.0 268.0h0M605.2 266.3h0M604.5 265.5h0M603.9 265.9h0M602.3 265.2h0M602.2 266.3h0M603.1 265.7h0M604.5 267.0h0M605.6 268.4h0M606.3 268.8h0M607.5 269.8h0M608.0 270.8h0M608.0 271.2h0M609.4 270.9h0M608.9 270.4h0M610.5 270.5h0M600.1 229.0h0M601.1 228.8h0M599.5 229.8h0M599.8 229.1h0M598.4 228.9h0M598.9 227.4h0M599.6 226.7h0M599.6 225.6h0M600.6 224.7h0M601.1 223.3h0M601.7 223.4h0M602.4 221.5h0M602.9 221.0h0M601.5 221.2h0M601.7 220.0h0M600.4 219.9h0M598.7 219.9h0M599.1 218.5h0M598.4 265.5h0M598.3 264.2h0M599.0 263.1h0M600.3 264.4h0M600.0 262.4h0M600.3 261.6h0M602.3 259.4h0M600.3 259.3h0M600.9 259.0h0M600.4 257.9h0M600.3 256.5h0M601.0 257.5h0M601.9 258.1h0M603.6 257.4h0M603.1 258.5h0M604.9 258.2h0M603.9 259.2h0M603.0 258.2h0M583.7 228.7h0M583.9 229.5h0M584.9 229.6h0M585.7 230.3h0M586.2 228.6h0M588.7 229.2h0M586.7 228.3h0M588.3 228.1h0M588.3 227.4h0M590.1 227.3h0M590.8 227.4h0M591.2 228.8h0M590.2 229.5h0M589.9 230.0h0M589.3 230.9h0M588.7 231.9h0M587.3 232.3h0M586.4 232.3h0M586.4 231.7h0M648.6 250.3h0M649.4 250.5h0M650.4 250.0h0M650.0 252.6h0M650.7 252.4h0M650.4 254.1h0M651.6 254.5h0M651.8 255.5h0M653.5 255.7h0M599.6 277.1h0M599.8 279.0h0M598.9 278.6h0M597.9 278.8h0M597.2 278.3h0M597.5 278.2h0M598.3 278.6h0M597.7 276.2h0M597.9 276.4h0M596.2 276.1h0M594.7 277.0h0M597.4 277.2h0M597.1 277.7h0M599.0 276.2h0M599.1 276.1h0M599.8 276.7h0M601.5 275.0h0M601.9 274.9h0M603.4 275.6h0M603.6 276.4h0M604.6 277.9h0M604.5 278.3h0M621.9 240.2h0M622.2 241.2h0M620.7 242.1h0M620.5 242.5h0M621.2 241.3h0M620.4 241.0h0M620.2 239.5h0M620.4 238.7h0M620.3 237.7h0M619.3 236.4h0M618.5 236.4h0M617.5 237.6h0M616.9 237.0h0M615.2 236.5h0M635.1 254.5h0M635.1 254.2h0M635.9 253.4h0M634.5 251.5h0M636.0 251.0h0M637.0 250.4h0M637.1 250.3h0M638.3 250.8h0M639.2 248.8h0M639.0 248.3h0M638.9 249.6h0M638.4 250.9h0M639.4 251.2h0M638.9 253.1h0M641.2 251.9h0M641.9 251.3h0M640.7 250.7h0M642.2 249.4h0M643.0 250.1h0M644.6 249.4h0M644.6 251.0h0M620.4 281.8h0M621.1 279.4h0M621.4 279.8h0M622.1 277.9h0M621.4 278.0h0M621.2 276.2h0M620.7 275.7h0M619.5 275.6h0M617.7 274.8h0M617.7 274.4h0M616.1 274.3h0M625.9 265.0h0M627.3 262.6h0M627.8 264.1h0M628.2 263.9h0M628.1 265.4h0M628.6 266.6h0M627.2 266.3h0M627.6 267.0h0M627.2 268.3h0M626.9 270.4h0M627.5 268.5h0M627.9 267.7h0M628.6 267.4h0M628.8 267.8h0M629.2 268.5h0M628.5 270.2h0M629.8 270.3h0M630.4 271.6h0M628.9 270.8h0M627.5 270.8h0M626.4 270.1h0M582.6 228.6h0M583.8 229.8h0M583.7 230.7h0M582.5 232.3h0M582.4 233.6h0M580.8 232.4h0M580.1 231.8h0M578.9 231.8h0M577.4 231.0h0M577.2 231.1h0M575.4 230.3h0M577.3 230.4h0M578.4 230.8h0M578.6 229.8h0M578.7 227.9h0M606.7 253.6h0M606.4 254.2h0M605.4 254.8h0M604.7 254.8h0M604.0 255.7h0M605.7 255.7h0M605.9 255.4h0M606.6 253.6h0M605.4 253.0h0M605.2 253.3h0M604.4 252.8h0M579.1 225.6h0M579.9 226.9h0M579.7 227.2h0M580.9 228.2h0M580.9 229.6h0M580.5 230.3h0M579.3 231.2h0M577.7 232.1h0M577.9 231.6h0M575.9 232.9h0M575.5 232.5h0M575.6 231.1h0M575.5 230.3h0M574.6 231.7h0M573.3 230.8h0M574.0 229.2h0M575.3 229.6h0M575.6 228.1h0M612.1 229.8h0M611.0 232.0h0M609.6 230.8h0M609.0 232.1h0M607.7 232.1h0M606.8 232.3h0M605.6 232.7h0M604.8 231.9h0M604.4 232.9h0M603.2 232.5h0M638.1 229.1h0M638.7 227.6h0M639.3 227.2h0M617.1 263.8h0M618.0 261.8h0M617.6 261.4h0M619.2 261.6h0M620.4 262.6h0M620.2 263.8h0M621.7 264.2h0M620.7 265.5h0M620.4 266.1h0M620.4 266.5h0M621.7 268.2h0M597.1 226.8h0M595.9 227.9h0M597.2 228.3h0M597.7 228.1h0M599.3 228.5h0M600.4 228.2h0M601.1 227.9h0M600.1 227.3h0M600.4 228.7h0M598.9 229.7h0M598.2 229.2h0M596.7 228.7h0M595.8 228.7h0M595.6 228.2h0M594.2 227.3h0M594.5 226.9h0M593.1 226.2h0M592.0 242.4h0M593.1 242.2h0M592.9 241.0h0M593.0 238.4h0M595.5 238.5h0M595.6 237.2h0M595.6 237.8h0M596.8 237.3h0M598.6 237.2h0M598.8 237.0h0M600.3 238.0h0M600.5 240.7h0M599.9 240.6h0M599.0 241.4h0M597.5 241.0h0M597.3 241.1h0M596.8 241.8h0M616.5 229.4h0M615.3 228.2h0M615.1 227.4h0M613.6 227.2h0M613.4 227.1h0M612.0 227.6h0M611.3 227.7h0M610.5 228.1h0M611.2 229.5h0M611.0 231.0h0M609.6 231.8h0M609.3 232.2h0M608.8 233.8h0M596.8 272.4h0M595.3 272.3h0M594.2 272.5h0M593.3 272.2h0M594.7 271.4h0M595.2 271.9h0M594.8 270.3h0M596.3 270.3h0M589.7 245.6h0M587.4 245.5h0M587.6 245.8h0M586.2 245.9h0M585.4 244.3h0M584.8 245.6h0M584.2 246.9h0M585.3 248.1h0M584.0 248.3h0M583.3 248.2h0M582.3 247.4h0M581.6 249.1h0M580.3 247.5h0M621.5 235.2h0M622.6 235.2h0M622.9 235.7h0M625.4 236.9h0M625.6 237.0h0M624.9 238.2h0M626.5 239.8h0M626.7 240.3h0M627.3 240.4h0M626.8 240.6h0M628.9 240.8h0M629.3 241.6h0M629.8 241.0h0M629.0 243.0h0M630.5 243.0h0M629.6 244.4h0M630.6 245.5h0M631.5 246.6h0M603.2 220.0h0M604.6 219.2h0M605.5 220.8h0M606.5 221.5h0M607.6 220.6h0M608.4 218.5h0M609.4 219.3h0M608.6 217.1h0M608.4 216.5h0M607.4 217.1h0M606.7 217.3h0M605.8 216.1h0M606.4 214.7h0M607.1 213.7h0M608.0 214.5h0M610.3 214.6h0M610.4 215.4h0M611.6 216.9h0M610.4 216.8h0M618.8 232.2h0M618.5 231.0h0M618.2 231.1h0M618.9 230.0h0M617.3 228.3h0M616.2 230.2h0M615.5 229.9h0M615.1 230.1h0M613.7 231.4h0M612.9 231.1h0M611.3 230.6h0M610.3 229.6h0M610.0 230.3h0M610.3 227.8h0M610.0 227.4h0M611.8 226.6h0M611.5 225.0h0M610.9 225.9h0M610.2 225.9h0M610.1 227.2h0M610.0 227.9h0M607.0 244.4h0M606.3 244.3h0M605.3 246.5h0M604.4 246.2h0M604.1 246.3h0M602.9 247.1h0M601.6 248.2h0M604.6 248.2h0M604.5 249.6h0M604.2 250.2h0M604.7 250.0h0M604.1 251.7h0M602.1 251.2h0M602.1 250.8h0M601.5 250.8h0M601.2 249.9h0M601.1 247.7h0M600.5 247.6h0M605.4 288.0h0M607.0 288.5h0M607.3 288.3h0M608.3 287.1h0M608.1 285.5h0M607.8 284.4h0M607.4 282.6h0M607.6 283.1h0M616.3 276.4h0M617.5 274.4h0M617.0 273.8h0M617.7 273.0h0M617.0 271.8h0M617.4 271.1h0M618.0 269.0h0M616.9 269.5h0M616.7 267.8h0M615.9 267.7h0M616.0 267.1h0M615.2 265.6h0M613.6 265.9h0M613.3 265.0h0M613.1 264.3h0M612.4 263.3h0M612.9 261.2h0M612.8 261.3h0M614.2 260.1h0M615.3 260.9h0M615.7 259.7h0M617.1 258.3h0M607.0 227.1h0M607.8 226.3h0M607.8 225.6h0M607.4 224.1h0M607.7 223.4h0M607.9 222.8h0M607.5 222.4h0M605.3 220.4h0M605.4 220.6h0M604.4 220.0h0M603.9 219.7h0M602.5 219.5h0M602.0 219.0h0M601.3 218.8h0M600.7 220.6h0M600.3 221.0h0M599.9 221.4h0M599.6 222.8h0M599.1 225.2h0M638.4 232.0h0M638.6 233.2h0M637.3 233.6h0M637.0 233.3h0M635.1 233.8h0M634.4 233.5h0M633.6 232.6h0M633.4 233.7h0M632.7 234.6h0M633.3 236.0h0M633.5 236.6h0M632.8 236.9h0M630.7 236.6h0M629.4 237.3h0M629.3 237.1h0M628.6 237.2h0M629.3 234.6h0M629.1 233.6h0M617.2 241.0h0M617.9 240.2h0M618.7 239.6h0M619.1 239.3h0M619.6 240.7h0M620.6 240.7h0M621.5 241.7h0M622.6 242.2h0M623.7 243.0h0M646.7 258.9h0M647.6 259.7h0M645.9 260.6h0M645.8 262.9h0M645.3 262.8h0M644.8 263.5h0M644.9 264.2h0M641.7 265.1h0M642.3 264.5h0M641.8 264.6h0M640.4 266.5h0M640.9 266.8h0M640.1 266.9h0M640.0 268.4h0M611.8 217.9h0M613.5 219.1h0M614.1 218.6h0M615.3 218.7h0M615.9 219.4h0M616.6 219.9h0M618.0 217.6h0M618.8 217.2h0M620.6 218.1h0M621.3 217.8h0M622.6 216.2h0M622.1 215.1h0M622.5 214.2h0M622.6 212.7h0M621.4 275.2h0M620.4 275.4h0M620.4 276.1h0M620.9 276.7h0M620.6 278.6h0M621.1 279.4h0M619.6 280.5h0M620.3 281.2h0M621.0 282.7h0M620.7 283.9h0M621.9 284.1h0M622.9 285.1h0M622.4 286.0h0M623.0 286.7h0M623.5 285.5h0M624.8 286.2h0M625.4 285.0h0M624.4 283.9h0M624.0 283.1h0M649.5 251.1h0M648.9 249.6h0M649.1 249.2h0M646.9 249.5h0M646.1 249.2h0M645.1 248.4h0M644.9 248.5h0M642.7 248.3h0M642.5 248.6h0M641.3 249.1h0M640.4 250.2h0M639.4 249.4h0M640.1 247.9h0M641.7 264.2h0M642.6 263.7h0M642.1 262.7h0M640.4 264.0h0M639.8 263.8h0M639.5 265.8h0M639.7 265.9h0M637.6 265.9h0M637.2 265.7h0M635.1 265.9h0M634.3 266.6h0M633.9 266.7h0M633.6 264.0h0M597.4 269.8h0M597.8 268.9h0M597.0 268.5h0M594.8 266.9h0M595.0 267.4h0M594.2 266.3h0M593.4 265.1h0M593.4 264.2h0M591.2 264.5h0M589.8 264.4h0M589.4 263.8h0M589.9 263.3h0M589.0 263.1h0M588.8 261.7h0M588.4 260.1h0M589.0 259.1h0M589.0 258.6h0M590.9 257.9h0M592.0 257.8h0M592.4 257.5h0M593.1 257.2h0M594.2 257.6h0M594.5 257.0h0M633.7 232.6h0M633.8 233.6h0M634.2 233.6h0M635.8 233.2h0M637.3 232.7h0M636.7 232.1h0M637.2 229.9h0M637.5 228.7h0M636.6 228.4h0M636.1 228.7h0M635.0 228.6h0M587.6 248.9h0M586.3 247.8h0M586.5 247.5h0M585.4 247.0h0M584.1 247.4h0M584.4 248.1h0M582.1 248.3h0M581.7 248.1h0M581.9 246.6h0M582.2 246.6h0M582.8 245.6h0M581.1 244.5h0M582.8 243.6h0M581.7 243.4h0M580.0 241.3h0M579.8 242.5h0M579.4 243.6h0M579.0 244.7h0M580.5 245.1h0M580.3 245.6h0M560.1 271.5h0M558.9 270.9h0M558.5 270.2h0M558.4 269.1h0M558.4 269.1h0M558.8 267.2h0M557.7 267.7h0M556.9 268.9h0M596.9 251.4h0M594.4 251.2h0M593.5 249.6h0M593.0 248.7h0M593.9 247.4h0M595.4 247.6h0M595.6 247.2h0M597.5 246.6h0M597.4 245.5h0M598.5 245.1h0M598.3 245.1h0M598.6 243.9h0M598.4 244.0h0M597.2 242.1h0M598.0 242.3h0M598.6 241.4h0M598.5 240.3h0M599.2 238.1h0M597.8 237.8h0M597.8 236.3h0M597.6 236.0h0M596.9 234.7h0M613.0 268.0h0M610.8 268.6h0M609.9 269.4h0M609.2 269.0h0M608.4 268.9h0M606.8 269.6h0M607.3 270.5h0M606.7 272.2h0M605.6 273.2h0M605.0 272.2h0M604.6 272.1h0M605.6 270.8h0M604.8 269.9h0M603.2 269.3h0M604.4 269.2h0M605.4 268.0h0M604.4 266.4h0M605.9 265.8h0M606.7 264.9h0M607.8 265.5h0M616.6 222.9h0M615.7 222.9h0M614.6 224.0h0M613.2 224.4h0M612.9 224.2h0M611.7 224.3h0M612.4 223.9h0M610.6 222.4h0M601.7 279.3h0M602.6 279.4h0M603.5 279.8h0M603.6 280.5h0M604.7 281.2h0M603.6 281.4h0M603.2 282.2h0M600.9 283.6h0M600.0 283.5h0M599.8 282.4h0M599.2 282.0h0M598.1 281.6h0M597.5 281.3h0M596.1 281.6h0M595.2 280.3h0M595.1 282.1h0M596.1 282.1h0M628.6 265.2h0M629.0 264.9h0M627.2 265.3h0M627.4 265.2h0M627.9 264.1h0M628.9 263.7h0M628.7 262.8h0M628.6 260.8h0M628.7 261.4h0M628.8 259.5h0M627.8 258.7h0M629.6 257.7h0M629.6 258.9h0M595.1 217.6h0M594.2 219.1h0M593.0 219.3h0M592.4 219.5h0M591.5 220.0h0M590.7 219.9h0M589.9 221.6h0M588.6 220.5h0M588.7 219.9h0M589.1 219.2h0M590.8 219.5h0M591.1 219.0h0M591.2 218.2h0M590.9 216.8h0M592.0 216.5h0M590.5 215.9h0M590.3 217.7h0M591.7 218.6h0M592.6 219.1h0M591.9 220.5h0M576.3 231.8h0M575.0 230.1h0M574.9 231.8h0M576.1 232.7h0M574.9 233.0h0M574.4 234.4h0M573.6 235.9h0M575.6 236.1h0M652.3 255.3h0M651.2 255.1h0M649.9 254.3h0M649.9 254.5h0M651.7 253.3h0M651.8 251.1h0M650.6 251.5h0M650.8 249.9h0M650.8 248.8h0M651.1 247.8h0M652.1 247.6h0M652.3 246.7h0M651.8 244.8h0M650.9 244.8h0M649.9 244.3h0M650.6 264.4h0M651.1 263.1h0M652.1 263.1h0M652.6 264.6h0M621.7 246.8h0M622.8 247.0h0M623.2 248.0h0M624.0 248.7h0M624.9 248.5h0M625.8 248.5h0M626.7 250.0h0M627.3 249.0h0M628.4 250.2h0M629.2 251.4h0M630.6 251.4h0M630.4 252.4h0M630.9 253.6h0M631.0 254.4h0M631.7 255.8h0M631.8 257.1h0M632.1 257.7h0M631.9 257.7h0M630.0 258.5h0M629.7 256.7h0M629.0 256.7h0M628.6 256.9h0M628.6 258.5h0M584.5 215.1h0M584.7 216.0h0M583.3 215.4h0M582.8 217.1h0M584.4 217.3h0M584.7 218.2h0M584.9 217.8h0M586.1 218.9h0M587.5 219.0h0M586.3 220.3h0M587.3 221.4h0M586.4 220.8h0M585.6 222.1h0M585.3 223.5h0M586.0 223.9h0M586.4 223.1h0M586.4 223.8h0M586.7 224.8h0M588.0 225.3h0M589.1 225.3h0M590.8 225.3h0M588.9 225.9h0M590.1 227.0h0M623.9 255.0h0M623.0 255.2h0M622.6 256.2h0M621.1 257.6h0M619.5 257.8h0M618.6 258.3h0M619.2 258.7h0M618.5 260.3h0M617.5 261.2h0M617.6 262.5h0M616.9 263.6h0M616.8 264.2h0M617.5 263.2h0M617.1 262.5h0M616.6 261.6h0M615.4 260.5h0M561.7 246.8h0M561.6 247.4h0M561.5 249.1h0M562.6 247.8h0M562.9 247.6h0M563.4 245.1h0M563.9 245.1h0M563.5 244.8h0M564.5 243.3h0M565.0 242.8h0M566.4 245.1h0M566.7 244.8h0M567.9 245.1h0M568.8 244.1h0M569.6 243.2h0M570.5 242.3h0M569.2 241.6h0M568.6 242.5h0M568.3 242.8h0M566.2 242.2h0M565.4 243.3h0M565.8 245.4h0M567.5 245.0h0M619.2 215.3h0M619.1 214.8h0M618.4 213.8h0M617.5 214.3h0M616.7 214.5h0M617.0 213.2h0M615.7 213.8h0M615.5 215.8h0M615.7 215.3h0M616.5 216.3h0M617.7 215.9h0M618.7 212.8h0M582.6 224.4h0M583.2 223.6h0M584.2 224.5h0M582.6 224.5h0M582.6 225.8h0M581.6 225.6h0M580.7 225.8h0M580.6 227.2h0M579.5 225.7h0M581.4 225.1h0M582.6 225.4h0M582.8 225.3h0M582.7 227.0h0M582.0 228.4h0M581.0 228.3h0M580.4 229.1h0M579.9 230.5h0M581.0 231.4h0M581.0 232.6h0M580.7 233.8h0M579.7 234.9h0M618.6 214.3h0M619.6 214.3h0M621.1 215.6h0M620.5 216.0h0M622.0 216.4h0M623.8 216.5h0M624.9 216.7h0M624.7 217.1h0M626.1 217.4h0M626.4 215.4h0M627.0 214.1h0M604.5 245.1h0M604.8 246.8h0M606.6 246.1h0M607.7 246.9h0M607.4 247.5h0M608.7 248.3h0M610.1 249.0h0M610.0 248.4h0M612.2 248.2h0M612.3 248.2h0M613.5 249.0h0M613.8 250.4h0M613.7 251.9h0M613.6 252.5h0M615.6 253.0h0M616.2 253.6h0M619.9 245.9h0M619.9 246.5h0M618.3 247.1h0M617.4 247.0h0M616.2 245.8h0M615.2 245.4h0M614.6 245.9h0M615.1 244.3h0M614.7 244.2h0M616.1 243.5h0M617.1 244.0h0M616.3 244.7h0M615.3 244.5h0M614.9 243.7h0M614.1 243.5h0M612.2 244.5h0M626.7 283.3h0M628.9 284.9h0M628.8 284.9h0M627.8 285.3h0M629.0 286.1h0M596.3 270.1h0M596.5 269.8h0M597.9 270.9h0M598.9 270.0h0M599.1 270.1h0M600.8 270.0h0M602.2 269.8h0M602.6 269.4h0M602.3 267.8h0M601.7 268.3h0M600.6 267.9h0M599.6 268.0h0M598.5 268.2h0M627.2 248.6h0M626.9 245.6h0M626.5 246.9h0M625.6 246.5h0M623.6 246.4h0M623.7 245.1h0M625.2 244.4h0M626.6 243.8h0M627.0 243.2h0M570.9 256.4h0M572.5 257.4h0M572.9 256.5h0M573.4 258.1h0M573.6 258.8h0M571.8 259.3h0M571.4 259.4h0M569.4 258.5h0M568.9 258.1h0M568.6 256.7h0M567.4 262.9h0M568.2 263.3h0M567.7 262.3h0M567.1 262.3h0M566.5 262.1h0M565.1 262.3h0M564.3 261.6h0M563.3 261.6h0M563.1 261.0h0M562.7 259.8h0M561.5 259.4h0M561.4 258.1h0M562.2 257.0h0M562.2 256.2h0M626.5 220.0h0M626.0 222.0h0M625.6 223.0h0M625.9 222.9h0M624.3 224.5h0M624.6 225.0h0M623.6 226.4h0M625.5 227.3h0M607.5 278.6h0M606.6 278.4h0M608.2 280.7h0M607.8 281.7h0M607.2 282.5h0M605.4 282.9h0M604.6 283.4h0M604.0 283.0h0M603.9 282.3h0M604.1 281.2h0M605.7 280.7h0M629.2 259.6h0M628.2 262.4h0M629.3 263.2h0M630.0 263.3h0M631.5 264.0h0M630.1 264.9h0M631.2 265.7h0M632.1 265.8h0M633.7 266.7h0M634.0 265.4h0M634.9 265.4h0M636.7 267.3h0M637.3 267.2h0M638.6 267.2h0M638.9 267.7h0M638.3 268.5h0M638.9 270.7h0M577.3 280.0h0M577.0 281.3h0M576.8 281.0h0M578.7 281.7h0M578.4 282.4h0M577.9 284.1h0M561.5 247.6h0M562.0 248.5h0M563.4 247.3h0M563.6 246.2h0M564.1 244.3h0M565.7 245.6h0M564.7 247.1h0M563.1 247.3h0M562.5 247.6h0M562.1 247.9h0M615.1 250.6h0M614.2 250.0h0M613.1 251.7h0M612.6 253.5h0M613.3 253.3h0M613.2 255.2h0M612.5 256.1h0M611.8 256.7h0M612.9 258.4h0M611.5 258.3h0M612.3 260.0h0M611.6 260.7h0M612.4 261.6h0M611.0 262.1h0M612.2 263.2h0M612.4 264.8h0M612.3 265.8h0M611.3 266.0h0M610.0 266.3h0M608.7 267.4h0M608.3 266.1h0M621.1 250.1h0M621.4 248.7h0M623.5 250.3h0M623.8 250.4h0M623.0 251.2h0M620.5 252.4h0M621.3 252.5h0M619.4 251.4h0M619.9 251.6h0M618.6 250.4h0M620.9 255.3h0M620.3 256.4h0M620.4 257.7h0M618.6 258.5h0M618.2 258.6h0M619.0 260.4h0M618.4 260.9h0M619.0 262.2h0M618.1 262.2h0M617.8 264.4h0M617.5 263.0h0M616.8 262.2h0M616.7 260.4h0M616.6 259.2h0M618.1 259.3h0M647.4 262.2h0M648.7 260.9h0M648.9 262.5h0M649.4 263.3h0M650.0 265.3h0M650.7 265.6h0M650.8 265.6h0M651.8 264.7h0M651.2 263.6h0M649.7 262.6h0M648.7 262.2h0M649.3 261.5h0M648.3 261.0h0M647.5 261.1h0M646.2 262.5h0M645.0 261.9h0M645.9 263.8h0M647.0 264.3h0M647.4 263.9h0M648.8 262.6h0M649.8 263.4h0M649.4 264.9h0M571.0 237.8h0M570.0 237.5h0M569.3 236.9h0M570.1 234.6h0M570.9 235.5h0M570.5 233.9h0M572.4 233.2h0M573.3 233.1h0M573.6 231.4h0M574.4 231.6h0M575.2 231.1h0M574.0 229.6h0M573.3 230.3h0M573.1 230.0h0M572.1 228.0h0M570.5 228.1h0M638.6 270.1h0M637.9 270.7h0M638.5 271.3h0M638.8 272.4h0M639.3 272.5h0M640.7 272.9h0M642.6 272.9h0M642.6 272.9h0M643.3 272.0h0M643.4 270.4h0M644.6 269.8h0M644.9 267.9h0M644.9 267.5h0M645.8 267.2h0M646.9 266.3h0M646.9 267.3h0M648.0 265.1h0M647.7 264.4h0M646.5 263.6h0M647.2 261.9h0M645.9 261.6h0M646.4 259.5h0M648.9 260.6h0M558.9 251.0h0M558.6 250.7h0M557.1 251.2h0M635.5 281.5h0M637.0 282.0h0M635.8 280.3h0M637.1 280.0h0M635.6 278.7h0M637.0 278.4h0M638.1 279.5h0M639.2 280.7h0M636.9 225.1h0M637.9 225.9h0M634.5 277.7h0M635.5 277.1h0M635.5 274.5h0M634.3 275.3h0M634.2 273.7h0M633.3 272.8h0M632.5 271.3h0M631.8 271.3h0M630.4 270.5h0M630.1 271.6h0M629.0 273.1h0M629.5 274.0h0M630.0 275.0h0M628.7 275.7h0M630.1 276.0h0M631.0 274.3h0M630.9 274.3h0M631.1 272.6h0M632.1 273.1h0M631.9 271.5h0M632.7 270.3h0M633.2 270.5h0M582.5 268.9h0M581.7 267.4h0M582.8 267.8h0M584.0 266.8h0M584.6 266.8h0M585.9 265.9h0M586.5 265.6h0M588.2 266.3h0M588.8 265.7h0M588.7 266.8h0M588.1 266.7h0M610.1 276.0h0M609.4 275.8h0M608.4 275.3h0M607.8 273.9h0M607.2 273.3h0M607.7 273.1h0M606.0 272.4h0M604.8 271.5h0M605.4 270.7h0M605.9 268.9h0M606.5 268.7h0M607.1 267.9h0M608.8 268.6h0M608.9 268.6h0M610.0 269.1h0M610.7 270.7h0M610.5 271.4h0M610.4 272.7h0M611.1 273.8h0M611.6 274.6h0M610.8 275.7h0M609.4 276.3h0M609.6 274.9h0M629.7 268.3h0M629.0 268.1h0M627.1 267.5h0M628.6 266.7h0M626.1 267.4h0M624.4 266.5h0M624.7 268.0h0M623.3 267.3h0M622.7 269.2h0M622.4 269.8h0M621.6 269.9h0M620.4 268.9h0M618.8 269.3h0M619.0 270.3h0M617.9 269.9h0M616.4 270.0h0M615.5 271.4h0M604.8 272.9h0M604.0 273.9h0M604.1 274.3h0M604.1 274.6h0M602.4 273.7h0M600.9 273.8h0M600.9 272.8h0M598.6 273.0h0M599.8 274.4h0M600.1 275.4h0M600.5 275.7h0M601.7 276.2h0M602.8 278.2h0M601.4 278.2h0M600.4 278.9h0M599.9 280.1h0M598.3 279.7h0M597.8 278.6h0M597.8 278.0h0M599.6 277.3h0M599.3 275.3h0M598.3 276.3h0M597.5 274.3h0M636.1 237.7h0M635.0 238.7h0M634.9 239.4h0M635.3 240.8h0M635.7 242.5h0M635.4 243.3h0M635.0 243.1h0M634.9 245.1h0M634.0 244.8h0M634.7 246.6h0M636.3 247.6h0M636.6 248.3h0M638.6 247.8h0M638.0 248.5h0M639.9 248.9h0M640.2 250.0h0M641.3 249.7h0M642.8 250.6h0M641.5 251.0h0M620.5 230.1h0M621.4 229.2h0M622.5 231.4h0M622.8 231.1h0M624.0 231.9h0M624.9 231.3h0M624.6 230.5h0M625.2 229.2h0M625.0 227.8h0M623.8 227.0h0M623.4 227.7h0M622.7 227.5h0M620.9 227.6h0M620.2 226.4h0M621.9 227.3h0M622.9 227.7h0M621.6 228.2h0M620.6 229.4h0M621.5 229.5h0M620.0 231.3h0M619.6 231.6h0M619.4 232.4h0M618.2 232.9h0M614.2 213.0h0M614.5 212.4h0M616.5 212.2h0M617.0 212.2h0M596.3 260.3h0M596.8 259.4h0M596.1 258.1h0M594.6 257.2h0M594.5 257.1h0M593.3 257.9h0M593.5 258.8h0M593.1 259.3h0M598.4 209.6h0M598.0 210.1h0M597.1 210.0h0M597.0 210.5h0M596.8 212.0h0M596.0 212.2h0M594.2 211.3h0M593.2 211.6h0M591.8 211.0h0M652.7 254.0h0M651.9 252.6h0M650.7 252.1h0M650.0 252.1h0M649.4 251.8h0M649.8 250.1h0M650.7 250.3h0M650.7 248.4h0M651.6 249.1h0M651.2 248.2h0M650.2 248.0h0M648.7 247.1h0M650.0 247.1h0M650.5 245.7h0M650.4 243.6h0M650.8 243.6h0M651.2 242.3h0M651.7 241.8h0M593.4 225.3h0M593.3 227.5h0M595.2 227.4h0M594.9 228.4h0M596.1 229.0h0M596.5 228.9h0M597.0 230.8h0M595.8 232.5h0M594.7 231.7h0M593.9 231.6h0M594.2 231.2h0M594.5 231.6h0M596.3 231.2h0M596.4 230.9h0M598.0 230.6h0M598.5 230.4h0M592.5 266.6h0M593.0 265.7h0M592.0 264.0h0M593.6 263.2h0M594.0 262.9h0M595.3 262.1h0M597.1 263.0h0M597.0 262.4h0M597.3 260.5h0M597.3 259.6h0M598.1 259.0h0M598.1 258.2h0M597.5 257.3h0M596.2 257.6h0M595.5 257.1h0M594.7 256.5h0M594.9 255.6h0M596.2 254.1h0M596.3 255.1h0M611.8 279.5h0M611.2 279.0h0M612.5 278.3h0M612.5 277.8h0M614.8 277.5h0M614.9 276.8h0M615.9 276.4h0M615.5 274.9h0M613.6 274.5h0M612.9 273.8h0M604.5 245.0h0M603.3 244.1h0M602.1 243.2h0M601.7 244.4h0M601.1 244.6h0M600.0 245.0h0M600.6 246.8h0M601.1 247.7h0M605.0 252.6h0M604.3 252.7h0M602.3 253.3h0M602.3 252.2h0M600.4 252.8h0M599.5 253.3h0M598.6 253.0h0M598.2 252.7h0M597.4 254.2h0M596.4 255.0h0M594.9 254.9h0M595.9 253.6h0M596.2 253.3h0M596.7 251.7h0M596.0 251.9h0M595.7 249.2h0M596.8 248.4h0M597.6 247.6h0M596.9 246.8h0M597.8 245.4h0M592.3 237.0h0M592.1 237.4h0M590.5 236.6h0M589.1 237.9h0M589.8 238.8h0M590.9 238.4h0M592.3 238.1h0M593.0 237.7h0M593.6 237.9h0M592.0 214.2h0M592.4 213.4h0M591.5 211.3h0M593.3 211.4h0M593.2 211.8h0M593.3 213.7h0M593.8 214.6h0M594.1 215.6h0M594.2 216.4h0M594.1 216.5h0M594.4 218.7h0M594.2 219.7h0M617.5 216.6h0M619.1 215.5h0M620.0 217.1h0M620.3 216.7h0M622.4 215.9h0M622.5 215.3h0M623.6 215.5h0M624.4 215.6h0M625.5 215.0h0M609.5 263.4h0M609.8 265.6h0M608.2 265.3h0M608.2 266.6h0M607.2 267.4h0M608.8 267.6h0M608.1 269.0h0M609.7 268.4h0M611.1 267.8h0M611.2 267.3h0M612.6 267.4h0M614.0 268.1h0M613.7 269.6h0M612.4 269.7h0M612.2 271.0h0M612.9 272.5h0M612.4 272.8h0M614.3 273.6h0M615.0 273.1h0M616.2 273.9h0M616.8 274.1h0M598.7 274.7h0M598.5 274.7h0M598.8 276.5h0M597.3 277.6h0M598.6 277.5h0M600.0 279.0h0M599.2 280.0h0M598.7 281.5h0M598.8 280.8h0M596.9 282.6h0M596.9 284.5h0M597.2 284.4h0M598.6 283.9h0M599.4 283.3h0M612.3 217.6h0M613.6 218.5h0M612.6 219.7h0M613.1 220.4h0M613.2 221.5h0M613.6 223.4h0M614.3 223.4h0M615.7 222.8h0M616.4 223.5h0M617.8 224.3h0M617.8 224.3h0M620.0 224.4h0M618.7 226.0h0M620.1 227.8h0M619.7 228.6h0M620.4 229.2h0M621.2 230.4h0M622.2 229.7h0M583.2 244.8h0M582.8 243.8h0M582.8 243.1h0M583.0 241.1h0M584.3 242.5h0M585.1 242.5h0M585.6 243.4h0M585.0 244.0h0M584.6 244.6h0M583.3 246.3h0M582.4 247.6h0M582.7 247.4h0M582.0 248.8h0M581.7 250.5h0M582.4 250.3h0M583.4 251.1h0M584.6 249.7h0M585.4 250.8h0M586.4 251.4h0M587.7 251.8h0M586.6 252.8h0M617.2 255.1h0M616.9 253.9h0M617.6 252.2h0M617.2 251.7h0M616.5 250.8h0M614.4 251.3h0M613.8 250.4h0M612.6 249.7h0M611.7 249.3h0M610.9 249.9h0M610.3 249.8h0M609.7 248.4h0M609.0 246.8h0M607.8 247.4h0M574.1 257.7h0M576.5 257.5h0M576.8 257.2h0M576.8 255.8h0M578.2 256.5h0M578.7 257.3h0M578.3 257.2h0M578.6 258.5h0M576.9 257.5h0M576.4 258.8h0M576.1 260.0h0M576.0 261.7h0M574.8 262.5h0M607.4 268.4h0M605.7 267.9h0M605.3 268.2h0M603.5 267.4h0M602.8 267.6h0M601.8 268.4h0M600.3 267.5h0M600.5 266.9h0M599.5 266.4h0M599.5 265.7h0M600.4 264.6h0M598.6 264.1h0M598.6 262.2h0M597.3 262.8h0M597.8 260.6h0M597.5 259.8h0M598.0 258.6h0M598.5 257.3h0M597.4 256.9h0M596.1 255.5h0M596.7 254.9h0M594.6 255.3h0M594.1 255.5h0M619.3 282.3h0M619.4 281.3h0M619.1 281.0h0M617.3 280.6h0M616.0 279.9h0M615.9 280.1h0M614.7 279.7h0M615.4 278.4h0M617.0 278.8h0M616.7 279.3h0M616.1 280.5h0M615.7 281.5h0M615.4 283.1h0M615.2 283.9h0M616.6 284.9h0M615.6 285.4h0M616.0 286.9h0M615.4 287.4h0M616.4 289.3h0M593.1 268.9h0M594.1 269.1h0M594.1 270.1h0M594.3 270.1h0M594.0 268.6h0M594.6 267.8h0M596.0 267.5h0M596.2 266.0h0M596.6 264.5h0M602.8 213.2h0M603.6 214.0h0M605.5 212.4h0M603.8 212.1h0M602.4 211.5h0M602.6 211.1h0M603.6 210.7h0M604.0 210.8h0M602.2 212.0h0M601.7 212.3h0M600.3 211.6h0M598.9 210.8h0M598.7 209.8h0M598.1 208.6h0M609.4 287.7h0M608.0 288.5h0M607.8 289.3h0M607.2 289.6h0M608.0 289.3h0M608.8 290.5h0M608.7 291.9h0M608.2 291.5h0M565.8 272.0h0M566.9 273.8h0M568.3 272.0h0M569.0 272.4h0M570.2 272.2h0M569.0 272.1h0M568.8 271.1h0M568.4 271.0h0M566.7 272.0h0M566.7 273.1h0M567.9 274.2h0M569.5 274.7h0M569.7 276.2h0M569.3 274.9h0M568.0 274.9h0M567.4 273.6h0M567.8 273.0h0M567.2 271.7h0M573.3 234.8h0M573.4 236.8h0M574.0 237.4h0M573.4 237.7h0M573.4 238.7h0M572.4 240.6h0M571.9 240.0h0M571.1 239.7h0M570.3 239.1h0M569.0 238.9h0M568.5 237.2h0M568.6 236.6h0M569.0 235.9h0M570.4 235.6h0M572.1 236.7h0M572.3 238.2h0M571.2 238.7h0M586.3 214.5h0M585.8 214.7h0M587.0 215.6h0M588.7 217.0h0M588.3 217.7h0M589.4 218.4h0M589.7 219.3h0M591.7 219.7h0M590.2 220.5h0M588.6 220.3h0M588.0 219.4h0M587.0 218.4h0M586.1 219.9h0M651.4 263.3h0M651.2 263.3h0M652.6 262.5h0M651.5 260.3h0M651.5 260.3h0M652.9 259.6h0M655.1 260.5h0M636.6 260.0h0M637.8 259.4h0M638.5 260.8h0M639.5 260.6h0M638.7 260.7h0M636.9 262.7h0M637.1 262.9h0M636.3 264.2h0M607.5 257.6h0M607.8 257.0h0M609.4 257.0h0M606.5 255.8h0M606.1 255.5h0M604.3 254.5h0M604.2 254.0h0M603.7 254.4h0M602.7 255.8h0M602.0 255.2h0M600.4 255.6h0M599.8 255.3h0M647.6 259.3h0M647.0 260.0h0M646.9 257.9h0M647.4 258.6h0M646.1 259.3h0M645.6 259.7h0M647.0 261.4h0M646.7 262.3h0M646.9 262.6h0M646.1 264.2h0M646.9 265.3h0M646.4 266.1h0M646.5 267.0h0M577.5 245.0h0M576.0 244.7h0M574.8 244.8h0M574.0 244.6h0M572.7 242.7h0M573.0 242.8h0M571.3 242.2h0M570.8 241.8h0M570.9 240.9h0M571.3 239.4h0M570.4 238.3h0M569.3 237.9h0M569.4 236.2h0M569.1 236.0h0M570.0 234.7h0M569.6 233.0h0M567.3 234.8h0M567.6 234.9h0M629.0 270.7h0M627.9 269.7h0M626.0 269.4h0M626.1 270.7h0M626.8 271.7h0M625.3 273.0h0M626.1 274.2h0M627.4 275.2h0M627.8 276.2h0M627.2 275.7h0M629.1 276.7h0M630.7 276.3h0M643.3 239.8h0M642.3 237.6h0M642.2 237.8h0M642.6 236.1h0M643.4 236.2h0M644.4 236.6h0M644.7 236.7h0M645.6 237.8h0M646.3 237.8h0M647.7 239.0h0M648.9 238.0h0M636.7 255.0h0M636.5 255.0h0M636.0 257.1h0M634.6 258.2h0M634.2 258.1h0M633.1 258.7h0M631.9 259.2h0M631.8 259.4h0M630.9 260.2h0M587.5 285.2h0M588.3 285.7h0M588.9 287.7h0M589.5 287.4h0M589.4 287.7h0M588.4 287.4h0M587.3 287.5h0M605.7 242.1h0M603.3 241.5h0M602.9 242.5h0M601.6 243.0h0M601.2 242.5h0M598.8 242.3h0M598.5 243.5h0M598.6 244.0h0M598.1 245.3h0M598.0 246.1h0M596.8 245.6h0M595.1 245.5h0M593.6 245.7h0M593.6 245.5h0M592.4 245.3h0M592.0 244.1h0M591.3 245.7h0M590.4 245.9h0M632.7 280.6h0M632.6 278.7h0M632.1 279.3h0M630.9 279.1h0M629.3 279.5h0M628.8 280.2h0M628.8 281.0h0M629.9 281.4h0M629.8 281.9h0M630.6 283.5h0M631.5 284.7h0M632.0 282.7h0M632.3 282.1h0M632.8 281.3h0M633.3 280.1h0M597.8 249.3h0M598.4 248.2h0M597.5 246.4h0M596.7 246.5h0M597.0 247.7h0M597.7 248.9h0M598.5 249.4h0M599.4 249.6h0M599.8 250.9h0M641.9 235.0h0M641.3 236.6h0M640.0 236.3h0M638.9 236.2h0M638.4 235.2h0M637.3 234.8h0M636.5 233.8h0M636.4 233.5h0M634.8 233.8h0M633.0 233.4h0M633.2 232.1h0M631.7 233.5h0M631.4 231.7h0M631.0 231.6h0M632.8 229.6h0M631.7 230.1h0M632.2 228.5h0M631.0 227.4h0M629.7 227.7h0M628.9 227.9h0M627.8 226.6h0M628.3 225.1h0M640.9 260.4h0M641.7 261.2h0M642.9 262.0h0M644.4 261.7h0M645.0 262.3h0M645.9 262.7h0M647.0 263.4h0M646.5 264.1h0M646.1 262.8h0M646.4 261.7h0M646.8 260.8h0M647.1 259.8h0M647.7 259.5h0M649.2 259.4h0M592.5 282.4h0M591.3 282.3h0M590.3 281.2h0M588.5 281.9h0M588.4 282.4h0M587.5 284.0h0M586.0 282.8h0M585.7 283.8h0M584.2 284.0h0M582.9 284.4h0M583.1 285.3h0M604.9 209.8h0M602.7 209.4h0M602.8 209.7h0M601.6 209.1h0M585.9 249.7h0M586.1 250.2h0M586.6 250.7h0M584.6 250.3h0M585.7 249.3h0M586.0 247.9h0M586.9 248.0h0M588.0 248.4h0M588.5 249.3h0M589.0 249.9h0M588.8 250.8h0M588.6 252.2h0M589.2 252.0h0M591.4 254.0h0M591.8 253.6h0M592.1 253.9h0M593.3 254.6h0M593.9 254.0h0M595.0 253.6h0M595.7 254.8h0M596.4 255.8h0M596.2 256.3h0M596.7 257.6h0M597.6 253.0h0M598.1 254.1h0M598.9 253.4h0M600.4 254.5h0M600.2 255.2h0M600.8 255.8h0M601.2 258.0h0M603.3 257.1h0M603.4 256.0h0M604.7 256.3h0M605.1 254.7h0M605.7 254.0h0M606.9 253.1h0M574.0 279.6h0M573.3 278.5h0M574.5 277.9h0M575.8 278.0h0M577.0 277.7h0M577.6 277.6h0M577.8 276.6h0M577.8 275.2h0M575.6 275.8h0M574.2 274.5h0M574.4 274.6h0M573.0 273.1h0M572.3 273.2h0M571.8 273.4h0M570.1 274.1h0M569.4 275.3h0M568.7 275.2h0M568.8 276.7h0M567.3 277.0h0M566.9 277.8h0M566.8 279.2h0M568.1 278.9h0M568.4 280.4h0M614.5 240.6h0M615.0 241.0h0M615.4 242.3h0M614.4 242.5h0M612.8 243.6h0M612.5 243.6h0M612.3 244.4h0M611.0 244.8h0M611.3 246.9h0M611.7 248.2h0M613.0 247.0h0M614.0 247.1h0M614.9 245.9h0M614.9 248.4h0M616.0 248.9h0M617.2 248.6h0M618.5 248.7h0M619.1 248.3h0M619.0 247.1h0M617.3 246.9h0M585.1 270.2h0M583.4 268.9h0M583.3 270.3h0M582.9 271.6h0M581.9 270.9h0M582.1 269.8h0M581.7 270.3h0M583.2 269.2h0M584.4 270.2h0M584.7 271.0h0M586.3 271.7h0M607.4 288.6h0M608.1 290.1h0M608.8 287.9h0M609.5 288.1h0M609.1 286.6h0M608.3 286.3h0M609.1 286.0h0M609.7 285.1h0M611.8 284.9h0M612.0 284.3h0M613.4 285.3h0M613.2 286.0h0M613.1 286.8h0M613.5 287.5h0M614.0 287.5h0M615.1 286.9h0M615.2 286.6h0M616.7 285.6h0M578.8 276.5h0M579.5 274.7h0M579.1 274.7h0M579.8 274.2h0M580.6 274.1h0M581.4 275.7h0M581.5 276.5h0M582.7 275.3h0M582.9 276.2h0M585.2 273.8h0M586.3 275.6h0M586.3 275.8h0M588.0 275.2h0M588.6 275.9h0M590.0 275.0h0M589.9 276.7h0M592.2 277.3h0M591.9 276.4h0M591.4 273.7h0M592.1 273.6h0M607.6 284.1h0M608.8 283.2h0M609.2 283.0h0M610.0 284.2h0M612.0 284.3h0M612.8 285.2h0M612.1 286.3h0M610.5 287.0h0M619.9 230.9h0M618.3 231.7h0M618.5 232.3h0M620.1 233.6h0M618.9 234.1h0M620.1 235.4h0M621.5 235.5h0M621.5 236.6h0M621.6 237.4h0M620.7 237.5h0M619.1 238.2h0M617.8 236.6h0M616.4 235.5h0M616.3 236.0h0M616.0 234.3h0M630.9 247.0h0M630.7 246.0h0M631.3 244.5h0M632.5 245.0h0M633.1 245.6h0M633.5 246.7h0M632.8 246.5h0M633.9 247.4h0M635.5 249.0h0M635.3 249.9h0M636.4 249.5h0M636.5 250.1h0M638.1 250.8h0M639.5 251.0h0M639.2 252.1h0M640.7 253.4h0M633.1 251.2h0M633.5 250.5h0M632.1 249.2h0M632.3 248.3h0M632.2 247.2h0M633.0 247.9h0M634.0 247.3h0M634.3 247.3h0M634.0 249.0h0M634.8 249.9h0M633.9 251.3h0M633.4 251.9h0M634.1 252.7h0M634.3 254.0h0M634.2 254.6h0M602.3 250.1h0M601.0 249.7h0M601.7 248.5h0M602.8 248.4h0M603.6 248.4h0M604.1 248.4h0M604.5 249.9h0M606.0 250.9h0M607.5 249.7h0M607.7 250.1h0M608.4 248.5h0M579.8 238.1h0M579.2 239.2h0M578.9 240.3h0M578.0 241.5h0M579.0 242.7h0M579.4 243.3h0M580.5 243.5h0M579.6 244.7h0M579.5 246.3h0M577.3 245.6h0M599.5 228.0h0M600.4 228.0h0M600.7 226.1h0M601.6 226.4h0M602.1 225.2h0M603.2 225.4h0M603.0 225.9h0M604.5 227.3h0M602.1 227.9h0M602.0 226.6h0M601.2 227.1h0M600.0 228.0h0M598.6 227.4h0M599.1 229.8h0M597.9 230.7h0M597.9 231.0h0M597.0 232.4h0M596.0 231.8h0M596.7 230.8h0M595.6 228.4h0M596.6 228.2h0M597.7 229.5h0M627.1 234.6h0M626.6 233.8h0M626.3 232.8h0M624.5 232.6h0M624.0 232.6h0M624.5 234.5h0M626.5 235.3h0M626.6 235.5h0M625.8 237.8h0M627.0 236.9h0M625.8 237.6h0M625.8 238.8h0M625.5 239.5h0M626.2 240.7h0M625.5 241.5h0M624.9 243.2h0M628.2 243.2h0M627.2 244.2h0M628.7 244.0h0M628.9 245.9h0M630.5 245.9h0M630.8 245.1h0M608.7 249.5h0M609.7 250.0h0M610.7 250.0h0M611.1 249.9h0M611.4 250.0h0M612.7 249.6h0M611.0 247.7h0M611.0 247.6h0M611.3 247.3h0M648.6 269.1h0M648.4 270.1h0M650.1 270.5h0M647.9 269.1h0M648.7 271.6h0M648.0 271.7h0M649.3 271.7h0M570.1 230.7h0M624.0 222.6h0M623.0 220.5h0M622.2 220.0h0M623.7 220.8h0M623.7 219.9h0M626.2 221.2h0M625.8 220.1h0M626.9 220.0h0M615.0 227.1h0M615.1 228.2h0M614.8 229.1h0M614.5 230.1h0M614.3 231.2h0M613.3 231.1h0M612.7 231.0h0M611.3 229.8h0M609.4 230.2h0M608.1 230.6h0M607.5 231.4h0M607.4 230.5h0M605.9 230.4h0M605.9 232.0h0M606.4 231.7h0M606.9 232.9h0M607.9 231.9h0M608.9 231.0h0M610.2 231.5h0M610.8 232.4h0M617.4 287.6h0M620.1 287.6h0M620.9 287.4h0M621.6 287.6h0M622.9 286.7h0M623.2 287.0h0M625.1 288.4h0M609.8 265.0h0M609.1 264.4h0M607.6 265.6h0M607.1 266.2h0M606.9 268.1h0M606.7 268.2h0M607.9 268.3h0M608.6 269.5h0M608.9 270.3h0M609.6 269.1h0M610.3 268.1h0M611.8 269.2h0M611.6 269.9h0M611.0 270.0h0M610.2 269.5h0M609.6 267.4h0M611.2 267.7h0M610.5 267.5h0M608.9 265.1h0M610.0 266.6h0M608.8 268.1h0M640.9 246.8h0M642.1 245.5h0M643.1 245.2h0M643.4 246.4h0M643.8 246.9h0M644.7 248.1h0M644.7 248.5h0M645.1 250.5h0M643.2 249.5h0M643.2 251.0h0M641.9 252.5h0M640.4 251.7h0M640.0 251.4h0M638.9 253.4h0M638.5 253.9h0M637.7 252.8h0M637.5 252.1h0M636.4 252.6h0M635.5 252.0h0M634.7 251.2h0M634.0 250.9h0M633.0 252.2h0M585.0 221.2h0M585.1 222.0h0M585.3 222.8h0M585.1 223.3h0M584.4 224.0h0M585.5 225.0h0M586.3 225.5h0M586.9 226.2h0M586.9 227.3h0M622.8 245.5h0M622.6 245.9h0M622.6 247.0h0M621.7 249.1h0M622.1 248.7h0M623.5 249.3h0M624.0 249.9h0M624.4 248.8h0M625.7 248.7h0M628.0 249.1h0M627.8 249.3h0M629.2 249.6h0M629.3 250.2h0M628.7 251.5h0M629.1 253.0h0M628.8 253.8h0M627.5 254.7h0M631.6 249.8h0M632.5 249.8h0M632.6 251.3h0M631.1 251.2h0M630.2 251.9h0M629.1 252.3h0M629.1 253.0h0M629.5 253.2h0M630.3 254.1h0M632.2 255.1h0M632.6 254.6h0M635.1 255.5h0M634.1 255.8h0M633.0 257.1h0M632.4 257.9h0M630.7 257.7h0M631.7 257.0h0M612.2 256.3h0M613.7 255.3h0M612.4 255.0h0M611.8 253.8h0M609.6 254.3h0M609.7 254.2h0M610.2 253.1h0M611.0 252.6h0M612.5 252.5h0M612.6 249.4h0M612.8 249.5h0M614.4 249.6h0M614.0 247.6h0M614.5 248.9h0M614.4 250.2h0M612.0 249.5h0M612.1 250.6h0M612.4 251.9h0M612.8 253.6h0M624.1 272.6h0M623.5 271.8h0M622.2 272.1h0M621.6 272.0h0M620.9 271.4h0M619.5 270.5h0M618.4 270.9h0M617.7 268.8h0M616.4 269.0h0M616.0 268.9h0M615.0 269.6h0M614.2 269.6h0M614.9 270.8h0M613.9 271.7h0M614.1 272.4h0M639.3 273.0h0M641.0 271.9h0M641.7 271.7h0M642.7 271.3h0M644.1 270.2h0M642.9 270.0h0M641.9 269.3h0M640.6 268.4h0M640.8 269.3h0M640.5 270.8h0M639.8 271.4h0M641.8 273.0h0M641.9 272.9h0M643.2 272.1h0M642.2 270.9h0M579.0 258.6h0M578.0 259.3h0M577.8 258.9h0M577.0 257.0h0M575.0 258.5h0M574.0 257.1h0M574.0 256.3h0M575.3 255.6h0M596.3 273.2h0M598.2 273.2h0M597.9 273.7h0M596.9 272.9h0M596.4 271.8h0M594.9 271.7h0M594.8 272.3h0M592.3 270.9h0M591.9 271.0h0M592.5 271.9h0M593.0 272.8h0M593.4 274.2h0M594.5 274.0h0M594.4 273.2h0M595.5 272.7h0M596.2 271.2h0M595.7 271.4h0M595.0 270.0h0M615.8 286.4h0M613.9 288.5h0M614.6 288.2h0M613.8 289.2h0M588.4 231.3h0M589.1 230.9h0M590.7 230.9h0M591.4 231.1h0M592.8 230.9h0M593.3 231.3h0M592.9 233.5h0M591.9 233.7h0M591.1 235.0h0M590.7 235.9h0M590.1 237.5h0M590.9 236.8h0M592.0 238.1h0M591.8 240.1h0M590.9 239.7h0M593.1 272.1h0M592.2 274.2h0M591.2 274.8h0M590.5 274.7h0M590.1 275.0h0M588.9 277.2h0M588.7 277.2h0M587.6 275.7h0M586.7 275.1h0M587.2 274.4h0M586.9 273.7h0M586.1 272.1h0M586.1 271.2h0M584.1 271.3h0M586.3 270.1h0M586.3 270.5h0M587.5 271.4h0M587.4 271.8h0M588.3 273.3h0M588.8 273.5h0M588.3 274.9h0M589.7 275.6h0M590.9 275.4h0M587.7 283.3h0M588.8 283.7h0M588.1 284.1h0M586.5 285.1h0M587.4 286.8h0M586.3 287.5h0M595.7 229.2h0M595.2 230.5h0M595.1 232.3h0M595.9 232.1h0M598.0 233.9h0M597.5 234.8h0M597.6 235.1h0M599.3 236.1h0M599.3 235.7h0M601.8 236.3h0M601.7 237.6h0M594.2 220.2h0M592.4 219.7h0M591.6 220.4h0M590.9 220.4h0M589.6 221.3h0M590.2 222.9h0M590.7 221.5h0M591.6 222.9h0M593.2 222.2h0M593.4 221.9h0M594.2 223.1h0M595.5 222.6h0M596.7 222.6h0M598.3 223.0h0M619.3 279.4h0M618.9 280.3h0M617.2 280.4h0M616.0 280.8h0M616.9 281.3h0M616.6 283.0h0M618.5 284.1h0M619.1 284.0h0M620.4 283.7h0M621.5 284.8h0M623.1 284.9h0M590.1 213.6h0M590.4 212.8h0M589.6 214.1h0M589.0 213.7h0M588.1 215.0h0M587.2 214.4h0M586.2 214.6h0M586.2 214.8h0M586.1 217.0h0M586.8 217.3h0M587.6 217.5h0M589.1 218.9h0M589.1 219.1h0M590.5 219.9h0M592.7 227.5h0M594.6 227.8h0M594.8 227.9h0M594.6 229.7h0M596.5 229.1h0M597.2 229.1h0M598.0 229.3h0M596.5 228.3h0M595.9 227.6h0M595.3 227.6h0M594.0 228.6h0M593.3 228.0h0M592.6 226.2h0M593.5 225.5h0M592.8 225.6h0M594.8 224.7h0M594.3 223.7h0M595.2 222.8h0M595.6 221.2h0M594.8 219.8h0M609.1 270.8h0M607.1 271.7h0M607.3 270.7h0M606.8 270.1h0M604.6 270.2h0M604.4 270.0h0M603.9 270.3h0M602.1 270.1h0M600.6 270.6h0M599.4 269.6h0M571.1 241.2h0M569.7 240.7h0M571.6 240.4h0M571.6 240.4h0M573.3 240.1h0M573.7 238.9h0M574.7 239.8h0M575.5 239.5h0M576.3 239.0h0M578.0 238.6h0M578.5 237.7h0M578.4 237.2h0M580.7 237.4h0M580.8 237.4h0M581.6 237.0h0M583.0 238.1h0M583.5 237.3h0M584.9 238.7h0M612.8 282.0h0M612.2 281.7h0M614.4 280.8h0M612.5 279.3h0M612.9 278.1h0M614.6 277.5h0M616.0 278.0h0M616.3 277.5h0M617.5 276.9h0M617.6 278.4h0M617.1 279.5h0M645.4 267.3h0M644.3 268.0h0M644.9 268.9h0M645.5 270.0h0M645.0 271.4h0M646.6 271.4h0M647.9 271.3h0M647.9 271.3h0M649.4 270.6h0M592.9 248.4h0M593.7 248.5h0M596.0 248.2h0M595.2 249.4h0M595.7 250.1h0M596.1 251.0h0M597.9 251.1h0M598.4 251.4h0M600.2 252.5h0M601.7 252.3h0M627.0 225.5h0M627.6 224.9h0M626.7 224.3h0M628.0 224.9h0M628.8 226.0h0M628.9 225.9h0M629.2 224.3h0M629.4 224.4h0M628.8 222.9h0M629.5 222.3h0M629.2 220.2h0M630.7 220.5h0M587.5 257.4h0M586.6 258.5h0M587.9 259.4h0M588.5 259.2h0M588.8 260.8h0M588.7 261.5h0M589.0 262.6h0M588.4 263.9h0M588.5 264.2h0M589.0 265.9h0M617.3 218.5h0M617.4 218.8h0M615.5 218.7h0M614.6 218.2h0M614.5 219.2h0M615.2 220.2h0M615.6 220.7h0M617.1 220.2h0M618.7 221.5h0M619.0 220.6h0M619.9 220.1h0M621.1 219.4h0M619.9 217.9h0M618.5 218.8h0M617.7 220.5h0M618.2 220.3h0M617.6 222.3h0M619.4 221.5h0M620.5 221.2h0M620.7 220.7h0M620.7 221.9h0M591.8 272.8h0M591.1 273.1h0M589.0 273.8h0M589.9 273.4h0M588.5 272.2h0M588.1 273.1h0M587.3 273.9h0M587.0 272.8h0M584.4 272.8h0M584.9 271.1h0M582.9 217.1h0M582.1 216.4h0M582.8 214.8h0M581.9 215.1h0M580.7 214.2h0M579.7 214.1h0M579.5 216.4h0M579.7 216.9h0M580.2 218.1h0M581.3 219.4h0M568.5 242.5h0M567.9 241.6h0M567.0 242.4h0M566.6 239.9h0M566.1 239.1h0M565.0 239.2h0M564.0 240.2h0M563.7 240.7h0M564.2 241.2h0M563.6 243.0h0M564.1 244.0h0M565.2 244.1h0M566.6 244.1h0M567.0 244.3h0M567.0 246.1h0M569.0 245.7h0M568.9 246.5h0M569.7 247.1h0M571.6 247.3h0M571.7 247.8h0M573.1 247.0h0M574.7 245.6h0M576.0 246.8h0M586.3 281.4h0M585.6 281.3h0M585.0 280.2h0M583.9 279.5h0M583.9 278.0h0M582.4 277.4h0M582.3 279.4h0M581.4 279.6h0M581.2 280.5h0M580.0 280.3h0M579.0 278.0h0M579.1 280.2h0M577.6 279.3h0M577.9 281.1h0M578.5 281.6h0M579.3 280.0h0M579.5 279.7h0M580.6 279.0h0M607.1 267.2h0M606.0 267.9h0M604.8 267.6h0M606.0 269.3h0M604.1 269.3h0M602.2 270.0h0M600.8 269.9h0M600.7 269.3h0M599.5 270.8h0M598.7 271.0h0M598.2 272.1h0M641.6 268.0h0M638.5 266.5h0M639.0 266.7h0M639.7 266.3h0M640.0 265.7h0M638.7 264.6h0M638.2 266.0h0M636.6 264.6h0M636.7 263.5h0M636.1 263.3h0M634.8 263.8h0M634.5 264.5h0M634.8 265.6h0M569.3 266.0h0M568.1 265.3h0M566.3 264.5h0M566.8 263.7h0M565.4 263.5h0M566.0 262.2h0M567.5 261.1h0M567.9 260.0h0M566.8 259.5h0M567.2 258.3h0M568.3 257.6h0M568.4 257.3h0M569.7 257.1h0M571.0 256.7h0M572.1 257.9h0M595.1 215.5h0M593.9 215.2h0M592.8 216.6h0M591.8 216.7h0M591.1 216.5h0M590.3 215.5h0M590.0 216.5h0M589.6 218.7h0M612.7 241.0h0M612.4 241.1h0M611.9 239.8h0M611.2 238.8h0M613.7 238.4h0M612.7 239.6h0M611.6 240.7h0M611.0 240.2h0M609.1 241.1h0M607.9 241.0h0M607.1 241.1h0M606.4 241.0h0M607.2 240.0h0M607.1 238.7h0M619.2 255.8h0M619.4 256.5h0M621.2 256.9h0M622.1 257.9h0M622.8 257.8h0M623.3 258.9h0M624.7 257.4h0M624.9 258.6h0M626.0 257.6h0M623.8 256.2h0M626.0 256.2h0M627.7 256.7h0M628.2 256.1h0M628.8 255.2h0M628.2 253.6h0M628.6 253.4h0M626.5 253.9h0M625.6 252.9h0M623.8 253.2h0M583.9 250.0h0M585.1 251.1h0M584.0 251.3h0M583.9 249.4h0M585.1 249.2h0M583.7 248.3h0M584.2 247.0h0M585.2 247.1h0M586.2 247.7h0M632.4 254.0h0M631.7 255.1h0M632.5 256.6h0M632.2 256.5h0M633.2 257.4h0M635.2 257.9h0M635.7 258.1h0M636.7 258.9h0M637.1 259.5h0M638.2 259.5h0M638.3 260.4h0M638.6 259.7h0M640.0 260.0h0M639.1 261.2h0M638.5 260.3h0M639.2 259.2h0M639.5 258.7h0M639.4 257.7h0M640.3 256.1h0M566.6 249.8h0M566.1 248.5h0M564.9 249.1h0M564.3 247.3h0M563.5 246.3h0M562.6 247.3h0M562.7 246.9h0M561.8 245.6h0M562.0 245.0h0M609.0 230.8h0M610.4 229.8h0M609.9 230.2h0M611.3 231.2h0M613.5 231.5h0M613.4 232.2h0M613.8 233.1h0M615.1 232.8h0M615.6 232.2h0M616.5 231.6h0M618.5 231.3h0M618.0 232.8h0M620.0 232.3h0M620.6 231.9h0M621.6 231.6h0M623.0 232.5h0M622.4 234.4h0M621.8 234.5h0M620.9 235.0h0M619.7 234.9h0M612.0 213.1h0M612.5 213.4h0M610.3 213.2h0M610.4 214.6h0M609.8 213.7h0M607.6 213.2h0M607.8 213.9h0M605.6 213.3h0M606.6 214.2h0M604.8 213.4h0M605.4 211.9h0M605.8 213.3h0M606.7 214.0h0M579.0 219.8h0M579.6 221.5h0M580.1 220.8h0M580.6 220.7h0M580.0 219.7h0M579.8 221.0h0M579.1 221.7h0M578.0 222.0h0M578.5 223.5h0M577.2 223.4h0M575.7 225.3h0M575.8 225.7h0M575.1 226.6h0M575.0 226.9h0M573.6 228.5h0M646.9 263.5h0M646.0 264.5h0M646.1 264.4h0M644.9 266.2h0M644.6 267.4h0M644.5 268.5h0M645.0 268.9h0M644.9 270.6h0M644.8 271.5h0M643.5 271.5h0M642.4 271.0h0M641.2 271.9h0M640.4 271.1h0M639.0 272.0h0M638.8 271.6h0M637.4 271.4h0M637.2 271.9h0M634.7 271.8h0M635.2 270.9h0M634.7 269.6h0M636.0 269.2h0M584.4 214.0h0M583.3 213.7h0M582.8 213.4h0M582.8 210.9h0M583.6 211.8h0M583.1 209.8h0M584.4 208.8h0M582.8 209.3h0M582.2 209.0h0M604.4 230.6h0M604.4 228.9h0M603.3 228.2h0M603.6 225.8h0M604.2 225.5h0M604.0 223.7h0M605.2 224.4h0M605.7 223.9h0M605.3 222.6h0M605.4 222.1h0M604.8 220.9h0M603.9 220.8h0M601.7 221.3h0M601.0 222.2h0M600.7 223.3h0M599.6 223.8h0M599.2 223.4h0M598.3 221.6h0M602.9 221.6h0M603.4 221.7h0M602.7 220.5h0M603.8 219.0h0M604.1 218.8h0M603.0 217.8h0M602.5 216.7h0M602.2 215.9h0M601.4 214.9h0M599.8 215.7h0M600.4 216.9h0M599.2 217.2h0M598.3 218.1h0M597.2 218.3h0M596.2 217.6h0M595.2 219.5h0M594.1 217.5h0M593.1 218.7h0M593.5 219.9h0M620.6 274.9h0M619.8 275.7h0M619.4 275.2h0M618.6 273.3h0M619.4 273.6h0M621.7 273.4h0M621.0 275.0h0M619.8 274.9h0M619.3 275.8h0M620.1 277.0h0M648.8 254.9h0M650.1 256.1h0M650.3 257.9h0M649.9 257.2h0M648.4 255.3h0M648.1 255.5h0M646.0 255.3h0M646.4 254.8h0M646.5 253.7h0M636.3 227.2h0M635.2 228.2h0M635.0 228.9h0M633.7 229.9h0M632.1 230.6h0M631.1 229.4h0M631.7 231.6h0M631.4 232.6h0M633.2 232.9h0M634.1 233.7h0M633.9 234.8h0M643.8 252.8h0M643.6 255.2h0M642.8 255.2h0M641.7 256.1h0M642.2 257.1h0M642.0 259.0h0M643.5 259.9h0M643.4 259.8h0M642.1 261.9h0M642.2 262.0h0M640.7 263.0h0M639.8 262.8h0M638.5 263.0h0M637.7 262.4h0M637.4 261.8h0M637.2 260.7h0M623.2 285.4h0M622.1 286.1h0M622.8 286.5h0M623.8 287.6h0M577.4 283.6h0M578.5 284.5h0M579.9 283.8h0M580.7 285.0h0M580.4 285.7h0M629.5 270.3h0M630.8 271.3h0M631.8 272.1h0M632.8 271.4h0M633.3 271.5h0M634.3 271.2h0M635.9 270.1h0M637.4 271.6h0M638.3 269.8h0M638.0 270.9h0M638.9 270.9h0M640.8 270.9h0M640.0 273.0h0M640.2 273.7h0M641.2 272.8h0M642.9 272.7h0M641.8 274.9h0M643.2 274.0h0M643.1 274.7h0M645.0 275.8h0M644.4 276.6h0M608.7 282.4h0M607.6 282.2h0M607.0 283.5h0M607.8 283.8h0M607.7 285.2h0M606.7 286.9h0M606.5 284.6h0M606.0 284.5h0M606.5 281.8h0M607.1 283.2h0M637.6 241.8h0M638.8 241.1h0M639.7 240.7h0M640.7 240.0h0M641.0 238.5h0M641.1 237.3h0M639.5 237.2h0M638.9 237.6h0M637.4 237.2h0M637.0 237.6h0M637.6 238.4h0M630.2 237.7h0M630.8 238.7h0M631.4 238.9h0M630.8 241.2h0M632.1 241.3h0M631.4 240.0h0M631.9 238.7h0M633.3 240.2h0M634.3 239.8h0M634.8 241.5h0M634.6 242.3h0M635.8 242.7h0M636.2 244.1h0M636.2 243.0h0M637.5 243.6h0M626.5 277.8h0M624.8 278.6h0M625.6 279.6h0M623.5 279.1h0M624.1 281.3h0M623.9 282.0h0M624.0 283.0h0M622.8 283.1h0M622.5 283.6h0M621.5 284.1h0M620.4 285.5h0M621.7 285.6h0M621.9 284.5h0M633.1 272.5h0M631.3 274.3h0M632.1 271.8h0M633.0 270.9h0M631.5 270.3h0M631.9 270.9h0M629.5 269.5h0M629.0 269.6h0M628.1 269.2h0M629.2 268.0h0M630.4 268.6h0M608.0 288.9h0M607.5 288.9h0M606.2 289.7h0M607.0 290.6h0M605.4 290.2h0M604.7 289.4h0M604.0 288.7h0M605.8 287.9h0M605.3 286.8h0M605.2 286.2h0M604.6 284.3h0M604.0 283.0h0M605.3 282.9h0M607.3 282.5h0M607.9 282.8h0M608.8 283.8h0M609.2 284.7h0M610.6 283.2h0M611.4 283.6h0M612.9 283.2h0M612.7 284.1h0M612.0 284.4h0M628.2 239.8h0M629.3 240.5h0M630.6 240.6h0M632.1 241.2h0M632.6 240.6h0M632.3 238.9h0M631.9 238.1h0M631.6 236.5h0M630.3 236.2h0M630.9 238.2h0M631.9 239.4h0M631.0 240.8h0M631.0 240.9h0M631.4 242.3h0M632.7 243.1h0M632.8 241.2h0M634.8 241.7h0M635.4 241.4h0M636.7 241.4h0M637.3 242.5h0M625.5 272.3h0M626.0 271.3h0M626.8 270.6h0M629.0 272.2h0M627.8 272.7h0M630.0 272.9h0M630.1 272.0h0M632.2 271.8h0M631.9 271.1h0M633.0 270.3h0M633.2 271.4h0M634.2 271.8h0M635.2 273.4h0M635.6 274.0h0M634.3 274.6h0M633.8 275.2h0M634.2 273.6h0M634.9 272.4h0M634.6 271.2h0M634.3 269.6h0M635.0 269.2h0M635.2 269.4h0M637.0 244.7h0M635.2 245.0h0M634.1 245.3h0M633.3 245.2h0M632.0 245.8h0M632.0 246.5h0M631.3 246.2h0M628.9 245.9h0M628.9 245.8h0M627.3 245.9h0M627.0 244.4h0M628.1 244.0h0M626.1 243.0h0M627.7 241.5h0M628.0 240.8h0M628.5 240.3h0M629.1 239.0h0M630.6 239.5h0M608.0 274.4h0M608.5 272.9h0M607.6 273.8h0M606.8 272.8h0M606.7 274.2h0M607.0 274.4h0M607.8 273.5h0M609.1 273.6h0M608.3 272.0h0M608.4 271.6h0M608.1 269.8h0M607.0 269.4h0M606.5 269.9h0M605.9 267.7h0M604.9 268.8h0M603.9 268.5h0M602.7 269.1h0M601.7 270.0h0M601.0 269.9h0M600.6 271.9h0M601.0 272.9h0M600.7 272.3h0M601.8 271.4h0M615.1 263.3h0M615.3 263.8h0M614.0 265.4h0M616.0 266.4h0M616.2 266.9h0M614.5 268.3h0M612.8 267.5h0M612.6 267.4h0M611.1 267.4h0M609.8 267.5h0M609.0 266.6h0M607.8 267.2h0M607.3 266.9h0M606.7 265.6h0M605.4 264.8h0M605.1 264.7h0M603.4 264.1h0M603.7 263.5h0M630.1 269.9h0M630.8 268.7h0M629.5 266.6h0M628.3 265.7h0M629.5 265.9h0M627.1 265.7h0M627.5 265.7h0M625.9 267.5h0M625.6 265.4h0M624.9 265.8h0M623.5 265.8h0M644.7 258.5h0M645.7 260.5h0M646.5 261.3h0M646.7 261.1h0M648.8 261.6h0M649.2 261.4h0M647.8 263.3h0M647.2 262.4h0M646.6 262.4h0M647.3 261.5h0M649.0 261.7h0M649.8 260.7h0M650.9 261.1h0M651.1 261.9h0M613.1 277.6h0M614.2 277.5h0M613.7 278.5h0M613.5 279.6h0M613.9 280.7h0M613.8 283.7h0M614.0 281.9h0M612.7 283.1h0M611.4 284.7h0M612.1 285.0h0M610.7 284.4h0M611.8 283.4h0M610.2 283.2h0M611.2 282.5h0M611.0 282.5h0M612.5 283.5h0M611.5 283.9h0M617.7 260.3h0M617.5 261.0h0M616.4 261.9h0M615.7 262.8h0M614.3 262.9h0M614.0 262.7h0M615.5 261.2h0M615.5 260.3h0M615.5 259.6h0M614.8 258.2h0M616.1 257.1h0M616.4 256.9h0M617.4 257.2h0M618.8 257.4h0M620.0 257.2h0M620.8 258.1h0M621.0 258.8h0M622.4 257.8h0M622.5 257.0h0M623.7 257.0h0M642.9 236.4h0M642.9 234.6h0M643.4 233.8h0M644.9 234.5h0M645.9 235.1h0M621.2 284.7h0M621.5 285.3h0M621.2 286.6h0M622.1 287.3h0M622.4 287.3h0M623.2 238.5h0M623.0 239.0h0M621.5 238.5h0M620.4 237.9h0M620.4 237.1h0M619.0 236.8h0M618.7 235.9h0M617.8 234.0h0M618.6 233.1h0M617.7 231.7h0M617.3 230.8h0M616.2 231.7h0M615.6 231.0h0M615.2 232.4h0M613.5 232.1h0M613.3 231.6h0M613.1 230.6h0M612.7 229.6h0M612.7 227.6h0M611.6 228.0h0M621.7 274.7h0M623.5 274.1h0M623.8 273.3h0M624.0 272.0h0M622.9 272.6h0M621.9 272.1h0M620.3 272.1h0M621.0 269.7h0M621.4 269.1h0M623.8 269.7h0M623.9 270.0h0M624.7 271.2h0M625.1 270.7h0M630.5 279.9h0M630.1 279.7h0M629.7 278.2h0M631.3 278.2h0M631.7 278.6h0M633.4 279.9h0M633.2 279.5h0M635.2 280.0h0M635.9 279.8h0M636.7 280.4h0M632.4 237.5h0M632.4 238.7h0M633.8 239.0h0M635.1 238.9h0M634.7 240.2h0M635.0 240.4h0M636.3 242.4h0M636.3 242.6h0M635.8 243.5h0M637.1 244.5h0M636.8 246.2h0M635.2 246.5h0M635.2 247.1h0M635.9 247.6h0M636.3 248.5h0M636.4 250.5h0M635.0 250.8h0M642.5 239.3h0M642.7 238.1h0M643.2 238.4h0M644.9 239.9h0M646.7 239.5h0M646.7 240.0h0M647.8 239.4h0M648.4 239.0h0M618.8 273.9h0M620.2 274.4h0M621.1 274.1h0M621.8 274.6h0M622.6 276.8h0M623.4 275.2h0M624.5 276.7h0M623.0 277.4h0M622.1 276.3h0M622.1 276.9h0M621.0 276.3h0M620.9 275.7h0M619.8 274.4h0M618.8 276.4h0M618.2 276.2h0M618.7 277.8h0M617.3 278.4h0M617.9 280.5h0M617.8 280.8h0M619.8 280.7h0M620.6 281.7h0M621.0 282.0h0M623.0 281.1h0M629.7 237.8h0M628.6 237.7h0M627.4 239.5h0M627.0 239.4h0M625.9 239.8h0M625.8 240.3h0M626.0 241.8h0M625.7 242.0h0M625.6 243.1h0M625.3 243.8h0M625.0 245.6h0M625.6 246.2h0M624.8 247.3h0M623.9 247.2h0M631.8 271.4h0M631.9 273.4h0M631.5 274.1h0M631.6 274.0h0M631.0 275.9h0M632.4 276.4h0M633.2 276.6h0M634.7 276.1h0M635.4 276.7h0M636.0 276.2h0M636.3 275.8h0M638.0 275.1h0M639.5 275.1h0M638.4 274.2h0M639.9 273.4h0M641.7 272.7h0M640.3 272.1h0M642.2 271.2h0M643.4 272.4h0M642.1 273.7h0M642.0 274.9h0M642.4 275.5h0M642.0 277.2h0M642.7 277.3h0M637.1 239.5h0M637.7 241.0h0M638.3 241.2h0M637.9 242.4h0M638.4 243.1h0M639.6 244.0h0M640.0 244.7h0M640.2 245.9h0M640.0 246.7h0M641.1 248.0h0M641.5 247.5h0M642.9 247.4h0M641.9 245.4h0M643.7 244.4h0M643.5 244.4h0M644.8 244.8h0M645.1 243.0h0M626.5 242.0h0M626.6 240.8h0M627.8 241.0h0M627.2 239.4h0M627.8 238.5h0M628.6 238.7h0M630.4 238.4h0M632.1 236.9h0M631.5 236.8h0M632.4 236.2h0M633.8 236.7h0M633.0 237.1h0M635.5 238.4h0M636.6 238.2h0M637.2 238.1h0M637.9 237.7h0M638.7 237.9h0M638.1 240.1h0M637.7 240.5h0M636.0 240.6h0M637.7 242.3h0M637.6 242.6h0M640.1 243.5h0M638.9 243.3h0M638.2 242.9h0M637.2 244.2h0M635.7 245.0h0M634.7 245.5h0M633.7 245.6h0M632.8 244.2h0M632.7 243.5h0M632.0 242.3h0M631.7 244.2h0M630.3 244.8h0M629.3 245.1h0M628.2 246.0h0M627.3 246.4h0M626.4 245.8h0M632.9 255.9h0M632.6 257.3h0M634.3 257.6h0M634.6 258.6h0M634.9 259.2h0M635.0 258.5h0M634.9 256.9h0M635.4 256.9h0M635.0 255.4h0M635.3 255.1h0M634.3 253.6h0M634.0 251.8h0M634.9 252.2h0M636.1 251.4h0M637.3 252.4h0M623.3 240.7h0M622.3 240.5h0M623.7 239.4h0M625.0 239.1h0M625.4 240.0h0M625.3 241.6h0M626.3 241.4h0M626.4 241.0h0M627.1 239.7h0M626.8 239.4h0M625.3 238.1h0M624.8 237.9h0M631.1 271.3h0M630.4 271.9h0M631.7 273.3h0M631.4 273.9h0M631.3 274.9h0M632.2 275.2h0M632.9 276.2h0M634.5 277.3h0M634.6 275.7h0M634.5 274.1h0M635.5 272.9h0M633.1 273.1h0M619.7 279.7h0M621.5 278.4h0M622.9 278.2h0M623.8 278.0h0M623.6 279.4h0M624.3 280.3h0M626.8 279.6h0M627.4 279.3h0M627.1 281.3h0M628.6 280.7h0M629.0 279.2h0M616.1 261.4h0M615.8 260.4h0M617.2 260.3h0M617.8 260.1h0M619.0 259.4h0M619.3 259.5h0M620.1 258.0h0M620.4 256.9h0M620.8 255.7h0M620.0 255.4h0M619.0 254.0h0M617.8 254.3h0M631.9 266.1h0M631.3 264.2h0M630.3 263.9h0M628.6 263.5h0M628.1 263.8h0M627.1 264.4h0M626.2 263.9h0M624.3 263.8h0M623.4 263.1h0M623.2 263.1h0M622.3 264.6h0M621.3 264.3h0M620.2 264.2h0M619.5 264.2h0M617.6 263.7h0M617.2 262.9h0M616.5 263.5h0M616.2 264.0h0M616.8 264.7h0M647.0 248.6h0M646.5 249.3h0M646.4 251.1h0M646.2 251.2h0M646.1 251.5h0M644.3 250.9h0M642.5 252.1h0M642.1 251.3h0M641.3 250.8h0M641.9 249.9h0M643.4 249.4h0M644.9 249.2h0M644.8 247.5h0M643.9 246.2h0M643.6 246.4h0M642.3 246.7h0M641.7 245.8h0M640.8 245.3h0M639.7 244.7h0M628.4 239.4h0M630.0 239.2h0M630.2 238.2h0M631.4 238.3h0M633.2 239.3h0M633.6 239.9h0M633.8 240.8h0M635.0 240.1h0M635.3 241.6h0M634.6 242.7h0M633.3 243.1h0M634.6 244.9h0M633.2 245.1h0M632.5 244.8h0M631.5 244.1h0M621.1 263.5h0M620.9 262.8h0M622.2 262.7h0M622.0 261.3h0M621.1 261.5h0M619.5 261.8h0M619.9 262.2h0M619.7 263.6h0M619.8 264.6h0M619.5 265.8h0M619.5 266.4h0M621.1 266.3h0M637.2 243.1h0M637.2 241.7h0M636.6 240.6h0M636.0 239.6h0M635.7 239.1h0M636.2 238.3h0M636.4 237.8h0M637.8 237.0h0M636.9 235.4h0M637.5 235.1h0M638.8 234.3h0M639.3 234.8h0M640.3 235.1h0M640.8 236.2h0M640.7 238.0h0M641.2 238.7h0M640.6 239.3h0M642.0 238.8h0M639.1 253.3h0M638.0 253.5h0M636.7 254.3h0M636.0 254.2h0M635.2 254.9h0M634.8 256.3h0M634.2 258.2h0M633.7 256.9h0M633.3 259.1h0M631.4 258.9h0M631.1 259.8h0M629.5 259.3h0M628.6 258.9h0M629.3 258.7h0M629.5 257.5h0M628.7 257.0h0M629.1 255.2h0M634.2 246.8h0M635.6 246.9h0M635.9 247.6h0M637.2 248.4h0M638.8 248.4h0M638.4 248.7h0M638.9 249.7h0M638.6 250.1h0M639.7 251.2h0M640.4 250.6h0M641.6 249.7h0M642.9 249.1h0M645.0 248.7h0M645.1 248.0h0M646.6 248.9h0M647.0 250.1h0M645.5 251.4h0M645.4 251.1h0M644.3 250.4h0M625.7 235.4h0M625.9 237.1h0M626.7 235.6h0M627.9 237.0h0M627.9 237.0h0M627.8 237.4h0M630.1 238.3h0M631.2 237.0h0M630.7 237.2h0M630.4 235.5h0M631.0 234.4h0M632.7 234.7h0M633.1 234.6h0M634.2 234.7h0M635.3 234.0h0M634.6 232.9h0M628.6 248.8h0M627.7 250.0h0M628.3 250.2h0M628.7 251.5h0M629.1 252.2h0M626.9 252.2h0M626.1 251.8h0M625.4 251.2h0M626.3 249.9h0M626.6 248.7h0M626.9 248.2h0M628.1 247.0h0M625.4 245.8h0M625.8 246.3h0M625.0 245.5h0M623.1 244.1h0M624.9 242.5h0M624.8 241.9h0M625.8 241.7h0M626.8 240.1h0M626.3 239.2h0M626.2 238.5h0M625.7 238.0h0M612.9 275.8h0M612.4 275.2h0M610.7 275.5h0M611.1 274.7h0M609.2 276.2h0M608.8 277.3h0M608.5 277.1h0M608.1 279.3h0M608.2 280.0h0M608.6 281.9h0M607.9 281.8h0M607.6 281.8h0M605.9 281.6h0M605.2 280.4h0M604.8 280.0h0M604.9 279.5h0M604.2 277.7h0M605.9 276.1h0M606.5 276.5h0M615.6 282.1h0M616.0 279.5h0M615.6 278.8h0M615.8 278.2h0M614.7 278.1h0M614.6 275.2h0M612.4 276.5h0M612.0 278.2h0M612.6 278.0h0M612.0 279.4h0M610.2 280.1h0M609.1 279.5h0M610.4 277.9h0M609.9 277.9h0M610.4 276.9h0M612.2 276.2h0M612.3 276.2h0M613.6 275.9h0M614.8 275.3h0M615.4 275.8h0M616.7 276.6h0M617.0 276.7h0M631.7 256.5h0M632.7 256.3h0M632.9 256.0h0M634.2 255.0h0M635.1 253.4h0M634.5 252.9h0M634.7 251.3h0M633.2 251.0h0M633.7 250.8h0M634.2 249.7h0M633.0 248.5h0M633.9 246.9h0M634.6 246.5h0M635.7 246.6h0M636.5 246.1h0M637.4 246.5h0M638.4 246.8h0M638.6 247.3h0M639.9 246.9h0M641.2 246.8h0M640.4 246.5h0M644.1 243.8h0M645.1 244.2h0M646.8 243.3h0M647.4 243.3h0M648.5 242.4h0M648.2 244.6h0M646.9 243.8h0M645.9 244.0h0M645.0 243.9h0M644.9 242.8h0M643.7 243.2h0M644.5 242.1h0M644.7 241.6h0M645.1 241.7h0M646.5 240.0h0M647.5 240.9h0M648.8 241.2h0M649.4 239.3h0M627.4 283.5h0M627.2 282.0h0M628.9 281.7h0M627.9 279.2h0M626.9 279.5h0M625.1 279.1h0M625.4 277.8h0M624.8 276.9h0M624.9 276.1h0M623.8 275.5h0M624.8 274.5h0M625.4 272.9h0M625.6 272.5h0M626.6 271.7h0M626.4 271.5h0M613.8 275.1h0M612.3 274.3h0M612.9 273.7h0M610.7 273.5h0M610.7 272.1h0M611.0 271.9h0M610.7 270.3h0M611.2 269.9h0M610.8 268.5h0M608.7 268.1h0M608.8 268.9h0M607.7 267.1h0M606.1 267.9h0M605.8 269.1h0M604.6 269.0h0M603.9 268.4h0M603.4 267.8h0M604.6 265.7h0M603.8 265.9h0M603.3 266.7h0M638.9 273.7h0M639.1 275.7h0M637.8 277.2h0M637.3 276.1h0M636.1 277.1h0M636.9 274.9h0M636.1 273.8h0M636.1 273.8h0M635.3 272.9h0M632.9 271.7h0M632.9 272.0h0M632.0 272.8h0M634.9 233.1h0M634.4 232.5h0M634.5 232.1h0M636.3 230.6h0M635.6 230.0h0M636.9 229.4h0M638.2 227.3h0M638.1 227.0h0M639.2 229.4h0M640.0 228.7h0M631.7 256.4h0M632.0 256.2h0M632.5 255.6h0M634.1 256.4h0M635.2 257.2h0M635.8 256.6h0M636.4 255.7h0M636.7 254.2h0M637.2 254.0h0M637.7 253.3h0M639.8 252.5h0M640.0 252.2h0M640.6 251.3h0M641.7 251.4h0M643.1 251.6h0M641.4 252.2h0M641.7 252.1h0M639.8 252.5h0M639.2 252.4h0M638.0 252.6h0M638.6 251.0h0M638.0 249.4h0M636.7 249.4h0M642.1 239.5h0M642.6 239.6h0M642.2 240.8h0M642.8 242.8h0M641.7 243.5h0M640.8 243.7h0M641.3 245.1h0M641.1 246.4h0M642.9 244.5h0M643.2 247.1h0M638.0 232.8h0M638.3 231.2h0M636.4 231.3h0M637.2 232.7h0M636.3 233.4h0M634.8 234.4h0M634.1 235.4h0M633.9 235.2h0M634.4 238.1h0M634.5 237.7h0M633.0 238.5h0M632.5 238.8h0M630.5 239.5h0M630.2 240.1h0M629.3 241.1h0M629.2 242.6h0M629.9 243.1h0M632.1 266.2h0M632.7 267.1h0M633.2 270.1h0M633.5 270.8h0M632.1 270.2h0M632.0 271.1h0M632.8 272.0h0M631.2 271.8h0M630.0 271.5h0M629.5 272.4h0M628.1 272.8h0M629.0 272.7h0M629.9 272.4h0M630.6 273.9h0M627.7 259.4h0M629.6 258.0h0M629.2 257.6h0M628.8 257.6h0M629.3 255.5h0M627.2 254.5h0M627.1 254.8h0M626.2 253.9h0M625.8 253.1h0M625.2 251.9h0M624.5 251.7h0M624.2 250.0h0M622.6 250.1h0M621.4 249.2h0M620.8 248.9h0M619.4 248.7h0M619.0 248.8h0M617.6 248.4h0M617.2 248.4h0M617.6 250.2h0M645.0 242.4h0M644.9 241.8h0M644.9 239.9h0M645.5 238.3h0M646.6 238.0h0M645.5 237.5h0M647.2 236.5h0M647.7 237.6h0M647.4 238.0h0M646.2 239.2h0M625.5 251.9h0M625.8 254.0h0M625.8 252.4h0M628.4 252.5h0M628.4 252.1h0M629.6 252.5h0M630.5 251.0h0M628.5 249.8h0M627.5 250.9h0M627.6 251.7h0M627.3 252.8h0M628.8 254.5h0M628.0 254.4h0M627.6 255.8h0M628.6 257.7h0M628.1 258.9h0M627.7 258.8h0M629.8 260.3h0M628.5 260.8h0M628.5 277.4h0M628.3 278.5h0M626.8 280.2h0M628.6 280.0h0M628.6 281.2h0M627.7 280.2h0M628.1 279.4h0M628.1 278.3h0M627.2 277.6h0M626.9 276.3h0M628.3 275.4h0M627.5 275.5h0M625.7 274.9h0M625.4 276.3h0M639.8 245.6h0M639.3 245.2h0M638.4 243.8h0M638.4 244.5h0M637.8 242.6h0M636.6 242.5h0M636.2 240.5h0M634.9 240.5h0M634.6 240.0h0M634.2 240.1h0M632.5 240.0h0M631.3 241.2h0M628.1 267.5h0M626.8 267.5h0M625.8 268.3h0M626.0 269.7h0M627.0 268.9h0M627.1 270.6h0M627.6 271.6h0M627.6 271.9h0M627.0 272.5h0M626.5 274.4h0M626.9 275.4h0M624.9 275.2h0M625.6 274.8h0M638.0 241.4h0M638.0 240.9h0M638.2 239.2h0M637.7 237.6h0M638.6 237.5h0M638.4 236.6h0M637.9 234.4h0M639.8 234.9h0M640.2 235.3h0M640.9 237.5h0M642.0 235.6h0M626.8 273.7h0M627.5 274.9h0M628.0 273.8h0M626.5 273.1h0M625.6 272.1h0M626.3 272.5h0M624.4 273.2h0M623.7 273.5h0M623.2 274.4h0M621.8 275.0h0M621.3 275.2h0M620.9 276.9h0M621.9 277.4h0M623.1 278.4h0M622.8 240.4h0M623.0 240.3h0M623.6 239.1h0M622.1 238.1h0M622.3 237.3h0M622.2 235.9h0M621.7 234.2h0M621.3 233.3h0M620.4 233.3h0M619.7 233.8h0M619.3 232.7h0M619.8 231.0h0M619.1 229.4h0M617.0 231.1h0M631.0 226.4h0M630.3 227.2h0M629.4 226.2h0M628.8 227.1h0M627.0 227.7h0M626.2 227.8h0M624.2 226.7h0M624.1 226.7h0M622.8 225.9h0M621.6 226.6h0M623.6 225.3h0M622.2 225.8h0M633.5 226.3h0M633.8 227.1h0M635.1 227.7h0M636.5 227.0h0M636.5 227.6h0M637.4 227.9h0M636.3 229.8h0M637.4 230.6h0M637.7 232.0h0M638.1 231.2h0M639.4 232.3h0M639.9 232.5h0M638.8 232.2h0M638.4 234.6h0M636.7 234.0h0M636.4 236.4h0M637.0 236.7h0M638.5 236.9h0M638.8 237.6h0M626.1 230.6h0M626.4 229.1h0M626.4 227.9h0M626.1 226.6h0M625.5 226.4h0M627.4 226.3h0M628.8 225.7h0M629.0 227.4h0M629.9 228.0h0M630.4 229.1h0M630.3 229.6h0M631.0 230.8h0M630.8 231.7h0M629.3 231.8h0M627.9 231.8h0M628.9 231.9h0M617.6 235.3h0M618.0 236.8h0M619.1 234.7h0M617.4 234.3h0M617.6 234.8h0M615.8 233.7h0M615.4 233.2h0M615.7 231.7h0M614.3 230.6h0M615.2 229.9h0M613.5 229.3h0M613.2 228.5h0M613.1 228.0h0M614.1 227.2h0M613.2 226.1h0M612.1 225.7h0M612.3 226.2h0M612.5 224.1h0M613.0 223.4h0M611.1 222.4h0M612.3 220.7h0M610.8 220.1h0M610.6 219.4h0M611.6 218.1h0M611.3 217.6h0M612.1 216.1h0M612.3 218.2h0M613.1 218.7h0M613.4 220.5h0M612.9 220.4h0M631.8 222.5h0M631.8 222.9h0M630.4 223.0h0M629.5 221.5h0M628.3 222.1h0M629.3 220.2h0M629.0 218.9h0M630.0 218.7h0M631.5 217.8h0M631.5 218.9h0M640.3 235.2h0M640.6 236.0h0M640.9 235.2h0M642.1 234.2h0M642.7 233.5h0M643.4 233.3h0M643.0 231.8h0M622.3 233.5h0M621.3 234.2h0M621.4 234.9h0M619.9 234.8h0M619.6 235.7h0M619.8 236.8h0M620.3 237.6h0M621.5 237.5h0M621.2 238.7h0M621.1 240.3h0M622.4 240.8h0M623.8 240.2h0M624.0 240.3h0M624.4 238.6h0M624.3 237.7h0M624.7 237.3h0M623.2 236.4h0M623.2 237.2h0M622.9 238.3h0M622.5 239.2h0M621.4 239.5h0M608.0 243.0h0M607.8 244.6h0M607.8 245.3h0M607.6 246.7h0M608.5 246.9h0M607.5 249.1h0M606.0 248.8h0M605.6 249.8h0M605.0 251.0h0M605.2 251.7h0M605.0 253.0h0M616.5 216.8h0M615.6 216.2h0M615.2 216.0h0M614.3 214.9h0M615.0 213.1h0M616.8 213.1h0M617.4 213.8h0M617.8 212.6h0M618.8 214.1h0M618.9 214.4h0M619.2 215.7h0M618.1 215.2h0M616.7 214.8h0M616.3 215.7h0M615.0 216.3h0M611.5 212.2h0M612.3 213.6h0M613.1 213.0h0M613.2 212.6h0M613.6 213.1h0M612.4 214.0h0M613.1 212.6h0M613.9 213.6h0M614.2 214.5h0M614.4 215.3h0M614.5 216.6h0M634.0 231.8h0M632.6 230.4h0M632.1 231.4h0M631.9 232.6h0M631.8 233.5h0M632.5 234.4h0M633.7 234.7h0M634.6 235.4h0M635.9 234.8h0M636.1 234.3h0M634.6 233.6h0M634.4 233.7h0M636.5 231.6h0M636.8 231.3h0M636.6 230.3h0M636.6 229.4h0M636.8 228.1h0M636.2 227.8h0M637.8 226.1h0M606.1 232.8h0M605.1 234.2h0M603.8 234.9h0M603.1 235.3h0M604.2 236.1h0M603.8 236.2h0M604.7 236.7h0M606.4 236.8h0M607.0 235.3h0M608.5 235.1h0M608.9 235.4h0M608.6 233.2h0M608.0 232.4h0M606.7 233.0h0M606.8 232.8h0M605.1 231.8h0M605.2 230.6h0M604.7 230.1h0M617.2 219.7h0M615.8 220.8h0M617.1 221.1h0M617.1 222.5h0M616.9 222.9h0M617.4 223.3h0M618.2 225.1h0M619.6 226.2h0M620.5 227.1h0M620.0 226.0h0M618.8 225.5h0M617.0 224.9h0M616.7 225.2h0M618.2 223.0h0M617.7 224.2h0M618.3 224.3h0M619.8 222.4h0M605.5 226.6h0M606.3 228.5h0M606.0 227.8h0M606.3 229.2h0M607.4 230.3h0M608.6 230.2h0M609.6 231.5h0M609.4 232.1h0M608.5 231.6h0M608.0 233.1h0M607.5 234.4h0M609.2 235.7h0M609.6 236.4h0M614.4 233.0h0M613.9 233.6h0M612.6 235.1h0M613.7 235.5h0M613.8 237.0h0M613.9 238.0h0M615.7 238.7h0M616.8 238.0h0M615.9 236.7h0M615.8 236.1h0M615.8 235.1h0M614.5 233.8h0M614.3 232.2h0M613.7 231.7h0M612.3 231.9h0M610.5 230.4h0M610.4 231.6h0M609.9 232.1h0M619.6 230.0h0M619.5 228.2h0M620.1 228.3h0M621.4 228.9h0M621.5 227.1h0M623.4 226.6h0M623.1 226.1h0M624.4 226.3h0M624.1 228.2h0M624.6 228.3h0M624.9 230.3h0M625.3 230.3h0M622.7 231.3h0M624.9 232.4h0M624.3 230.9h0M625.7 229.8h0M626.5 229.6h0M601.9 229.2h0M600.7 229.5h0M599.5 229.4h0M598.8 228.2h0M598.1 228.1h0M597.1 228.0h0M596.7 228.6h0M595.2 227.9h0M596.0 226.0h0M596.2 225.7h0M594.7 224.2h0M594.4 222.8h0M594.6 222.4h0M594.1 221.2h0M595.8 220.0h0M595.8 220.3h0M597.4 220.5h0M597.6 219.8h0M597.0 218.0h0M629.8 217.2h0M628.4 216.7h0M628.5 216.4h0M627.7 216.4h0M626.4 216.0h0M626.2 215.4h0M625.4 216.3h0M625.7 218.2h0M625.2 218.3h0M625.8 219.9h0M625.5 221.5h0M625.5 223.2h0M615.9 221.8h0M614.9 222.2h0M613.9 221.2h0M612.5 220.6h0M612.5 220.4h0M611.7 220.8h0M610.5 220.9h0M609.4 219.5h0M609.7 218.3h0M610.5 217.7h0M610.3 216.4h0M609.6 215.2h0M608.7 214.6h0M608.2 215.8h0M609.3 216.0h0M608.4 217.1h0M609.0 218.1h0M609.4 218.9h0M621.3 243.7h0M622.3 243.7h0M623.4 246.0h0M623.3 245.8h0M624.0 245.2h0M623.8 245.9h0M626.3 245.8h0M627.4 245.8h0M628.3 246.0h0M628.1 247.1h0M627.2 248.4h0M628.7 249.5h0M628.5 249.8h0M628.0 250.6h0M628.1 251.3h0M629.5 251.3h0M629.8 250.1h0M632.1 250.5h0M632.4 251.0h0M633.3 251.2h0M600.9 226.0h0M600.7 225.4h0M599.6 223.8h0M599.0 223.4h0M598.2 223.1h0M596.4 223.2h0M595.1 222.9h0M595.0 221.3h0M595.0 221.6h0M595.8 220.5h0M596.8 220.3h0M598.1 220.7h0M597.9 220.8h0M598.2 222.1h0M598.9 221.7h0M598.4 222.6h0M597.4 222.4h0M595.8 222.1h0M595.0 222.3h0M632.5 229.7h0M634.0 230.9h0M634.4 231.1h0M633.8 232.1h0M633.3 233.4h0M633.1 234.0h0M631.9 235.2h0M631.9 236.3h0M633.0 236.5h0M633.6 238.0h0M635.1 237.8h0M635.3 237.0h0M637.0 237.2h0M636.7 235.4h0M637.6 234.3h0M637.8 233.8h0M638.7 234.8h0M601.2 209.4h0M620.4 226.2h0M619.4 226.7h0M619.3 227.3h0M619.9 228.2h0M619.5 230.0h0M619.1 229.7h0M618.2 228.5h0M618.6 228.5h0M618.0 226.4h0M618.9 225.1h0M618.7 224.2h0M618.0 225.2h0M617.2 226.0h0M632.1 219.4h0M630.2 219.1h0M630.2 218.2h0M631.4 216.7h0M626.6 224.5h0M624.9 223.8h0M624.3 224.9h0M623.0 223.9h0M621.0 224.8h0M621.7 226.0h0M623.2 227.0h0M623.6 225.1h0M624.3 225.7h0M625.7 225.0h0M626.4 225.3h0M627.5 225.1h0M627.4 224.6h0M604.6 211.5h0M603.8 211.3h0M602.8 210.5h0M602.7 209.4h0M609.3 224.4h0M609.0 225.1h0M608.8 226.5h0M610.5 227.7h0M609.2 228.6h0M608.3 229.8h0M609.7 230.4h0M608.0 231.8h0M607.2 232.0h0M607.0 233.9h0M607.1 233.7h0M606.7 234.6h0M606.2 236.7h0M605.3 237.1h0M605.6 237.3h0M605.3 238.5h0M605.6 240.3h0M606.8 240.8h0M602.9 211.2h0M604.3 212.1h0M604.3 211.3h0M603.7 209.3h0"/>
<path transform="translate(0 156.00)" stroke="#00EE00" stroke-width="1.3" stroke-linecap="square" fill="none" d="M599.2 257.9h0M597.8 260.5h0M595.4 259.4h0M569.2 253.4h0M604.4 227.0h0M594.7 260.2h0M594.0 258.6h0M593.1 256.9h0M592.6 254.2h0M597.5 250.4h0M596.7 255.6h0M573.2 253.9h0M601.1 228.8h0M599.8 229.1h0M598.9 227.4h0M583.9 229.5h0M586.4 231.7h0M578.7 227.9h0M604.7 254.8h0M605.4 253.0h0M580.9 229.6h0M580.5 230.3h0M609.6 230.8h0M609.6 231.8h0M610.3 229.6h0M610.0 227.9h0M605.3 246.5h0M607.0 227.1h0M594.2 257.6h0M581.1 244.5h0M582.8 243.6h0M581.7 243.4h0M579.0 244.7h0M580.3 245.6h0M582.6 224.4h0M582.0 228.4h0M581.0 228.3h0M579.7 234.9h0M572.9 256.5h0M593.5 258.8h0M597.3 260.5h0M595.5 257.1h0M596.7 251.7h0M598.6 264.1h0M596.7 257.6h0M579.8 238.1h0M597.9 231.0h0M607.4 230.5h0M606.9 232.9h0M588.4 231.3h0M598.0 229.3h0M576.3 239.0h0M580.7 237.4h0M596.1 251.0h0M598.4 251.4h0M571.0 256.7h0M611.3 231.2h0M603.6 225.8h0M605.2 224.4h0M606.0 248.8h0M605.0 251.0h0M603.8 236.2h0M607.0 235.3h0M608.6 233.2h0M607.4 230.3h0M608.5 231.6h0M609.9 232.1h0M608.0 231.8h0"/>
<path transform="translate(0 156.00)" stroke="#EE0000" stroke-width="1.3" stroke-linecap="square" fill="none" d="M630.7 268.8h0M640.3 234.6h0M637.3 236.3h0M618.8 267.1h0M616.4 268.3h0M618.6 258.1h0M623.6 256.9h0M619.8 256.1h0M619.9 256.8h0M614.9 263.5h0M614.9 263.3h0M616.9 264.1h0M619.3 265.1h0M608.0 282.2h0M607.0 283.3h0M622.8 244.6h0M623.4 263.9h0M614.3 263.0h0M634.0 269.4h0M637.4 272.5h0M643.6 249.5h0M650.2 248.0h0M622.6 259.6h0M629.3 264.1h0M630.7 265.1h0M638.9 232.3h0M643.4 234.1h0M629.5 232.2h0M624.6 229.5h0M624.1 218.7h0M632.1 279.4h0M631.0 283.4h0M629.3 283.5h0M622.5 254.3h0M631.7 253.9h0M613.5 266.5h0M614.0 261.4h0M626.2 246.5h0M630.0 246.1h0M633.0 242.6h0M634.5 240.6h0M619.4 228.2h0M637.8 251.8h0M637.9 254.1h0M640.0 256.3h0M635.3 263.4h0M635.9 263.7h0M639.6 264.3h0M640.9 267.9h0M642.0 270.3h0M606.5 281.7h0M605.5 275.5h0M637.0 250.4h0M639.0 248.3h0M638.9 249.6h0M638.4 250.9h0M621.4 279.8h0M621.2 276.2h0M620.7 275.7h0M628.8 267.8h0M620.2 263.8h0M620.4 266.5h0M625.6 237.0h0M624.9 238.2h0M605.4 288.0h0M616.3 276.4h0M617.0 273.8h0M617.4 271.1h0M616.9 269.5h0M634.4 233.5h0M633.4 233.7h0M629.1 233.6h0M613.5 219.1h0M622.6 216.2h0M623.5 285.5h0M649.1 249.2h0M646.9 249.5h0M642.7 248.3h0M635.8 233.2h0M637.2 229.9h0M636.1 228.7h0M603.6 281.4h0M600.9 283.6h0M650.9 244.8h0M649.9 244.3h0M623.2 248.0h0M624.9 248.5h0M629.2 251.4h0M631.0 254.4h0M623.9 255.0h0M621.1 257.6h0M617.6 262.5h0M615.7 215.3h0M619.6 214.3h0M621.1 215.6h0M622.0 216.4h0M619.9 246.5h0M625.6 246.5h0M624.6 225.0h0M604.6 283.4h0M628.2 262.4h0M636.7 267.3h0M621.4 248.7h0M620.9 255.3h0M620.3 256.4h0M619.0 262.2h0M617.5 263.0h0M648.9 262.5h0M643.4 270.4h0M630.1 271.6h0M630.1 276.0h0M631.0 274.3h0M632.1 273.1h0M607.2 273.3h0M606.0 272.4h0M635.7 242.5h0M635.0 243.1h0M641.3 249.7h0M623.8 227.0h0M651.9 252.6h0M650.7 250.3h0M651.6 249.1h0M648.7 247.1h0M612.5 278.3h0M614.0 268.1h0M619.7 228.6h0M620.4 229.2h0M622.2 229.7h0M619.3 282.3h0M619.4 281.3h0M619.1 281.0h0M617.0 278.8h0M616.7 279.3h0M645.6 259.7h0M646.9 265.3h0M630.7 276.3h0M644.7 236.7h0M646.3 237.8h0M632.1 279.3h0M628.8 280.2h0M632.8 229.6h0M642.9 262.0h0M646.1 262.8h0M647.1 259.8h0M649.2 259.4h0M608.8 287.9h0M608.8 283.2h0M630.7 246.0h0M631.3 244.5h0M638.1 250.8h0M639.5 251.0h0M634.0 247.3h0M638.9 253.4h0M638.5 253.9h0M636.4 252.6h0M622.8 245.5h0M624.0 249.9h0M629.1 253.0h0M632.2 255.1h0M634.1 255.8h0M622.2 272.1h0M613.9 271.7h0M642.2 270.9h0M614.6 288.2h0M617.2 280.4h0M621.5 284.8h0M609.1 270.8h0M612.2 281.7h0M617.6 278.4h0M645.4 267.3h0M629.2 220.2h0M615.5 218.7h0M614.6 218.2h0M615.6 220.7h0M619.4 221.5h0M620.7 221.9h0M636.1 263.3h0M634.8 263.8h0M623.8 253.2h0M638.3 260.4h0M622.4 234.4h0M637.2 271.9h0M646.4 254.8h0M635.0 228.9h0M631.7 231.6h0M638.0 270.9h0M607.0 283.5h0M638.8 241.1h0M637.4 237.2h0M631.9 238.7h0M636.2 244.1h0M624.8 278.6h0M625.6 279.6h0M623.9 282.0h0M622.8 283.1h0M621.7 285.6h0M631.3 274.3h0M629.2 268.0h0M604.0 288.7h0M605.8 287.9h0M604.6 284.3h0M604.0 283.0h0M630.6 240.6h0M630.9 238.2h0M631.0 240.8h0M634.8 241.7h0M634.2 273.6h0M634.3 269.6h0M632.0 245.8h0M631.3 246.2h0M628.0 240.8h0M629.1 239.0h0M608.1 269.8h0M630.1 269.9h0M645.7 260.5h0M646.6 262.4h0M651.1 261.9h0M612.5 283.5h0M622.5 257.0h0M630.1 279.7h0M631.7 278.6h0M636.3 242.4h0M636.3 242.6h0M637.1 244.5h0M642.5 239.3h0M648.4 239.0h0M618.8 273.9h0M621.8 274.6h0M622.6 276.8h0M617.8 280.8h0M627.4 239.5h0M625.8 240.3h0M625.0 245.6h0M640.3 272.1h0M637.9 242.4h0M641.5 247.5h0M627.8 241.0h0M632.4 236.2h0M633.0 237.1h0M626.3 241.4h0M621.5 278.4h0M627.1 281.3h0M628.1 263.8h0M623.2 263.1h0M621.3 264.3h0M644.8 247.5h0M643.9 246.2h0M639.7 244.7h0M630.0 239.2h0M633.3 243.1h0M619.5 261.8h0M619.9 262.2h0M635.7 239.1h0M640.7 238.0h0M641.2 238.7h0M638.0 253.5h0M633.7 256.9h0M645.0 248.7h0M645.4 251.1h0M627.9 237.0h0M633.1 234.6h0M634.6 232.9h0M628.7 251.5h0M611.1 274.7h0M608.8 277.3h0M607.9 281.8h0M615.6 278.8h0M610.2 280.1h0M609.1 279.5h0M632.9 256.0h0M633.9 246.9h0M638.6 247.3h0M645.1 241.7h0M624.8 276.9h0M623.8 275.5h0M635.6 230.0h0M638.2 227.3h0M632.5 255.6h0M636.4 255.7h0M641.7 251.4h0M643.1 251.6h0M642.1 239.5h0M641.7 243.5h0M636.3 233.4h0M632.5 238.8h0M630.5 239.5h0M632.7 267.1h0M630.0 271.5h0M629.5 272.4h0M625.8 253.1h0M647.4 238.0h0M627.6 255.8h0M628.6 281.2h0M628.1 279.4h0M634.9 240.5h0M623.6 225.3h0M635.1 227.7h0M631.5 218.9h0M642.1 234.2h0M614.3 214.9h0M616.7 214.8h0M635.9 234.8h0M636.8 231.3h0M636.6 230.3h0M636.8 228.1h0M615.8 220.8h0M617.4 223.3h0M618.2 223.0h0M621.4 228.9h0M627.7 216.4h0M625.7 218.2h0M625.8 219.9h0M615.9 221.8h0M626.3 245.8h0M628.1 247.1h0M628.7 249.5h0M633.3 251.2h0M631.9 236.3h0M637.0 237.2h0M637.6 234.3h0M618.6 228.5h0M626.6 224.5h0M625.7 225.0h0M627.4 216.2h0M631.0 219.2h0M630.1 215.9h0M631.6 218.9h0M633.4 218.7h0M628.9 214.5h0M630.6 219.7h0M631.6 214.9h0M633.6 217.9h0M629.4 217.4h0M631.9 216.8h0M627.8 220.3h0M631.3 215.5h0M630.9 221.1h0M628.6 219.2h0M628.8 216.9h0M631.0 218.7h0M627.8 216.0h0M628.6 221.2h0M631.9 213.7h0M626.4 222.0h0M633.2 217.1h0M630.3 217.1h0M634.7 221.7h0M632.7 220.2h0M631.0 213.9h0M636.7 220.6h0M629.3 218.5h0M630.8 220.1h0M627.2 213.9h0M631.6 220.1h0M629.4 213.6h0M630.2 216.2h0M632.0 217.7h0M630.9 213.9h0M634.1 213.1h0M631.2 216.5h0M631.8 220.9h0M631.7 218.0h0M630.8 220.6h0M646.0 237.0h0M646.7 251.4h0M646.6 260.1h0M643.1 265.6h0M646.3 258.7h0M647.7 249.0h0M645.9 235.2h0M647.9 243.4h0M649.0 247.4h0M647.5 255.1h0M648.0 249.2h0M645.5 254.0h0M641.7 258.9h0M646.1 254.2h0M647.0 251.5h0M643.4 237.0h0M650.1 253.0h0M647.0 250.8h0M643.2 263.4h0M647.3 268.7h0M643.2 260.0h0M646.6 242.6h0M643.1 253.3h0M645.3 248.9h0M642.8 254.5h0M645.8 253.6h0M644.3 263.8h0M645.9 260.0h0M649.4 239.5h0M647.8 261.1h0M644.2 257.7h0M647.7 266.9h0M643.0 253.0h0M648.1 248.8h0M644.3 255.6h0M645.0 254.8h0M643.5 257.8h0M639.5 256.5h0M642.7 247.4h0M649.9 265.0h0M644.0 250.7h0M647.1 254.8h0M644.4 255.2h0M649.9 257.8h0M646.9 252.9h0M599.5 289.8h0M600.7 289.2h0M603.9 292.0h0M602.3 291.1h0M605.5 291.0h0M601.1 291.5h0M602.8 291.4h0M600.8 291.2h0M605.0 291.9h0M605.3 290.8h0M601.4 291.5h0M600.3 291.3h0M601.7 291.3h0M606.5 291.5h0M598.6 291.2h0M602.5 290.8h0M602.7 291.4h0M599.8 289.0h0M622.3 283.0h0M629.8 286.2h0M627.9 289.8h0M620.6 284.9h0M627.8 285.1h0M622.5 289.1h0M627.5 288.6h0M624.2 287.5h0M630.5 285.4h0M629.6 285.6h0M624.5 285.2h0M625.4 286.9h0M625.0 292.7h0M627.5 286.7h0M620.5 282.8h0M623.8 293.4h0M624.9 289.0h0M630.6 290.5h0M628.1 284.8h0M621.9 284.8h0M625.2 283.8h0M619.6 287.6h0M632.4 284.4h0M627.7 290.7h0M628.7 287.6h0M625.7 285.4h0M631.0 286.1h0M625.6 291.3h0M627.2 282.2h0M623.7 285.0h0"/>
<text x="502.50" y="341.90" font-size="22.5">H</text>
<text x="606.20" y="345.70" font-size="10.9" text-anchor="middle" font-weight="bold">Validated regions</text>
<line x1="551.50" y1="359.30" x2="551.50" y2="454.30" stroke="#333" stroke-width="0.9"/>
<line x1="551.10" y1="453.90" x2="655.80" y2="453.90" stroke="#333" stroke-width="0.9"/>
<line x1="549.30" y1="359.50" x2="551.50" y2="359.50" stroke="#333" stroke-width="0.8"/>
<text x="544.10" y="361.65" font-size="10.2" text-anchor="end">50</text>
<line x1="549.30" y1="384.40" x2="551.50" y2="384.40" stroke="#333" stroke-width="0.8"/>
<text x="544.10" y="385.75" font-size="10.2" text-anchor="end">25</text>
<line x1="549.30" y1="408.50" x2="551.50" y2="408.50" stroke="#333" stroke-width="0.8"/>
<text x="538.10" y="410.36" font-size="5.2" text-anchor="end">o</text>
<line x1="549.30" y1="432.40" x2="551.50" y2="432.40" stroke="#333" stroke-width="0.8"/>
<text x="547.60" y="433.95" font-size="10.2" text-anchor="end">−25</text>
<line x1="556.40" y1="453.90" x2="556.40" y2="456.60" stroke="#333" stroke-width="0.8"/>
<text x="558.10" y="467.96" font-size="10.5" text-anchor="middle">−60</text>
<line x1="581.30" y1="453.90" x2="581.30" y2="456.60" stroke="#333" stroke-width="0.8"/>
<text x="583.00" y="467.96" font-size="10.5" text-anchor="middle">−30</text>
<line x1="606.30" y1="453.90" x2="606.30" y2="456.60" stroke="#333" stroke-width="0.8"/>
<text x="604.50" y="467.96" font-size="10.5" text-anchor="middle">0</text>
<line x1="630.80" y1="453.90" x2="630.80" y2="456.60" stroke="#333" stroke-width="0.8"/>
<text x="630.40" y="467.96" font-size="10.5" text-anchor="middle">30</text>
<line x1="655.70" y1="453.90" x2="655.70" y2="456.60" stroke="#333" stroke-width="0.8"/>
<text x="655.50" y="467.96" font-size="10.5" text-anchor="middle">60</text>
<text x="608.70" y="481.90" font-size="10.9" text-anchor="middle">tSNE_1</text>
<text transform="translate(522.90 398.20) rotate(-90)" x="0" y="3.90" font-size="10.9" text-anchor="middle" fill="#000">tSNE_2</text>
<circle cx="656.20" cy="358.70" r="2.0" fill="#C0C0C0"/>
<text x="663.00" y="360.89" font-size="10.3">NA</text>
<circle cx="656.20" cy="369.20" r="2.0" fill="#00EE00"/>
<text x="663.00" y="371.39" font-size="10.3">NES</text>
<circle cx="656.20" cy="379.70" r="2.0" fill="#EE0000"/>
<text x="663.00" y="381.89" font-size="10.3">NLS</text>
<text x="597.60" y="401.70" font-size="10.9" text-anchor="middle">NES</text>
<text x="633.20" y="423.60" font-size="10.9" text-anchor="middle">NLS</text>
<text x="0.00" y="518.70" font-size="22.5">I</text>
<rect x="52.90" y="604.40" width="16.10" height="21.10" fill="#F8766D"/>
<rect x="69.00" y="523.50" width="15.90" height="102.00" fill="#00BFC4"/>
<rect x="88.90" y="619.60" width="16.10" height="5.90" fill="#F8766D"/>
<rect x="105.00" y="579.80" width="16.10" height="45.70" fill="#00BFC4"/>
<line x1="47.20" y1="523.50" x2="47.20" y2="625.90" stroke="#444" stroke-width="0.8"/>
<line x1="46.80" y1="625.50" x2="126.20" y2="625.50" stroke="#444" stroke-width="0.8"/>
<line x1="44.50" y1="625.50" x2="47.20" y2="625.50" stroke="#444" stroke-width="0.8"/>
<text x="41.70" y="628.72" font-size="10.1" text-anchor="end" fill="#4D4D4D">0</text>
<line x1="44.50" y1="592.50" x2="47.20" y2="592.50" stroke="#444" stroke-width="0.8"/>
<text x="41.70" y="595.72" font-size="10.1" text-anchor="end" fill="#4D4D4D">1000</text>
<line x1="44.50" y1="559.50" x2="47.20" y2="559.50" stroke="#444" stroke-width="0.8"/>
<text x="41.70" y="562.72" font-size="10.1" text-anchor="end" fill="#4D4D4D">2000</text>
<line x1="44.50" y1="526.50" x2="47.20" y2="526.50" stroke="#444" stroke-width="0.8"/>
<text x="41.70" y="529.72" font-size="10.1" text-anchor="end" fill="#4D4D4D">3000</text>
<line x1="69.10" y1="625.50" x2="69.10" y2="628.20" stroke="#444" stroke-width="0.8"/>
<text x="69.10" y="638.92" font-size="10.1" text-anchor="middle" fill="#4D4D4D">NLS</text>
<line x1="105.00" y1="625.50" x2="105.00" y2="628.20" stroke="#444" stroke-width="0.8"/>
<text x="105.00" y="638.92" font-size="10.1" text-anchor="middle" fill="#4D4D4D">NES</text>
<text transform="translate(13.00 567.10) rotate(-90)" x="0" y="3.72" font-size="10.4" text-anchor="middle" fill="#000">Number</text>
<rect x="95.50" y="531.10" width="11.20" height="10.40" fill="#F8766D"/>
<text x="111.40" y="540.30" font-size="10.9">Validated</text>
<rect x="95.50" y="548.20" width="11.20" height="10.40" fill="#00BFC4"/>
<text x="111.40" y="557.30" font-size="10.9">Predicted</text>
<text x="153.60" y="518.60" font-size="22.5">J</text>
<rect x="207.80" y="519.80" width="125.30" height="106.80" fill="#fff"/>
<line x1="207.80" y1="606.23" x2="333.10" y2="606.23" stroke="#F2F2F2" stroke-width="0.5"/>
<line x1="207.80" y1="574.69" x2="333.10" y2="574.69" stroke="#F2F2F2" stroke-width="0.5"/>
<line x1="207.80" y1="543.15" x2="333.10" y2="543.15" stroke="#F2F2F2" stroke-width="0.5"/>
<line x1="224.77" y1="519.80" x2="224.77" y2="626.60" stroke="#F2F2F2" stroke-width="0.5"/>
<line x1="248.71" y1="519.80" x2="248.71" y2="626.60" stroke="#F2F2F2" stroke-width="0.5"/>
<line x1="272.65" y1="519.80" x2="272.65" y2="626.60" stroke="#F2F2F2" stroke-width="0.5"/>
<line x1="296.59" y1="519.80" x2="296.59" y2="626.60" stroke="#F2F2F2" stroke-width="0.5"/>
<line x1="320.53" y1="519.80" x2="320.53" y2="626.60" stroke="#F2F2F2" stroke-width="0.5"/>
<line x1="207.80" y1="622.00" x2="333.10" y2="622.00" stroke="#EBEBEB" stroke-width="0.9"/>
<line x1="207.80" y1="590.46" x2="333.10" y2="590.46" stroke="#EBEBEB" stroke-width="0.9"/>
<line x1="207.80" y1="558.92" x2="333.10" y2="558.92" stroke="#EBEBEB" stroke-width="0.9"/>
<line x1="207.80" y1="527.38" x2="333.10" y2="527.38" stroke="#EBEBEB" stroke-width="0.9"/>
<line x1="212.80" y1="519.80" x2="212.80" y2="626.60" stroke="#EBEBEB" stroke-width="0.9"/>
<line x1="236.74" y1="519.80" x2="236.74" y2="626.60" stroke="#EBEBEB" stroke-width="0.9"/>
<line x1="260.68" y1="519.80" x2="260.68" y2="626.60" stroke="#EBEBEB" stroke-width="0.9"/>
<line x1="284.62" y1="519.80" x2="284.62" y2="626.60" stroke="#EBEBEB" stroke-width="0.9"/>
<line x1="308.56" y1="519.80" x2="308.56" y2="626.60" stroke="#EBEBEB" stroke-width="0.9"/>
<line x1="332.50" y1="519.80" x2="332.50" y2="626.60" stroke="#EBEBEB" stroke-width="0.9"/>
<path d="M212.8 605.3 L237.6 596.6 L261.0 583.4 L281.4 571.8 L304.7 557.2 L328.1 543.4 L328.1 580.5 L304.7 574.7 L281.4 583.4 L261.0 593.6 L237.6 606.8 L212.8 622.8 Z" fill="#999999" fill-opacity="0.45"/>
<line x1="212.80" y1="614.10" x2="328.10" y2="561.50" stroke="#F0604D" stroke-width="0.9"/>
<circle cx="212.8" cy="575.3" r="1.45" fill="#E8221F"/>
<circle cx="212.8" cy="606.8" r="1.45" fill="#E8221F"/>
<circle cx="212.8" cy="622.3" r="1.45" fill="#E8221F"/>
<circle cx="222.1" cy="597.4" r="1.45" fill="#E8221F"/>
<circle cx="222.1" cy="606.8" r="1.45" fill="#E8221F"/>
<circle cx="222.1" cy="622.3" r="1.45" fill="#E8221F"/>
<circle cx="227.4" cy="597.4" r="1.45" fill="#E8221F"/>
<circle cx="227.4" cy="606.8" r="1.45" fill="#E8221F"/>
<circle cx="227.4" cy="622.3" r="1.45" fill="#E8221F"/>
<circle cx="231.5" cy="578.2" r="1.45" fill="#E8221F"/>
<circle cx="231.5" cy="591.0" r="1.45" fill="#E8221F"/>
<circle cx="231.5" cy="606.8" r="1.45" fill="#E8221F"/>
<circle cx="231.5" cy="622.3" r="1.45" fill="#E8221F"/>
<circle cx="236.7" cy="582.0" r="1.45" fill="#E8221F"/>
<circle cx="240.8" cy="606.8" r="1.45" fill="#E8221F"/>
<circle cx="248.4" cy="597.4" r="1.45" fill="#E8221F"/>
<circle cx="248.4" cy="622.3" r="1.45" fill="#E8221F"/>
<circle cx="249.3" cy="591.0" r="1.45" fill="#E8221F"/>
<circle cx="250.1" cy="585.8" r="1.45" fill="#E8221F"/>
<circle cx="256.0" cy="524.5" r="1.45" fill="#E8221F"/>
<circle cx="256.9" cy="622.3" r="1.45" fill="#E8221F"/>
<circle cx="263.0" cy="572.9" r="1.45" fill="#E8221F"/>
<circle cx="265.9" cy="591.0" r="1.45" fill="#E8221F"/>
<circle cx="265.9" cy="622.3" r="1.45" fill="#E8221F"/>
<circle cx="267.4" cy="622.3" r="1.45" fill="#E8221F"/>
<circle cx="270.9" cy="585.8" r="1.45" fill="#E8221F"/>
<circle cx="284.9" cy="524.5" r="1.45" fill="#E8221F"/>
<circle cx="299.8" cy="622.3" r="1.45" fill="#E8221F"/>
<circle cx="306.5" cy="558.3" r="1.45" fill="#E8221F"/>
<circle cx="325.5" cy="597.4" r="1.45" fill="#E8221F"/>
<circle cx="327.2" cy="562.4" r="1.45" fill="#E8221F"/>
<text x="331.00" y="527.14" font-size="8.2" text-anchor="end" fill="#222">zf−H2C2_2</text>
<text x="319.30" y="533.84" font-size="8.2" text-anchor="end" fill="#222">Homeodomain</text>
<text x="329.60" y="555.74" font-size="8.2" text-anchor="end" fill="#222">zf−H2C2_5</text>
<text x="331.00" y="571.14" font-size="8.2" text-anchor="end" fill="#222">zf−C2H2</text>
<rect x="207.80" y="519.80" width="125.30" height="106.80" fill="none" stroke="#999" stroke-width="0.9"/>
<line x1="205.10" y1="622.00" x2="207.80" y2="622.00" stroke="#333" stroke-width="0.8"/>
<text x="203.60" y="625.90" font-size="10.9" text-anchor="end" fill="#4D4D4D">0</text>
<line x1="205.10" y1="590.46" x2="207.80" y2="590.46" stroke="#333" stroke-width="0.8"/>
<text x="203.60" y="594.36" font-size="10.9" text-anchor="end" fill="#4D4D4D">2</text>
<line x1="205.10" y1="558.92" x2="207.80" y2="558.92" stroke="#333" stroke-width="0.8"/>
<text x="203.60" y="562.82" font-size="10.9" text-anchor="end" fill="#4D4D4D">4</text>
<line x1="205.10" y1="527.38" x2="207.80" y2="527.38" stroke="#333" stroke-width="0.8"/>
<text x="203.60" y="531.28" font-size="10.9" text-anchor="end" fill="#4D4D4D">6</text>
<line x1="212.80" y1="626.60" x2="212.80" y2="629.30" stroke="#333" stroke-width="0.8"/>
<text x="212.80" y="638.50" font-size="10.9" text-anchor="middle" fill="#4D4D4D">0.0</text>
<line x1="236.74" y1="626.60" x2="236.74" y2="629.30" stroke="#333" stroke-width="0.8"/>
<text x="236.74" y="638.50" font-size="10.9" text-anchor="middle" fill="#4D4D4D">2.5</text>
<line x1="260.68" y1="626.60" x2="260.68" y2="629.30" stroke="#333" stroke-width="0.8"/>
<text x="260.68" y="638.50" font-size="10.9" text-anchor="middle" fill="#4D4D4D">5.0</text>
<line x1="284.62" y1="626.60" x2="284.62" y2="629.30" stroke="#333" stroke-width="0.8"/>
<text x="284.62" y="638.50" font-size="10.9" text-anchor="middle" fill="#4D4D4D">7.5</text>
<line x1="308.56" y1="626.60" x2="308.56" y2="629.30" stroke="#333" stroke-width="0.8"/>
<text x="308.56" y="638.50" font-size="10.9" text-anchor="middle" fill="#4D4D4D">10.0</text>
<line x1="332.50" y1="626.60" x2="332.50" y2="629.30" stroke="#333" stroke-width="0.8"/>
<text x="332.50" y="638.50" font-size="10.9" text-anchor="middle" fill="#4D4D4D">12.5</text>
<text x="206.90" y="515.48" font-size="10">R = 0.558</text>
<text x="255.10" y="515.48" font-size="10">p = 1.4e-5</text>
<text x="275.50" y="650.20" font-size="10.9" text-anchor="middle">pSAM enriched</text>
<text x="275.50" y="662.80" font-size="10.9" text-anchor="middle">domains</text>
<text transform="translate(179.20 573.20) rotate(-90)" x="0" y="3.90" font-size="10.9" text-anchor="middle" fill="#000">NLSdb enriched</text>
<text transform="translate(192.30 573.20) rotate(-90)" x="0" y="3.90" font-size="10.9" text-anchor="middle" fill="#000">domains</text>
<text x="348.50" y="518.60" font-size="22.5">K</text>
<path d="M402.1 559.0L437.3 598.4L472.7 557.0L508.0 560.1M402.1 556.3L437.3 563.0L472.7 562.5L508.0 554.7M402.1 553.0L437.3 559.4L472.7 577.7L508.0 562.6M402.1 554.6L437.3 561.7L472.7 562.9L508.0 567.3M402.1 558.9L437.3 552.2L472.7 604.0L508.0 586.4M402.1 555.2L437.3 556.8L472.7 603.4L508.0 562.0M402.1 555.0L437.3 558.3L472.7 598.4L508.0 555.1M402.1 557.7L437.3 559.4L472.7 584.2L508.0 582.4M402.1 553.9L437.3 562.6L472.7 621.7L508.0 582.5M402.1 558.5L437.3 594.0L472.7 615.9L508.0 551.5M402.1 555.4L437.3 591.6L472.7 604.0L508.0 586.1M402.1 554.9L437.3 558.1L472.7 616.1L508.0 578.8M402.1 555.2L437.3 579.6L472.7 604.0L508.0 561.0M402.1 554.5L437.3 567.1L472.7 615.6L508.0 553.7M402.1 553.9L437.3 557.9L472.7 601.3L508.0 553.8M402.1 550.7L437.3 559.5L472.7 593.0L508.0 554.8M402.1 555.9L437.3 576.2L472.7 586.8L508.0 558.4M402.1 554.3L437.3 574.7L472.7 571.3L508.0 559.5M402.1 554.0L437.3 587.1L472.7 601.7L508.0 583.2M402.1 555.9L437.3 557.4L472.7 596.0L508.0 553.3M402.1 560.5L437.3 555.6L472.7 565.3L508.0 551.7M402.1 550.4L437.3 588.0L472.7 622.2L508.0 550.1M402.1 555.8L437.3 574.5L472.7 588.4L508.0 564.0M402.1 555.8L437.3 586.2L472.7 614.4L508.0 557.2M402.1 551.7L437.3 559.1L472.7 622.6L508.0 564.8M402.1 554.5L437.3 573.2L472.7 563.6L508.0 553.3M402.1 555.1L437.3 552.4L472.7 580.6L508.0 553.3M402.1 553.5L437.3 574.8L472.7 591.2L508.0 571.1M402.1 560.0L437.3 558.0L472.7 570.7L508.0 568.1M402.1 554.0L437.3 558.3L472.7 557.2L508.0 551.0M402.1 555.5L437.3 551.1L472.7 585.0L508.0 554.4M402.1 558.9L437.3 555.5L472.7 591.8L508.0 571.7M402.1 554.2L437.3 551.3L472.7 623.6L508.0 560.9M402.1 551.1L437.3 560.0L472.7 557.9L508.0 558.0M402.1 556.8L437.3 601.5L472.7 573.8L508.0 553.4M402.1 554.3L437.3 571.7L472.7 615.4L508.0 552.1M402.1 555.8L437.3 554.9L472.7 592.3L508.0 552.4M402.1 553.8L437.3 570.9L472.7 604.4L508.0 576.4M402.1 553.9L437.3 557.6L472.7 558.0L508.0 579.9M402.1 556.6L437.3 589.5L472.7 600.9L508.0 553.9M402.1 552.6L437.3 558.0L472.7 612.5L508.0 553.5M402.1 554.2L437.3 568.7L472.7 562.5L508.0 579.2M402.1 554.1L437.3 551.0L472.7 600.9L508.0 555.2M402.1 552.8L437.3 594.4L472.7 613.5L508.0 552.3M402.1 555.3L437.3 569.9L472.7 618.8L508.0 553.0M402.1 553.7L437.3 554.2L472.7 610.9L508.0 551.7M402.1 551.9L437.3 568.3L472.7 593.1L508.0 554.9M402.1 558.7L437.3 564.7L472.7 604.1L508.0 557.2M402.1 552.3L437.3 571.3L472.7 580.1L508.0 554.2M402.1 555.4L437.3 591.6L472.7 563.3L508.0 553.4M402.1 555.0L437.3 572.0L472.7 612.2L508.0 565.2M402.1 557.9L437.3 552.3L472.7 620.7L508.0 553.1M402.1 554.0L437.3 554.2L472.7 575.4L508.0 560.6M402.1 555.9L437.3 572.5L472.7 580.8L508.0 550.1M402.1 552.0L437.3 557.3L472.7 565.3L508.0 564.9M402.1 555.9L437.3 553.8L472.7 614.4L508.0 552.7M402.1 554.7L437.3 553.7L472.7 579.0L508.0 551.7M402.1 555.4L437.3 596.1L472.7 602.2L508.0 552.7M402.1 554.4L437.3 584.6L472.7 609.2L508.0 554.0M402.1 557.0L437.3 550.8L472.7 596.3L508.0 551.5M402.1 557.3L437.3 574.1L472.7 567.1L508.0 582.5M402.1 553.8L437.3 554.0L472.7 570.1L508.0 560.7M402.1 553.8L437.3 558.5L472.7 568.0L508.0 550.4M402.1 554.6L437.3 552.4L472.7 604.5L508.0 555.1M402.1 551.2L437.3 593.7L472.7 592.0L508.0 561.1M402.1 556.9L437.3 551.2L472.7 609.9L508.0 565.4M402.1 552.3L437.3 552.3L472.7 606.3L508.0 563.3M402.1 557.5L437.3 576.8L472.7 567.7L508.0 585.4M402.1 550.6L437.3 555.8L472.7 615.3L508.0 553.5M402.1 554.4L437.3 601.2L472.7 560.7L508.0 584.4M402.1 554.5L437.3 552.5L472.7 556.4L508.0 553.1M402.1 550.5L437.3 567.2L472.7 592.8L508.0 583.5M402.1 553.2L437.3 554.9L472.7 584.1L508.0 574.1M402.1 553.2L437.3 553.7L472.7 556.4L508.0 557.7M402.1 559.6L437.3 599.1L472.7 577.8L508.0 579.8M402.1 555.5L437.3 552.2L472.7 572.7L508.0 582.8M402.1 559.0L437.3 590.8L472.7 576.7L508.0 550.4M402.1 557.1L437.3 585.6L472.7 619.3L508.0 550.7M402.1 556.7L437.3 565.0L472.7 573.2L508.0 553.9M402.1 552.2L437.3 575.4L472.7 579.0L508.0 553.4M402.1 558.3L437.3 557.9L472.7 598.7L508.0 574.1M402.1 555.8L437.3 581.8L472.7 620.2L508.0 583.4M402.1 555.0L437.3 558.8L472.7 597.9L508.0 565.1M402.1 552.3L437.3 554.3L472.7 586.4L508.0 555.6M402.1 550.6L437.3 550.7L472.7 597.5L508.0 552.9M402.1 554.0L437.3 568.0L472.7 585.0L508.0 557.1M402.1 556.7L437.3 573.7L472.7 595.3L508.0 560.5M402.1 554.7L437.3 560.3L472.7 579.1L508.0 580.5M402.1 554.0L437.3 557.8L472.7 559.0L508.0 572.3M402.1 559.6L437.3 551.4L472.7 622.5L508.0 558.4M402.1 554.1L437.3 560.0L472.7 583.0L508.0 564.4M402.1 555.5L437.3 566.0L472.7 570.7L508.0 558.4M402.1 554.5L437.3 573.2L472.7 621.8L508.0 554.2M402.1 554.2L437.3 555.4L472.7 591.6L508.0 564.4M402.1 554.2L437.3 558.3L472.7 571.1L508.0 550.6M402.1 554.8L437.3 594.3L472.7 579.7L508.0 554.9M402.1 554.7L437.3 573.1L472.7 596.1L508.0 550.4M402.1 557.0L437.3 584.3L472.7 598.6L508.0 556.3M402.1 555.0L437.3 563.1L472.7 621.1L508.0 554.6M402.1 558.3L437.3 568.9L472.7 589.1L508.0 550.2M402.1 555.0L437.3 585.2L472.7 569.8L508.0 560.3M402.1 554.8L437.3 561.8L472.7 569.4L508.0 553.4M402.1 553.4L437.3 557.6L472.7 578.2L508.0 552.7M402.1 555.4L437.3 570.9L472.7 589.4L508.0 566.4M402.1 560.2L437.3 553.0L472.7 604.4L508.0 560.3M402.1 554.8L437.3 591.2L472.7 602.2L508.0 560.5M402.1 556.9L437.3 595.8L472.7 610.2L508.0 576.0M402.1 553.8L437.3 556.0L472.7 599.3L508.0 563.2M402.1 555.4L437.3 560.7L472.7 623.2L508.0 563.5M402.1 555.5L437.3 554.5L472.7 591.9L508.0 552.5M402.1 551.4L437.3 551.2L472.7 573.3L508.0 550.4M402.1 555.4L437.3 562.5L472.7 599.3L508.0 586.2M402.1 555.6L437.3 553.3L472.7 566.6L508.0 554.0M402.1 555.6L437.3 557.9L472.7 586.2L508.0 553.9M402.1 555.0L437.3 562.3L472.7 573.1L508.0 564.0M402.1 558.9L437.3 562.7L472.7 553.4L508.0 552.2M402.1 554.7L437.3 550.2L472.7 615.4L508.0 559.3M402.1 551.2L437.3 570.7L472.7 594.8L508.0 580.2M402.1 554.6L437.3 566.7L472.7 610.8L508.0 582.2M402.1 553.8L437.3 564.1L472.7 613.1L508.0 553.7M402.1 550.8L437.3 558.2L472.7 578.1L508.0 550.4M402.1 552.4L437.3 595.5L472.7 623.3L508.0 554.8M402.1 553.8L437.3 557.8L472.7 584.3L508.0 550.5M402.1 552.9L437.3 597.8L472.7 560.8L508.0 567.9M402.1 552.8L437.3 569.0L472.7 593.8L508.0 568.6M402.1 556.0L437.3 565.8L472.7 579.6L508.0 551.8M402.1 555.0L437.3 560.6L472.7 613.4L508.0 561.8M402.1 555.6L437.3 560.5L472.7 576.0L508.0 553.7M402.1 556.0L437.3 559.4L472.7 574.0L508.0 554.5M402.1 554.6L437.3 599.3L472.7 584.7L508.0 558.9M402.1 555.8L437.3 571.6L472.7 560.8L508.0 553.4M402.1 554.4L437.3 555.0L472.7 586.5L508.0 553.7M402.1 554.6L437.3 567.0L472.7 584.2L508.0 550.2M402.1 558.7L437.3 553.2L472.7 622.3L508.0 551.4M402.1 555.2L437.3 561.4L472.7 569.7L508.0 553.4M402.1 555.4L437.3 560.5L472.7 598.5L508.0 561.3M402.1 554.0L437.3 557.0L472.7 579.2L508.0 554.2M402.1 559.0L437.3 550.4L472.7 589.6L508.0 564.7M402.1 557.5L437.3 601.5L472.7 611.5L508.0 550.8M402.1 554.9L437.3 589.4L472.7 590.4L508.0 553.9M402.1 555.4L437.3 592.5L472.7 559.4L508.0 571.8M402.1 554.2L437.3 580.2L472.7 581.2L508.0 552.4M402.1 555.7L437.3 599.7L472.7 614.9L508.0 552.9M402.1 557.0L437.3 550.3L472.7 587.1L508.0 550.5M402.1 551.1L437.3 586.1L472.7 562.0L508.0 550.2M402.1 556.2L437.3 564.1L472.7 621.6L508.0 555.6M402.1 557.9L437.3 552.2L472.7 623.5L508.0 574.5M402.1 555.9L437.3 564.1L472.7 569.9L508.0 574.6M402.1 555.7L437.3 575.9L472.7 584.4L508.0 585.0M402.1 556.5L437.3 573.4L472.7 576.2L508.0 573.4M402.1 554.8L437.3 566.8L472.7 599.7L508.0 553.1M402.1 551.0L437.3 572.7L472.7 585.9L508.0 586.8M402.1 558.3L437.3 564.3L472.7 612.0L508.0 557.1M402.1 555.3L437.3 567.3L472.7 614.5L508.0 553.8M402.1 554.2L437.3 593.3L472.7 586.4L508.0 570.3M402.1 551.8L437.3 552.3L472.7 566.9L508.0 554.2M402.1 550.1L437.3 550.6L472.7 586.9L508.0 553.9M402.1 558.0L437.3 560.8L472.7 622.3L508.0 554.9M402.1 554.8L437.3 591.9L472.7 623.4L508.0 584.9M402.1 551.8L437.3 551.7L472.7 575.3L508.0 554.3M402.1 559.6L437.3 569.8L472.7 597.2L508.0 578.0M402.1 554.5L437.3 568.9L472.7 608.2L508.0 583.5M402.1 557.4L437.3 575.3L472.7 603.6L508.0 551.7M402.1 553.5L437.3 551.3L472.7 560.3L508.0 551.9M402.1 551.0L437.3 556.5L472.7 590.3L508.0 551.0M402.1 554.8L437.3 573.0L472.7 612.9L508.0 578.1M402.1 560.4L437.3 569.5L472.7 609.5L508.0 562.7M402.1 559.4L437.3 566.8L472.7 618.8L508.0 570.1M402.1 555.3L437.3 568.9L472.7 558.0L508.0 562.0M402.1 552.3L437.3 557.1L472.7 591.7L508.0 575.3M402.1 556.3L437.3 551.0L472.7 592.1L508.0 555.0M402.1 554.2L437.3 597.3L472.7 619.1L508.0 552.4M402.1 555.4L437.3 552.8L472.7 602.6L508.0 550.5M402.1 556.0L437.3 552.8L472.7 570.6L508.0 552.4M402.1 554.0L437.3 578.8L472.7 567.6L508.0 556.1M402.1 555.8L437.3 550.4L472.7 592.2L508.0 560.7M402.1 555.5L437.3 552.3L472.7 602.3L508.0 561.9M402.1 553.6L437.3 555.5L472.7 557.0L508.0 554.2M402.1 555.0L437.3 590.6L472.7 599.8L508.0 553.7M402.1 553.3L437.3 565.5L472.7 602.7L508.0 560.9M402.1 554.9L437.3 554.4L472.7 612.5L508.0 554.3M402.1 557.7L437.3 561.0L472.7 589.6L508.0 574.3M402.1 555.2L437.3 595.7L472.7 567.9L508.0 581.9M402.1 552.0L437.3 554.3L472.7 588.1L508.0 552.5M402.1 554.6L437.3 567.4L472.7 569.6L508.0 570.4M402.1 550.6L437.3 578.7L472.7 599.7L508.0 551.7M402.1 560.5L437.3 570.6L472.7 579.6L508.0 550.7M402.1 555.7L437.3 591.0L472.7 609.9L508.0 569.2M402.1 553.5L437.3 569.9L472.7 591.6L508.0 564.0M402.1 554.1L437.3 600.2L472.7 600.6L508.0 554.7M402.1 554.7L437.3 550.1L472.7 601.1L508.0 563.4M402.1 554.2L437.3 587.5L472.7 575.5L508.0 581.7M402.1 551.9L437.3 571.0L472.7 606.7L508.0 555.0M402.1 554.1L437.3 573.0L472.7 588.9L508.0 575.2M402.1 554.7L437.3 564.9L472.7 597.3L508.0 554.8M402.1 554.7L437.3 571.0L472.7 563.7L508.0 570.6M402.1 554.2L437.3 552.1L472.7 605.7L508.0 554.0M402.1 555.7L437.3 582.2L472.7 598.2L508.0 552.3M402.1 554.2L437.3 550.1L472.7 578.4L508.0 575.3M402.1 554.4L437.3 568.3L472.7 601.4L508.0 550.9M402.1 553.3L437.3 550.4L472.7 577.2L508.0 553.6M402.1 555.0L437.3 571.3L472.7 554.9L508.0 553.9M402.1 560.1L437.3 593.4L472.7 597.4L508.0 553.9M402.1 554.8L437.3 553.1L472.7 587.2L508.0 564.1M402.1 552.2L437.3 585.2L472.7 622.0L508.0 580.9M402.1 554.3L437.3 554.8L472.7 571.6L508.0 553.7M402.1 554.3L437.3 552.2L472.7 596.6L508.0 560.0M402.1 555.4L437.3 579.0L472.7 583.5L508.0 551.5M402.1 555.6L437.3 572.1L472.7 607.6L508.0 567.1M402.1 553.9L437.3 560.7L472.7 580.5L508.0 553.1M402.1 559.2L437.3 552.4L472.7 589.2L508.0 553.2M402.1 552.1L437.3 552.7L472.7 553.7L508.0 553.3M402.1 551.9L437.3 563.5L472.7 557.8L508.0 554.3M402.1 550.6L437.3 560.6L472.7 585.5L508.0 564.2M402.1 558.1L437.3 553.6L472.7 610.2L508.0 550.6M402.1 558.5L437.3 585.6L472.7 601.8L508.0 563.2M402.1 551.6L437.3 551.3L472.7 586.9L508.0 563.5M402.1 555.4L437.3 552.5L472.7 571.6L508.0 551.8M402.1 556.0L437.3 577.3L472.7 563.2L508.0 550.9M402.1 555.5L437.3 558.6L472.7 564.3L508.0 557.5M402.1 554.2L437.3 555.1L472.7 573.6L508.0 584.7M402.1 557.7L437.3 557.9L472.7 591.8L508.0 554.7M402.1 555.0L437.3 594.3L472.7 585.4L508.0 551.5M402.1 554.2L437.3 595.4L472.7 603.7L508.0 550.7M402.1 553.9L437.3 578.4L472.7 586.2L508.0 564.5M402.1 560.3L437.3 590.9L472.7 596.6L508.0 552.2M402.1 552.9L437.3 563.6L472.7 586.4L508.0 552.9M402.1 555.2L437.3 555.0L472.7 620.8L508.0 551.7M402.1 555.2L437.3 560.3L472.7 616.4L508.0 552.1M402.1 554.7L437.3 551.7L472.7 581.1L508.0 553.9M402.1 555.9L437.3 563.3L472.7 593.4L508.0 557.0M402.1 551.8L437.3 565.4L472.7 606.3L508.0 558.9M402.1 556.7L437.3 588.5L472.7 556.0L508.0 553.7M402.1 554.7L437.3 550.9L472.7 622.2L508.0 565.3M402.1 557.5L437.3 557.1L472.7 558.8L508.0 554.6M402.1 554.4L437.3 550.4L472.7 567.6L508.0 579.0M402.1 551.5L437.3 551.2L472.7 623.6L508.0 563.5M402.1 551.8L437.3 592.9L472.7 564.8L508.0 584.8M402.1 558.1L437.3 559.4L472.7 578.0L508.0 580.7M402.1 554.4L437.3 563.5L472.7 606.4L508.0 579.9M402.1 551.7L437.3 554.5L472.7 579.6L508.0 581.4M402.1 557.0L437.3 597.2L472.7 558.9L508.0 571.7M402.1 555.3L437.3 557.6L472.7 618.6L508.0 573.8M402.1 554.0L437.3 559.2L472.7 601.3L508.0 551.6M402.1 553.9L437.3 569.3L472.7 613.7L508.0 555.0M402.1 555.2L437.3 588.7L472.7 565.1L508.0 582.7M402.1 554.3L437.3 556.7L472.7 613.8L508.0 571.5M402.1 554.2L437.3 596.8L472.7 615.7L508.0 552.3M402.1 555.6L437.3 571.1L472.7 616.3L508.0 554.2M402.1 554.2L437.3 599.0L472.7 568.3L508.0 563.1M402.1 554.6L437.3 572.7L472.7 608.1L508.0 585.6M402.1 554.0L437.3 575.7L472.7 556.0L508.0 560.4M402.1 554.9L437.3 558.9L472.7 620.9L508.0 562.2M402.1 555.7L437.3 556.7L472.7 591.7L508.0 563.6M402.1 555.2L437.3 555.9L472.7 613.4L508.0 550.5M402.1 551.2L437.3 567.4L472.7 609.5L508.0 552.2M402.1 557.2L437.3 554.5L472.7 609.4L508.0 552.8M402.1 557.9L437.3 557.5L472.7 586.0L508.0 554.5M402.1 560.3L437.3 561.7L472.7 606.6L508.0 551.9M402.1 552.3L437.3 554.0L472.7 598.7L508.0 551.5M402.1 550.2L437.3 550.6L472.7 565.8L508.0 554.6M402.1 556.3L437.3 563.8L472.7 583.8L508.0 558.8M402.1 556.0L437.3 550.7L472.7 623.1L508.0 564.0M402.1 557.0L437.3 558.7L472.7 603.2L508.0 555.0M402.1 554.5L437.3 568.6L472.7 583.5L508.0 568.9M402.1 555.0L437.3 564.0L472.7 600.2L508.0 570.3M402.1 552.7L437.3 557.7L472.7 616.4L508.0 552.3M402.1 556.8L437.3 572.2L472.7 615.7L508.0 575.9M402.1 551.9L437.3 551.4L472.7 597.8L508.0 563.2M402.1 555.1L437.3 568.6L472.7 583.0L508.0 551.2M402.1 552.9L437.3 558.7L472.7 590.9L508.0 553.5M402.1 553.0L437.3 552.6L472.7 605.1L508.0 554.4M402.1 551.4L437.3 553.1L472.7 611.7L508.0 580.7M402.1 554.9L437.3 557.1L472.7 600.9L508.0 580.2M402.1 554.4L437.3 555.7L472.7 564.3L508.0 581.3M402.1 554.7L437.3 554.4L472.7 617.5L508.0 572.6M402.1 557.1L437.3 559.9L472.7 618.0L508.0 571.7M402.1 554.9L437.3 566.3L472.7 616.9L508.0 578.2M402.1 551.2L437.3 551.9L472.7 586.2L508.0 579.5M402.1 551.4L437.3 585.0L472.7 621.6L508.0 550.8M402.1 560.2L437.3 588.3L472.7 600.8L508.0 550.5M402.1 554.2L437.3 572.4L472.7 600.9L508.0 553.8M402.1 555.7L437.3 577.2L472.7 593.7L508.0 553.3M402.1 558.1L437.3 550.5L472.7 593.2L508.0 562.7M402.1 558.1L437.3 561.8L472.7 568.0L508.0 557.9M402.1 553.1L437.3 552.1L472.7 601.0L508.0 560.4M402.1 550.7L437.3 561.1L472.7 611.0L508.0 553.8M402.1 554.8L437.3 579.0L472.7 572.9L508.0 566.3M402.1 555.5L437.3 552.3L472.7 606.3L508.0 563.9M402.1 554.9L437.3 552.2L472.7 612.7L508.0 575.6M402.1 552.6L437.3 588.9L472.7 622.1L508.0 554.0M402.1 553.8L437.3 554.3L472.7 557.0L508.0 550.7M402.1 559.4L437.3 560.5L472.7 580.7L508.0 554.0M402.1 556.7L437.3 583.0L472.7 582.5L508.0 574.4M402.1 552.0L437.3 571.1L472.7 616.6L508.0 566.8M402.1 555.0L437.3 555.1L472.7 568.5L508.0 554.3M402.1 554.2L437.3 582.2L472.7 618.9L508.0 554.8M402.1 553.4L437.3 559.3L472.7 579.2L508.0 560.0M402.1 554.3L437.3 561.7L472.7 568.8L508.0 586.7M402.1 553.9L437.3 561.8L472.7 591.4L508.0 576.3M402.1 554.7L437.3 582.7L472.7 608.9L508.0 566.2M402.1 556.4L437.3 553.2L472.7 555.4L508.0 554.5M402.1 557.2L437.3 561.5L472.7 620.3L508.0 553.2M402.1 550.1L437.3 556.6L472.7 602.8L508.0 552.5M402.1 560.4L437.3 558.6L472.7 583.3L508.0 552.4M402.1 554.1L437.3 572.0L472.7 582.3L508.0 567.5M402.1 551.8L437.3 555.0L472.7 608.8L508.0 552.0M402.1 556.4L437.3 568.1L472.7 603.0L508.0 569.7M402.1 559.7L437.3 551.4L472.7 595.0L508.0 564.3M402.1 555.4L437.3 565.0L472.7 555.1L508.0 565.2M402.1 555.7L437.3 581.4L472.7 553.7L508.0 563.9M402.1 555.1L437.3 564.6L472.7 615.9L508.0 559.5M402.1 555.3L437.3 568.2L472.7 566.6L508.0 553.6M402.1 550.9L437.3 550.9L472.7 595.3L508.0 572.0M402.1 558.4L437.3 572.6L472.7 604.1L508.0 568.4M402.1 550.9L437.3 552.0L472.7 592.9L508.0 554.3M402.1 559.7L437.3 599.2L472.7 619.4L508.0 558.0M402.1 551.0L437.3 587.7L472.7 577.6L508.0 550.3M402.1 555.7L437.3 573.3L472.7 578.9L508.0 583.2M402.1 553.9L437.3 554.8L472.7 604.3L508.0 579.1M402.1 560.5L437.3 559.4L472.7 621.2L508.0 555.9M402.1 555.2L437.3 567.1L472.7 576.7L508.0 574.7M402.1 554.1L437.3 567.2L472.7 555.1L508.0 553.2M402.1 554.4L437.3 552.9L472.7 613.4L508.0 556.8M402.1 553.0L437.3 579.0L472.7 554.6L508.0 555.2M402.1 557.8L437.3 553.9L472.7 586.3L508.0 554.3M402.1 555.4L437.3 569.3L472.7 605.4L508.0 553.7M402.1 554.4L437.3 556.5L472.7 574.9L508.0 556.3M402.1 560.0L437.3 553.4L472.7 574.7L508.0 564.2M402.1 552.5L437.3 566.4L472.7 597.9L508.0 553.7M402.1 555.3L437.3 581.4L472.7 585.4L508.0 576.1M402.1 556.1L437.3 576.6L472.7 606.6L508.0 562.3M402.1 556.6L437.3 575.9L472.7 584.6L508.0 554.3M402.1 554.3L437.3 591.8L472.7 608.3L508.0 560.3M402.1 559.7L437.3 566.5L472.7 597.4L508.0 553.4M402.1 556.2L437.3 558.0L472.7 572.4L508.0 553.0M402.1 555.8L437.3 568.6L472.7 572.2L508.0 553.1M402.1 556.0L437.3 550.8L472.7 580.7L508.0 554.4M402.1 553.9L437.3 551.1L472.7 561.7L508.0 562.2M402.1 554.5L437.3 554.1L472.7 573.8L508.0 557.6M402.1 551.5L437.3 553.8L472.7 584.0L508.0 553.6M402.1 554.0L437.3 572.4L472.7 580.5L508.0 551.2M402.1 555.9L437.3 554.4L472.7 613.4L508.0 551.8M402.1 555.7L437.3 596.3L472.7 620.2L508.0 553.9M402.1 558.3L437.3 599.8L472.7 604.6L508.0 553.3M402.1 556.2L437.3 594.7L472.7 575.3L508.0 583.8M402.1 554.5L437.3 572.2L472.7 554.3L508.0 559.1M402.1 553.9L437.3 555.3L472.7 606.6L508.0 550.7M402.1 555.9L437.3 598.6L472.7 555.0L508.0 553.4M402.1 555.6L437.3 568.8L472.7 569.7L508.0 553.5M402.1 553.0L437.3 559.6L472.7 610.9L508.0 551.6M402.1 550.7L437.3 552.8L472.7 587.2L508.0 562.3M402.1 559.0L437.3 560.7L472.7 603.4L508.0 583.8M402.1 559.3L437.3 576.1L472.7 576.5L508.0 553.9M402.1 553.7L437.3 592.8L472.7 597.8L508.0 558.4M402.1 555.0L437.3 562.6L472.7 595.5L508.0 559.3M402.1 555.3L437.3 553.5L472.7 585.5L508.0 578.5M402.1 554.3L437.3 553.1L472.7 601.4L508.0 568.3M402.1 553.6L437.3 558.9L472.7 572.4L508.0 553.0M402.1 559.3L437.3 582.9L472.7 583.5L508.0 550.7M402.1 550.6L437.3 594.0L472.7 619.5L508.0 582.8M402.1 550.7L437.3 596.8L472.7 585.7L508.0 554.5M402.1 555.3L437.3 574.6L472.7 592.8L508.0 564.1M402.1 555.1L437.3 561.7L472.7 559.5L508.0 554.2M402.1 556.0L437.3 586.2L472.7 557.3L508.0 567.9M402.1 554.5L437.3 558.9L472.7 619.0L508.0 551.0M402.1 556.9L437.3 572.3L472.7 574.7L508.0 560.7M402.1 554.8L437.3 553.8L472.7 583.0L508.0 554.0M402.1 551.5L437.3 561.8L472.7 589.0L508.0 558.4M402.1 554.9L437.3 554.2L472.7 614.9L508.0 553.6M402.1 552.6L437.3 575.2L472.7 562.8L508.0 553.7M402.1 557.3L437.3 560.5L472.7 581.8L508.0 562.5M402.1 551.8L437.3 552.1L472.7 582.5L508.0 585.7M402.1 558.3L437.3 600.1L472.7 556.6L508.0 586.6M402.1 556.7L437.3 551.3L472.7 614.4L508.0 564.2M402.1 553.9L437.3 559.8L472.7 596.0L508.0 553.0M402.1 555.8L437.3 550.1L472.7 621.0L508.0 555.0M402.1 558.4L437.3 573.8L472.7 602.2L508.0 556.5M402.1 559.0L437.3 563.4L472.7 553.2L508.0 583.0M402.1 553.2L437.3 556.7L472.7 596.2L508.0 562.6M402.1 560.2L437.3 559.7L472.7 569.3L508.0 555.0M402.1 559.5L437.3 558.8L472.7 565.9L508.0 553.5M402.1 550.9L437.3 552.5L472.7 587.1L508.0 553.2M402.1 553.3L437.3 584.8L472.7 568.8L508.0 560.5M402.1 555.5L437.3 555.6L472.7 606.9L508.0 553.4M402.1 557.1L437.3 565.6L472.7 617.7L508.0 584.1M402.1 552.0L437.3 551.6L472.7 607.6L508.0 557.4M402.1 553.2L437.3 551.0L472.7 616.1L508.0 553.9M402.1 554.2L437.3 565.7L472.7 616.0L508.0 551.9M402.1 554.8L437.3 570.1L472.7 620.0L508.0 550.7M402.1 554.8L437.3 551.8L472.7 618.0L508.0 553.4M402.1 550.4L437.3 551.1L472.7 615.0L508.0 553.5M402.1 554.8L437.3 554.1L472.7 586.7L508.0 557.5M402.1 559.1L437.3 551.8L472.7 601.0L508.0 556.8M402.1 559.2L437.3 551.0L472.7 553.8L508.0 562.2M402.1 554.5L437.3 563.6L472.7 582.5L508.0 551.0M402.1 553.9L437.3 570.0L472.7 559.0L508.0 560.7M402.1 554.4L437.3 595.9L472.7 577.2L508.0 565.2M402.1 553.8L437.3 566.0L472.7 562.5L508.0 552.3M402.1 555.9L437.3 579.0L472.7 558.3L508.0 555.3M402.1 555.5L437.3 555.4L472.7 595.8L508.0 557.9M402.1 556.0L437.3 559.1L472.7 605.3L508.0 551.0M402.1 555.5L437.3 551.2L472.7 617.3L508.0 581.0M402.1 556.0L437.3 556.6L472.7 556.4L508.0 578.7M402.1 552.5L437.3 575.5L472.7 605.0L508.0 554.8M402.1 557.9L437.3 569.2L472.7 554.8L508.0 583.5M402.1 556.8L437.3 562.8L472.7 577.5L508.0 551.4M402.1 554.0L437.3 561.6L472.7 570.3L508.0 550.5M402.1 555.4L437.3 551.1L472.7 620.9L508.0 563.8M402.1 555.6L437.3 558.4L472.7 561.2L508.0 551.6M402.1 550.4L437.3 571.7L472.7 617.2L508.0 556.9M402.1 551.6L437.3 574.3L472.7 570.9L508.0 554.9M402.1 556.6L437.3 560.3L472.7 620.9L508.0 558.2M402.1 557.8L437.3 592.9L472.7 557.7L508.0 551.3M402.1 555.0L437.3 564.9L472.7 619.2L508.0 562.2M402.1 554.6L437.3 551.9L472.7 611.2L508.0 551.0M402.1 555.6L437.3 551.5L472.7 592.0L508.0 561.7M402.1 554.5L437.3 560.8L472.7 610.1L508.0 565.1M402.1 554.1L437.3 561.3L472.7 614.9L508.0 550.1M402.1 552.8L437.3 571.4L472.7 597.3L508.0 578.9M402.1 556.2L437.3 559.9L472.7 619.2L508.0 574.7M402.1 554.3L437.3 565.0L472.7 585.1L508.0 554.4M402.1 559.5L437.3 557.9L472.7 577.0L508.0 550.8M402.1 559.4L437.3 550.9L472.7 589.2L508.0 551.8M402.1 559.6L437.3 554.5L472.7 585.7L508.0 553.4M402.1 558.5L437.3 587.4L472.7 604.3L508.0 585.4M402.1 553.3L437.3 583.8L472.7 590.9L508.0 581.3M402.1 555.5L437.3 556.5L472.7 582.7L508.0 552.5M402.1 555.0L437.3 550.5L472.7 559.2L508.0 552.5M402.1 555.2L437.3 559.6L472.7 588.0L508.0 550.3M402.1 556.8L437.3 553.0L472.7 554.7L508.0 560.8M402.1 559.7L437.3 574.1L472.7 595.2L508.0 554.8M402.1 557.3L437.3 576.3L472.7 583.7L508.0 564.1M402.1 552.2L437.3 550.4L472.7 577.3L508.0 578.7M402.1 555.7L437.3 552.3L472.7 615.6L508.0 553.6M402.1 555.3L437.3 565.4L472.7 568.6L508.0 553.5M402.1 556.0L437.3 553.4L472.7 568.8L508.0 581.2M402.1 553.8L437.3 558.1L472.7 614.5L508.0 554.6M402.1 554.0L437.3 554.0L472.7 581.0L508.0 551.8M402.1 555.5L437.3 559.9L472.7 594.3L508.0 552.9M402.1 554.9L437.3 556.8L472.7 609.5L508.0 562.9M402.1 555.4L437.3 551.1L472.7 606.8L508.0 586.0M402.1 554.6L437.3 566.4L472.7 612.8L508.0 566.2M402.1 554.5L437.3 555.0L472.7 559.7L508.0 574.6M402.1 554.6L437.3 550.8L472.7 569.5L508.0 560.1M402.1 551.5L437.3 597.6L472.7 577.0L508.0 556.2M402.1 550.8L437.3 575.5L472.7 609.5L508.0 556.4M402.1 559.6L437.3 570.1L472.7 577.2L508.0 573.9M402.1 555.5L437.3 560.4L472.7 603.1L508.0 561.7M402.1 559.8L437.3 565.1L472.7 588.6L508.0 567.2M402.1 555.5L437.3 551.1L472.7 622.0L508.0 551.8M402.1 553.0L437.3 581.8L472.7 561.1L508.0 552.5M402.1 554.1L437.3 572.7L472.7 598.4L508.0 550.8M402.1 554.6L437.3 593.8L472.7 579.2L508.0 559.3M402.1 559.0L437.3 583.2L472.7 614.4L508.0 552.4M402.1 552.9L437.3 559.7L472.7 608.3L508.0 570.0M402.1 554.4L437.3 596.4L472.7 575.5L508.0 561.1M402.1 555.8L437.3 551.1L472.7 578.8L508.0 559.8M402.1 553.3L437.3 554.4L472.7 583.6L508.0 563.3M402.1 559.9L437.3 592.9L472.7 595.6L508.0 569.2M402.1 557.2L437.3 553.8L472.7 582.2L508.0 551.0M402.1 553.2L437.3 589.0L472.7 561.7L508.0 557.3M402.1 559.7L437.3 562.3L472.7 569.4L508.0 553.4M402.1 558.2L437.3 579.3L472.7 572.6L508.0 568.3M402.1 554.9L437.3 583.7L472.7 592.2L508.0 553.5M402.1 554.0L437.3 561.7L472.7 592.1L508.0 553.5M402.1 554.5L437.3 552.1L472.7 562.4L508.0 551.2M402.1 559.9L437.3 593.0L472.7 602.6L508.0 564.3M402.1 555.9L437.3 580.0L472.7 587.4L508.0 550.7M402.1 554.0L437.3 563.6L472.7 606.8L508.0 551.8M402.1 555.6L437.3 550.9L472.7 592.3L508.0 573.4M402.1 557.1L437.3 569.8L472.7 605.2L508.0 559.0M402.1 560.5L437.3 552.4L472.7 564.3L508.0 560.1M402.1 556.0L437.3 561.4L472.7 561.9L508.0 550.1M402.1 551.1L437.3 565.3L472.7 597.4L508.0 553.7M402.1 559.7L437.3 554.3L472.7 572.5L508.0 574.3M402.1 554.7L437.3 581.3L472.7 571.7L508.0 555.7M402.1 551.4L437.3 561.9L472.7 564.4L508.0 552.9M402.1 554.0L437.3 598.3L472.7 577.0L508.0 581.8M402.1 555.9L437.3 562.0L472.7 606.2L508.0 553.2M402.1 554.3L437.3 550.1L472.7 582.1L508.0 553.7M402.1 558.4L437.3 594.4L472.7 603.2L508.0 553.0M402.1 554.9L437.3 591.5L472.7 590.6L508.0 573.5M402.1 556.0L437.3 560.4L472.7 619.2L508.0 550.7M402.1 551.9L437.3 551.3L472.7 622.2L508.0 559.7M402.1 552.1L437.3 561.0L472.7 561.1L508.0 553.8M402.1 553.6L437.3 550.7L472.7 591.5L508.0 565.6M402.1 555.5L437.3 572.1L472.7 589.5L508.0 583.7M402.1 553.1L437.3 550.2L472.7 582.3L508.0 581.9M402.1 550.4L437.3 579.6L472.7 621.2L508.0 554.7M402.1 555.5L437.3 554.1L472.7 581.4L508.0 551.2M402.1 554.8L437.3 571.2L472.7 577.7L508.0 553.7M402.1 557.6L437.3 553.0L472.7 619.0L508.0 582.4M402.1 558.6L437.3 598.1L472.7 570.2L508.0 585.2M402.1 553.9L437.3 572.4L472.7 588.7L508.0 550.3M402.1 559.5L437.3 551.4L472.7 588.3L508.0 558.3M402.1 554.5L437.3 554.1L472.7 600.4L508.0 551.4M402.1 558.5L437.3 563.6L472.7 619.2L508.0 553.0M402.1 554.2L437.3 569.1L472.7 607.6L508.0 553.2M402.1 553.8L437.3 551.1L472.7 608.4L508.0 552.0M402.1 550.9L437.3 581.3L472.7 572.4L508.0 560.2M402.1 555.4L437.3 581.8L472.7 582.8L508.0 562.8M402.1 555.4L437.3 595.4L472.7 558.1L508.0 582.2M402.1 555.4L437.3 557.2L472.7 609.1L508.0 550.3M402.1 554.0L437.3 551.6L472.7 572.9L508.0 579.0M402.1 553.2L437.3 588.2L472.7 580.1L508.0 551.6M402.1 558.5L437.3 554.3L472.7 591.5L508.0 580.2M402.1 555.7L437.3 554.3L472.7 578.0L508.0 554.4M402.1 559.6L437.3 580.4L472.7 610.3L508.0 551.5M402.1 556.3L437.3 562.1L472.7 577.0L508.0 554.7M402.1 553.9L437.3 560.4L472.7 603.0L508.0 554.5M402.1 551.0L437.3 596.0L472.7 587.3L508.0 555.1M402.1 550.3L437.3 551.0L472.7 580.7L508.0 578.7M402.1 559.3L437.3 587.9L472.7 606.1L508.0 550.5M402.1 555.4L437.3 586.2L472.7 556.2L508.0 553.6M402.1 552.0L437.3 556.1L472.7 614.3L508.0 550.7M402.1 554.9L437.3 562.8L472.7 562.5L508.0 551.8M402.1 555.6L437.3 553.9L472.7 555.8L508.0 566.9M402.1 553.3L437.3 558.0L472.7 570.6L508.0 552.8M402.1 552.1L437.3 591.9L472.7 592.1L508.0 554.9M402.1 557.9L437.3 565.3L472.7 572.7L508.0 568.5M402.1 554.9L437.3 550.4L472.7 582.4L508.0 554.6M402.1 557.9L437.3 572.7L472.7 554.4L508.0 550.4M402.1 557.3L437.3 582.6L472.7 579.0L508.0 584.0M402.1 554.8L437.3 552.1L472.7 614.0L508.0 553.8M402.1 556.0L437.3 593.0L472.7 586.8L508.0 558.6M402.1 553.0L437.3 567.5L472.7 617.5L508.0 555.4M402.1 555.5L437.3 550.1L472.7 587.9L508.0 553.6M402.1 557.3L437.3 552.6L472.7 614.5L508.0 569.6M402.1 554.4L437.3 587.9L472.7 590.0L508.0 582.8M402.1 556.0L437.3 592.8L472.7 572.2L508.0 573.8M402.1 559.4L437.3 563.7L472.7 621.5L508.0 559.6M402.1 550.1L437.3 556.7L472.7 598.1L508.0 554.0M402.1 557.2L437.3 553.5L472.7 618.7L508.0 556.0M402.1 558.2L437.3 580.9L472.7 600.0L508.0 552.5M402.1 555.0L437.3 566.6L472.7 596.6L508.0 564.3M402.1 560.5L437.3 565.3L472.7 622.5L508.0 576.8M402.1 553.2L437.3 572.8L472.7 600.0L508.0 554.5M402.1 559.2L437.3 556.9L472.7 580.2L508.0 553.4M402.1 559.9L437.3 561.5L472.7 591.3L508.0 556.0M402.1 550.6L437.3 567.1L472.7 614.1L508.0 582.0M402.1 554.9L437.3 554.2L472.7 594.7L508.0 557.5M402.1 551.1L437.3 573.1L472.7 622.1L508.0 553.5M402.1 551.6L437.3 559.4L472.7 612.4L508.0 560.7M402.1 553.9L437.3 554.0L472.7 593.4L508.0 552.0M402.1 560.0L437.3 571.0L472.7 611.2L508.0 566.5M402.1 554.3L437.3 598.5L472.7 586.6L508.0 553.8M402.1 559.4L437.3 601.7L472.7 614.2L508.0 559.3M402.1 560.4L437.3 553.8L472.7 574.2L508.0 577.5M402.1 552.4L437.3 553.4L472.7 568.4L508.0 564.6M402.1 555.8L437.3 555.8L472.7 569.0L508.0 575.0M402.1 553.8L437.3 599.3L472.7 575.6L508.0 554.9M402.1 554.8L437.3 575.3L472.7 583.9L508.0 551.9M402.1 553.3L437.3 551.0L472.7 565.5L508.0 553.0M402.1 554.3L437.3 560.9L472.7 614.4L508.0 554.1M402.1 550.5L437.3 566.4L472.7 620.1L508.0 583.0M402.1 555.0L437.3 550.6L472.7 599.0L508.0 554.3M402.1 552.3L437.3 550.6L472.7 555.6L508.0 552.8M402.1 552.7L437.3 575.6L472.7 591.1L508.0 562.5M402.1 554.5L437.3 555.5L472.7 586.1L508.0 556.6M402.1 554.9L437.3 553.4L472.7 603.5L508.0 557.5M402.1 555.2L437.3 552.7L472.7 586.2L508.0 555.6M402.1 554.3L437.3 551.6L472.7 575.1L508.0 578.9M402.1 557.0L437.3 554.5L472.7 585.7L508.0 555.2M402.1 555.2L437.3 594.7L472.7 620.4L508.0 564.4M402.1 554.3L437.3 572.7L472.7 597.7L508.0 554.9M402.1 555.8L437.3 580.8L472.7 595.3L508.0 580.5M402.1 556.7L437.3 558.3L472.7 614.4L508.0 562.9M402.1 558.6L437.3 561.3L472.7 620.8L508.0 577.6M402.1 553.0L437.3 550.6L472.7 578.7L508.0 553.0M402.1 551.9L437.3 576.8L472.7 622.6L508.0 550.8M402.1 552.5L437.3 588.6L472.7 601.9L508.0 553.4M402.1 554.0L437.3 598.7L472.7 583.4L508.0 559.5M402.1 554.5L437.3 580.9L472.7 572.7L508.0 557.9M402.1 559.5L437.3 552.0L472.7 603.0L508.0 554.4M402.1 551.8L437.3 559.0L472.7 617.8L508.0 568.6M402.1 555.1L437.3 575.8L472.7 560.4L508.0 585.0M402.1 554.1L437.3 560.3L472.7 580.4L508.0 551.8M402.1 558.4L437.3 557.9L472.7 575.2L508.0 556.1M402.1 553.8L437.3 571.4L472.7 580.2L508.0 553.3M402.1 557.9L437.3 599.9L472.7 578.8L508.0 557.0M402.1 550.7L437.3 556.1L472.7 618.0L508.0 564.5M402.1 554.0L437.3 560.1L472.7 613.6L508.0 583.9M402.1 554.8L437.3 593.3L472.7 563.5L508.0 554.4M402.1 554.2L437.3 562.8L472.7 601.2L508.0 555.0M402.1 556.4L437.3 586.7L472.7 583.2L508.0 586.1M402.1 554.9L437.3 567.2L472.7 578.4L508.0 574.6M402.1 559.0L437.3 555.1L472.7 588.2L508.0 550.8M402.1 555.9L437.3 559.4L472.7 618.9L508.0 553.4M402.1 555.9L437.3 571.5L472.7 585.2L508.0 567.6M402.1 557.6L437.3 554.3L472.7 590.9L508.0 560.2M402.1 555.3L437.3 575.4L472.7 601.4L508.0 553.8M402.1 559.4L437.3 557.8L472.7 592.2L508.0 552.0M402.1 560.1L437.3 573.4L472.7 585.4L508.0 576.2M402.1 555.7L437.3 558.5L472.7 620.7L508.0 553.9M402.1 550.2L437.3 560.3L472.7 596.1L508.0 554.7M402.1 553.9L437.3 559.4L472.7 607.7L508.0 553.4M402.1 555.3L437.3 552.8L472.7 589.0L508.0 578.3M402.1 557.0L437.3 553.4L472.7 609.9L508.0 560.2M402.1 558.4L437.3 550.4L472.7 593.2L508.0 554.0M402.1 555.3L437.3 578.1L472.7 591.3L508.0 564.0M402.1 554.2L437.3 550.3L472.7 611.2L508.0 554.8M402.1 552.7L437.3 557.2L472.7 604.6L508.0 558.3M402.1 555.1L437.3 586.3L472.7 585.4L508.0 554.9M402.1 552.3L437.3 601.6L472.7 583.0L508.0 552.0M402.1 552.9L437.3 576.7L472.7 560.3L508.0 553.0M402.1 552.3L437.3 565.2L472.7 582.6L508.0 578.2M402.1 555.7L437.3 558.3L472.7 585.9L508.0 553.8M402.1 555.1L437.3 552.1L472.7 554.8L508.0 583.0M402.1 557.7L437.3 553.0L472.7 555.1L508.0 562.0M402.1 554.6L437.3 551.5L472.7 588.0L508.0 553.2M402.1 559.8L437.3 552.3L472.7 590.2L508.0 552.8M402.1 555.1L437.3 552.4L472.7 558.3L508.0 550.2M402.1 557.6L437.3 550.4L472.7 597.5L508.0 564.3M402.1 555.0L437.3 554.6L472.7 569.6L508.0 555.1M402.1 557.3L437.3 585.7L472.7 609.1L508.0 553.9M402.1 560.5L437.3 560.3L472.7 609.9L508.0 552.6M402.1 555.3L437.3 565.5L472.7 601.7L508.0 551.5M402.1 555.3L437.3 556.8L472.7 588.9L508.0 562.4M402.1 554.7L437.3 573.6L472.7 596.9L508.0 572.8M402.1 558.3L437.3 551.4L472.7 607.2L508.0 565.9M402.1 554.9L437.3 573.9L472.7 616.6L508.0 552.9M402.1 555.8L437.3 565.0L472.7 618.1L508.0 581.1M402.1 559.1L437.3 583.8L472.7 562.1L508.0 565.6M402.1 555.3L437.3 551.5L472.7 572.3L508.0 552.0M402.1 554.2L437.3 551.9L472.7 572.8L508.0 550.6M402.1 555.8L437.3 551.0L472.7 582.2L508.0 557.5M402.1 554.0L437.3 578.9L472.7 585.7L508.0 552.8M402.1 553.2L437.3 571.3L472.7 591.4L508.0 559.7M402.1 560.3L437.3 551.6L472.7 579.4L508.0 564.3M402.1 556.7L437.3 552.2L472.7 593.3L508.0 554.7M402.1 555.9L437.3 589.9L472.7 564.7L508.0 576.6M402.1 554.5L437.3 564.6L472.7 605.0L508.0 556.6M402.1 555.0L437.3 596.0L472.7 591.6L508.0 553.8M402.1 554.6L437.3 553.1L472.7 573.9L508.0 550.6M402.1 559.2L437.3 552.9L472.7 585.3L508.0 551.4M402.1 555.9L437.3 551.1L472.7 575.9L508.0 568.2M402.1 557.7L437.3 553.4L472.7 576.9L508.0 558.2M402.1 553.8L437.3 566.8L472.7 596.5L508.0 582.1M402.1 554.1L437.3 569.1L472.7 593.6L508.0 582.2M402.1 555.8L437.3 557.6L472.7 619.1L508.0 550.2M402.1 551.9L437.3 566.7L472.7 596.0L508.0 571.3M402.1 558.1L437.3 550.8L472.7 558.1L508.0 561.0M402.1 560.2L437.3 564.6L472.7 618.2L508.0 553.3M402.1 555.5L437.3 565.0L472.7 560.4L508.0 567.7M402.1 554.2L437.3 550.5L472.7 565.8L508.0 558.7M402.1 550.9L437.3 575.0L472.7 573.8L508.0 576.9M402.1 554.9L437.3 571.6L472.7 611.0L508.0 552.5M402.1 558.1L437.3 593.8L472.7 567.6L508.0 561.6M402.1 554.5L437.3 551.4L472.7 555.2L508.0 572.4M402.1 560.3L437.3 562.1L472.7 599.6L508.0 563.2M402.1 552.8L437.3 565.6L472.7 612.8L508.0 554.5M402.1 555.7L437.3 552.0L472.7 611.2L508.0 557.7M402.1 558.7L437.3 551.6L472.7 603.2L508.0 563.2M402.1 557.9L437.3 580.0L472.7 603.8L508.0 563.4M402.1 552.6L437.3 588.7L472.7 617.7L508.0 561.3M402.1 551.5L437.3 552.2L472.7 606.8L508.0 556.5M402.1 557.2L437.3 550.8L472.7 597.1L508.0 560.8M402.1 550.1L437.3 561.4L472.7 576.3L508.0 553.7M402.1 552.1L437.3 555.3L472.7 553.7L508.0 561.4M402.1 555.7L437.3 599.8L472.7 623.1L508.0 578.6M402.1 559.6L437.3 563.3L472.7 561.2L508.0 581.0M402.1 557.8L437.3 593.4L472.7 562.8L508.0 560.8M402.1 555.2L437.3 588.0L472.7 555.1L508.0 550.4M402.1 556.9L437.3 596.0L472.7 589.0L508.0 558.3M402.1 557.3L437.3 561.6L472.7 596.1L508.0 559.5M402.1 556.0L437.3 560.3L472.7 606.4L508.0 583.7M402.1 551.9L437.3 566.4L472.7 601.6L508.0 555.7M402.1 559.9L437.3 555.7L472.7 603.8L508.0 584.6M402.1 551.2L437.3 593.1L472.7 603.3L508.0 566.8M402.1 555.2L437.3 577.4L472.7 593.8L508.0 569.7M402.1 553.9L437.3 583.3L472.7 618.4L508.0 561.7M402.1 554.9L437.3 562.6L472.7 613.3L508.0 573.2M402.1 550.9L437.3 553.8L472.7 593.0L508.0 570.6M402.1 557.3L437.3 583.2L472.7 621.6L508.0 586.3M402.1 556.0L437.3 551.8L472.7 567.8L508.0 556.2M402.1 554.9L437.3 570.5L472.7 578.1L508.0 564.6M402.1 554.9L437.3 581.0L472.7 604.2L508.0 552.1M402.1 555.7L437.3 575.4L472.7 574.5L508.0 552.8M402.1 555.8L437.3 554.2L472.7 555.5L508.0 557.0M402.1 559.0L437.3 601.1L472.7 572.7L508.0 551.3M402.1 554.9L437.3 566.5L472.7 601.6L508.0 562.2M402.1 552.6L437.3 573.5L472.7 583.5L508.0 581.4M402.1 552.1L437.3 561.8L472.7 578.0L508.0 551.8M402.1 555.3L437.3 568.2L472.7 567.6L508.0 550.6M402.1 550.4L437.3 592.1L472.7 595.1L508.0 583.4M402.1 550.5L437.3 585.8L472.7 603.6L508.0 559.5M402.1 555.7L437.3 550.7L472.7 595.0L508.0 584.6M402.1 558.5L437.3 560.7L472.7 620.2L508.0 553.9M402.1 552.5L437.3 551.5L472.7 565.8L508.0 552.2M402.1 550.9L437.3 550.9L472.7 580.4L508.0 578.9M402.1 554.3L437.3 559.4L472.7 587.4L508.0 553.3M402.1 550.6L437.3 551.6L472.7 586.4L508.0 555.0M402.1 555.0L437.3 566.9L472.7 556.7L508.0 572.8M402.1 554.8L437.3 573.2L472.7 620.9L508.0 565.4M402.1 559.2L437.3 553.5L472.7 561.5L508.0 568.3M402.1 555.5L437.3 571.6L472.7 601.3L508.0 568.9M402.1 551.2L437.3 574.8L472.7 589.0L508.0 555.0M402.1 558.7L437.3 564.0L472.7 592.6L508.0 581.9M402.1 558.1L437.3 567.6L472.7 599.8L508.0 551.2" fill="none" stroke="#666" stroke-opacity="0.042" stroke-width="0.45"/>
<line x1="402.10" y1="552.80" x2="402.10" y2="550.50" stroke="#F8766D" stroke-width="0.75"/>
<line x1="402.10" y1="556.40" x2="402.10" y2="559.50" stroke="#F8766D" stroke-width="0.75"/>
<rect x="388.50" y="552.80" width="27.40" height="3.60" fill="none" stroke="#F8766D" stroke-width="0.75"/>
<line x1="388.50" y1="554.60" x2="415.90" y2="554.60" stroke="#F8766D" stroke-width="0.75"/>
<line x1="437.30" y1="554.50" x2="437.30" y2="549.50" stroke="#7CAE00" stroke-width="0.75"/>
<line x1="437.30" y1="575.00" x2="437.30" y2="605.40" stroke="#7CAE00" stroke-width="0.75"/>
<rect x="424.00" y="554.50" width="26.90" height="20.50" fill="none" stroke="#7CAE00" stroke-width="0.75"/>
<line x1="424.00" y1="562.90" x2="450.90" y2="562.90" stroke="#7CAE00" stroke-width="0.75"/>
<line x1="472.70" y1="576.20" x2="472.70" y2="552.80" stroke="#00BFC4" stroke-width="0.75"/>
<line x1="472.70" y1="604.20" x2="472.70" y2="623.60" stroke="#00BFC4" stroke-width="0.75"/>
<rect x="459.60" y="576.20" width="26.40" height="28.00" fill="none" stroke="#00BFC4" stroke-width="0.75"/>
<line x1="459.60" y1="589.10" x2="486.00" y2="589.10" stroke="#00BFC4" stroke-width="0.75"/>
<line x1="508.00" y1="552.80" x2="508.00" y2="549.50" stroke="#C77CFF" stroke-width="0.75"/>
<line x1="508.00" y1="565.20" x2="508.00" y2="583.00" stroke="#C77CFF" stroke-width="0.75"/>
<rect x="494.60" y="552.80" width="27.10" height="12.40" fill="none" stroke="#C77CFF" stroke-width="0.75"/>
<line x1="494.60" y1="555.20" x2="521.70" y2="555.20" stroke="#C77CFF" stroke-width="0.75"/>
<rect x="401.10" y="561.00" width="2.20" height="18.00" fill="#F8766D" rx="1"/>
<circle cx="402.2" cy="582" r="1" fill="#F8766D"/>
<circle cx="402.2" cy="585.5" r="1" fill="#F8766D"/>
<circle cx="402.2" cy="589" r="1" fill="#F8766D"/>
<circle cx="402.2" cy="593.3" r="1" fill="#F8766D"/>
<rect x="436.20" y="606.00" width="2.20" height="12.00" fill="#7CAE00" rx="1"/>
<circle cx="437.3" cy="622.9" r="1" fill="#7CAE00"/>
<rect x="507.00" y="583.20" width="2.20" height="20.00" fill="#C77CFF" rx="1"/>
<rect x="507.00" y="606.00" width="2.20" height="11.00" fill="#C77CFF" rx="1"/>
<line x1="380.80" y1="522.70" x2="380.80" y2="629.30" stroke="#444" stroke-width="0.8"/>
<line x1="380.40" y1="628.90" x2="529.20" y2="628.90" stroke="#444" stroke-width="0.8"/>
<line x1="378.10" y1="624.40" x2="380.80" y2="624.40" stroke="#333" stroke-width="0.8"/>
<text x="376.60" y="628.30" font-size="10.9" text-anchor="end" fill="#4D4D4D">0.0</text>
<line x1="378.10" y1="586.85" x2="380.80" y2="586.85" stroke="#333" stroke-width="0.8"/>
<text x="376.60" y="590.75" font-size="10.9" text-anchor="end" fill="#4D4D4D">0.5</text>
<line x1="378.10" y1="549.30" x2="380.80" y2="549.30" stroke="#333" stroke-width="0.8"/>
<text x="376.60" y="553.20" font-size="10.9" text-anchor="end" fill="#4D4D4D">1.0</text>
<line x1="402.10" y1="628.90" x2="402.10" y2="631.60" stroke="#333" stroke-width="0.8"/>
<text transform="translate(403.1 635.5) rotate(-45)" x="0" y="3.9" font-size="10.9" text-anchor="end" fill="#4D4D4D">WT</text>
<line x1="437.30" y1="628.90" x2="437.30" y2="631.60" stroke="#333" stroke-width="0.8"/>
<text transform="translate(438.3 635.5) rotate(-45)" x="0" y="3.9" font-size="10.9" text-anchor="end" fill="#4D4D4D">NLSs trunc</text>
<line x1="472.70" y1="628.90" x2="472.70" y2="631.60" stroke="#333" stroke-width="0.8"/>
<text transform="translate(473.7 635.5) rotate(-45)" x="0" y="3.9" font-size="10.9" text-anchor="end" fill="#4D4D4D">DNLs trunc</text>
<line x1="508.00" y1="628.90" x2="508.00" y2="631.60" stroke="#333" stroke-width="0.8"/>
<text transform="translate(509.0 635.5) rotate(-45)" x="0" y="3.9" font-size="10.9" text-anchor="end" fill="#4D4D4D">Random trunc</text>
<text transform="translate(357.50 577.60) rotate(-90)" x="0" y="3.90" font-size="10.9" text-anchor="middle" fill="#000">Predicted Scores</text>
<path d="M402.10 513.50 L402.10 511.00 L472.70 511.00 L472.70 513.50" fill="none" stroke="#111" stroke-width="0.8" stroke-linejoin="miter"/>
<text x="442.90" y="507.90" font-size="10.9" text-anchor="middle">p &lt; 2.2e-308</text>
<path d="M437.30 529.90 L437.30 527.40 L472.70 527.40 L472.70 529.90" fill="none" stroke="#111" stroke-width="0.8" stroke-linejoin="miter"/>
<text x="458.20" y="524.60" font-size="10.9" text-anchor="middle">p &lt; 2.2e-308</text>
<path d="M402.10 548.90 L402.10 546.40 L437.30 546.40 L437.30 548.90" fill="none" stroke="#111" stroke-width="0.8" stroke-linejoin="miter"/>
<text x="420.00" y="542.90" font-size="10.9" text-anchor="middle">p = 5.5e-46</text>
<text x="544.30" y="518.70" font-size="22.5">L</text>
<rect x="613.80" y="614.40" width="16.90" height="12.30" fill="#F8766D"/>
<rect x="630.70" y="523.70" width="16.80" height="103.00" fill="#00BFC4"/>
<line x1="600.90" y1="523.70" x2="600.90" y2="627.10" stroke="#444" stroke-width="0.8"/>
<line x1="600.50" y1="626.70" x2="655.80" y2="626.70" stroke="#444" stroke-width="0.8"/>
<line x1="598.20" y1="541.50" x2="600.90" y2="541.50" stroke="#333" stroke-width="0.8"/>
<text x="596.90" y="545.55" font-size="11.3" text-anchor="end" fill="#4D4D4D">0.75</text>
<line x1="598.20" y1="570.10" x2="600.90" y2="570.10" stroke="#333" stroke-width="0.8"/>
<text x="596.90" y="574.15" font-size="11.3" text-anchor="end" fill="#4D4D4D">0.50</text>
<line x1="598.20" y1="598.10" x2="600.90" y2="598.10" stroke="#333" stroke-width="0.8"/>
<text x="596.90" y="602.15" font-size="11.3" text-anchor="end" fill="#4D4D4D">0.25</text>
<line x1="598.20" y1="626.70" x2="600.90" y2="626.70" stroke="#333" stroke-width="0.8"/>
<text x="596.90" y="630.75" font-size="11.3" text-anchor="end" fill="#4D4D4D">0.00</text>
<line x1="630.70" y1="626.70" x2="630.70" y2="629.40" stroke="#333" stroke-width="0.8"/>
<text x="634.40" y="644.00" font-size="10.9" text-anchor="middle" fill="#4D4D4D">Nucleus</text>
<text transform="translate(564.90 580.00) rotate(-90)" x="0" y="3.90" font-size="10.9" text-anchor="middle" fill="#000">Annotated Regions</text>
<rect x="602.90" y="655.00" width="10.60" height="10.00" fill="#F8766D"/>
<text x="618.60" y="664.60" font-size="10.9">Validated</text>
<rect x="602.90" y="671.60" width="10.60" height="10.00" fill="#00BFC4"/>
<text x="618.60" y="681.20" font-size="10.9">Predicted</text>
</svg>
</body></html>
